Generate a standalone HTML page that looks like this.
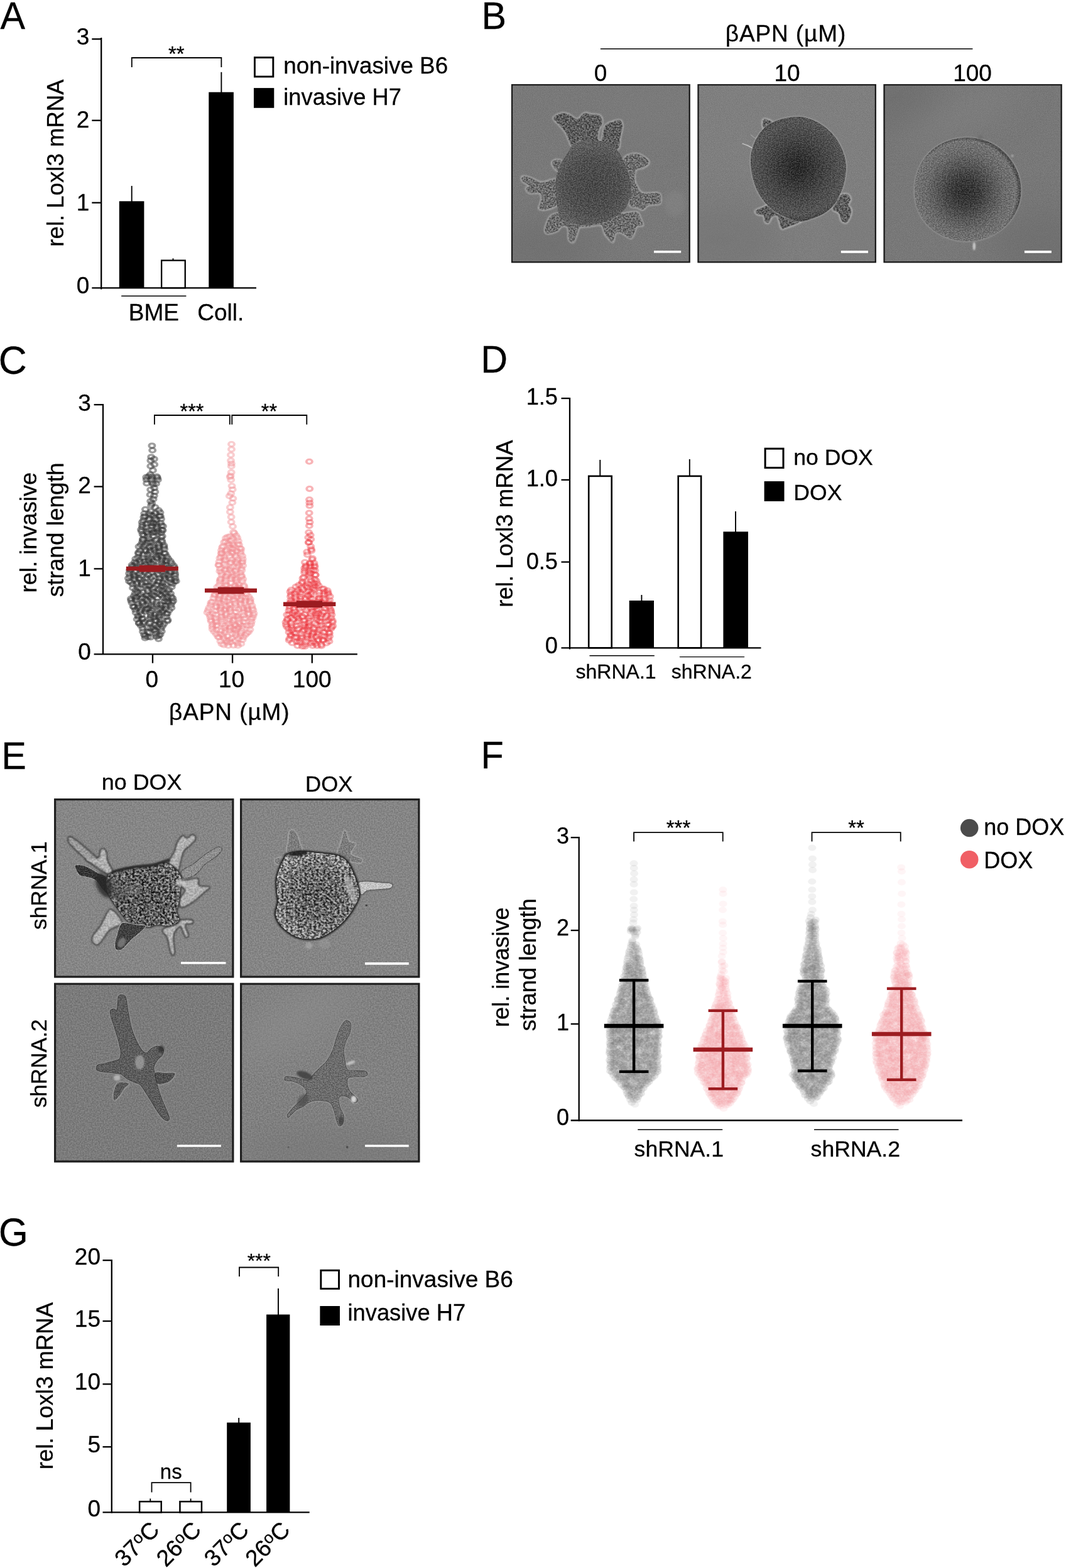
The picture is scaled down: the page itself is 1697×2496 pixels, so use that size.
<!DOCTYPE html>
<html lang="en">
<head>
<meta charset="utf-8">
<title>Figure</title>
<style>
html,body{margin:0;padding:0;background:#fff;}
body{width:1697px;height:2496px;overflow:hidden;}
svg{display:block;}
svg text{font-family:"Liberation Sans",sans-serif;fill:#000;stroke:#000;stroke-width:0.3px;}
</style>
</head>
<body>
<svg width="1697" height="2496" viewBox="0 0 1697 2496">
<text transform="translate(0.6 45.7) scale(0.965 1)" font-size="61.5">A</text>
<text transform="translate(766.4 45.7) scale(0.965 1)" font-size="61.5">B</text>
<text transform="translate(-2.2 595.4) scale(0.98 1)" font-size="63.5">C</text>
<text transform="translate(765.2 593.0) scale(0.965 1)" font-size="61.5">D</text>
<text transform="translate(2.2 1223.8) scale(0.965 1)" font-size="61.5">E</text>
<text transform="translate(765.6 1223.4) scale(0.965 1)" font-size="61.5">F</text>
<text transform="translate(-2.0 1982.9) scale(0.96 1)" font-size="62.5">G</text>
<line x1="161.2" y1="59.9" x2="161.2" y2="460.5" stroke="#000" stroke-width="2.3"/>
<line x1="146.3" y1="458.3" x2="408" y2="458.3" stroke="#000" stroke-width="2.3"/>
<line x1="146.3" y1="62.2" x2="161.2" y2="62.2" stroke="#000" stroke-width="2.3"/>
<line x1="146.3" y1="191.7" x2="161.2" y2="191.7" stroke="#000" stroke-width="2.3"/>
<line x1="146.3" y1="322.7" x2="161.2" y2="322.7" stroke="#000" stroke-width="2.3"/>
<text x="142.3" y="71.2" font-size="37" text-anchor="end">3</text>
<text x="142.3" y="203.4" font-size="37" text-anchor="end">2</text>
<text x="142.3" y="335" font-size="37" text-anchor="end">1</text>
<text x="142.3" y="467" font-size="37" text-anchor="end">0</text>
<text x="100.9" y="259.5" font-size="36.6" text-anchor="middle" transform="rotate(-90 100.9 259.5)">rel. Loxl3 mRNA</text>
<rect x="189.80" y="320.30" width="39.60" height="138.00" fill="#000"/>
<rect x="257.15" y="414.55" width="37.60" height="43.75" fill="#fff" stroke="#000" stroke-width="2.3"/>
<rect x="332.30" y="146.70" width="39.60" height="311.60" fill="#000"/>
<line x1="209.7" y1="295.9" x2="209.7" y2="321" stroke="#000" stroke-width="1.9"/>
<line x1="275.5" y1="411.3" x2="275.5" y2="414" stroke="#000" stroke-width="1.9"/>
<line x1="352.4" y1="114.8" x2="352.4" y2="147" stroke="#000" stroke-width="1.9"/>
<path d="M209.8 106.9V92H352.4V106.9" fill="none" stroke="#000" stroke-width="1.8"/>
<text x="280.8" y="97" font-size="33" text-anchor="middle">**</text>
<line x1="193.2" y1="471.3" x2="296.4" y2="471.3" stroke="#000" stroke-width="1.4"/>
<text x="244.9" y="509.7" font-size="37" text-anchor="middle">BME</text>
<text x="351.2" y="509.7" font-size="37" text-anchor="middle">Coll.</text>
<rect x="405.45" y="91.55" width="29.40" height="30.45" fill="#fff" stroke="#000" stroke-width="2.9"/>
<rect x="404.00" y="140.10" width="32.30" height="31.70" fill="#000"/>
<text x="451.3" y="117" font-size="36.8" text-anchor="start">non-invasive B6</text>
<text x="451.3" y="166.5" font-size="36.3" text-anchor="start">invasive H7</text>
<line x1="907" y1="633" x2="907" y2="1033.5" stroke="#000" stroke-width="2.3"/>
<line x1="893.5" y1="1031.3" x2="1211.5" y2="1031.3" stroke="#000" stroke-width="2.3"/>
<line x1="893.5" y1="634.1" x2="907" y2="634.1" stroke="#000" stroke-width="2.3"/>
<line x1="893.5" y1="763.9" x2="907" y2="763.9" stroke="#000" stroke-width="2.3"/>
<line x1="893.5" y1="894.6" x2="907" y2="894.6" stroke="#000" stroke-width="2.3"/>
<text x="888" y="644.3" font-size="36.2" text-anchor="end">1.5</text>
<text x="888" y="774.4" font-size="36.2" text-anchor="end">1.0</text>
<text x="888" y="905.6" font-size="36.2" text-anchor="end">0.5</text>
<text x="888" y="1039.6" font-size="36.2" text-anchor="end">0</text>
<text x="816.2" y="833.6" font-size="36.6" text-anchor="middle" transform="rotate(-90 816.2 833.6)">rel. Loxl3 mRNA</text>
<rect x="937.20" y="757.90" width="36.50" height="273.40" fill="#fff" stroke="#000" stroke-width="2.6"/>
<rect x="1001.70" y="956.00" width="39.30" height="75.30" fill="#000"/>
<rect x="1079.70" y="757.90" width="36.40" height="273.40" fill="#fff" stroke="#000" stroke-width="2.6"/>
<rect x="1151.40" y="846.30" width="39.60" height="185.00" fill="#000"/>
<line x1="955.3" y1="732" x2="955.3" y2="757.5" stroke="#000" stroke-width="1.9"/>
<line x1="1021.4" y1="947" x2="1021.4" y2="957" stroke="#000" stroke-width="1.9"/>
<line x1="1097.8" y1="731" x2="1097.8" y2="757.5" stroke="#000" stroke-width="1.9"/>
<line x1="1171" y1="814" x2="1171" y2="847" stroke="#000" stroke-width="1.9"/>
<line x1="938.5" y1="1043.7" x2="1041.8" y2="1043.7" stroke="#000" stroke-width="1.4"/>
<line x1="1081.9" y1="1045.6" x2="1185.1" y2="1045.6" stroke="#000" stroke-width="1.4"/>
<text x="980.6" y="1080" font-size="32" text-anchor="middle">shRNA.1</text>
<text x="1132.8" y="1080" font-size="32" text-anchor="middle">shRNA.2</text>
<rect x="1218.10" y="714.20" width="28.90" height="30.40" fill="#fff" stroke="#000" stroke-width="3"/>
<rect x="1216.60" y="766.10" width="31.90" height="31.80" fill="#000"/>
<text x="1263.3" y="739.6" font-size="35.6" text-anchor="start">no DOX</text>
<text x="1263.3" y="796.4" font-size="35.6" text-anchor="start">DOX</text>
<line x1="177.8" y1="2005" x2="177.8" y2="2408.6" stroke="#000" stroke-width="2.3"/>
<line x1="163.5" y1="2407.4" x2="492.7" y2="2407.4" stroke="#000" stroke-width="2.3"/>
<line x1="163.5" y1="2006.2" x2="177.8" y2="2006.2" stroke="#000" stroke-width="2.3"/>
<line x1="163.5" y1="2103" x2="177.8" y2="2103" stroke="#000" stroke-width="2.3"/>
<line x1="163.5" y1="2203.3" x2="177.8" y2="2203.3" stroke="#000" stroke-width="2.3"/>
<line x1="163.5" y1="2303.2" x2="177.8" y2="2303.2" stroke="#000" stroke-width="2.3"/>
<text x="160" y="2013.3" font-size="37" text-anchor="end">20</text>
<text x="160" y="2111.8" font-size="37" text-anchor="end">15</text>
<text x="160" y="2212" font-size="37" text-anchor="end">10</text>
<text x="160" y="2311.6" font-size="37" text-anchor="end">5</text>
<text x="160" y="2413.8" font-size="37" text-anchor="end">0</text>
<text x="84" y="2206" font-size="36.6" text-anchor="middle" transform="rotate(-90 84 2206)">rel. Loxl3 mRNA</text>
<rect x="222.15" y="2390.25" width="34.60" height="17.15" fill="#fff" stroke="#000" stroke-width="2.5"/>
<rect x="286.45" y="2390.25" width="34.50" height="17.15" fill="#fff" stroke="#000" stroke-width="2.5"/>
<rect x="361.20" y="2264.50" width="37.70" height="142.90" fill="#000"/>
<rect x="424.10" y="2092.50" width="37.30" height="314.90" fill="#000"/>
<line x1="239.3" y1="2385.5" x2="239.3" y2="2389" stroke="#000" stroke-width="1.9"/>
<line x1="303.6" y1="2385.5" x2="303.6" y2="2389" stroke="#000" stroke-width="1.9"/>
<line x1="380.2" y1="2257" x2="380.2" y2="2265" stroke="#000" stroke-width="1.9"/>
<line x1="443" y1="2050.9" x2="443" y2="2093" stroke="#000" stroke-width="1.9"/>
<path d="M241.5 2375.6V2360.2H303.6V2375.6" fill="none" stroke="#000" stroke-width="1.8"/>
<text x="272.3" y="2353.6" font-size="33" text-anchor="middle">ns</text>
<path d="M381 2032V2017.5H443.2V2032" fill="none" stroke="#000" stroke-width="1.8"/>
<text x="412.3" y="2018" font-size="31.8" text-anchor="middle">***</text>
<rect x="510.85" y="2022.25" width="28.70" height="29.15" fill="#fff" stroke="#000" stroke-width="2.9"/>
<rect x="509.40" y="2079.00" width="31.60" height="31.00" fill="#000"/>
<text x="553.5" y="2048.6" font-size="37" text-anchor="start">non-invasive B6</text>
<text x="553.5" y="2102" font-size="36.3" text-anchor="start">invasive H7</text>
<text x="256" y="2437.5" font-size="37" text-anchor="end" transform="rotate(-45 256 2437.5)">37<tspan font-size="26" dy="-10">o</tspan><tspan dy="10">C</tspan></text>
<text x="322.5" y="2437.5" font-size="37" text-anchor="end" transform="rotate(-45 322.5 2437.5)">26<tspan font-size="26" dy="-10">o</tspan><tspan dy="10">C</tspan></text>
<text x="398.5" y="2437.5" font-size="37" text-anchor="end" transform="rotate(-45 398.5 2437.5)">37<tspan font-size="26" dy="-10">o</tspan><tspan dy="10">C</tspan></text>
<text x="464" y="2437.5" font-size="37" text-anchor="end" transform="rotate(-45 464 2437.5)">26<tspan font-size="26" dy="-10">o</tspan><tspan dy="10">C</tspan></text>
<line x1="164" y1="643" x2="164" y2="1042" stroke="#000" stroke-width="2.3"/>
<line x1="149.6" y1="1041.3" x2="568.9" y2="1041.3" stroke="#000" stroke-width="2.3"/>
<line x1="149.6" y1="644.2" x2="164" y2="644.2" stroke="#000" stroke-width="2.3"/>
<line x1="149.6" y1="774.6" x2="164" y2="774.6" stroke="#000" stroke-width="2.3"/>
<line x1="149.6" y1="905.4" x2="164" y2="905.4" stroke="#000" stroke-width="2.3"/>
<line x1="243.0" y1="1041" x2="243.0" y2="1055.6" stroke="#000" stroke-width="2.3"/>
<line x1="370.1" y1="1041" x2="370.1" y2="1055.6" stroke="#000" stroke-width="2.3"/>
<line x1="496.8" y1="1041" x2="496.8" y2="1055.6" stroke="#000" stroke-width="2.3"/>
<text x="144.8" y="653.5" font-size="37" text-anchor="end">3</text>
<text x="144.8" y="785.4" font-size="37" text-anchor="end">2</text>
<text x="144.8" y="917.4" font-size="37" text-anchor="end">1</text>
<text x="144.8" y="1050" font-size="37" text-anchor="end">0</text>
<text x="241.8" y="1093.5" font-size="37" text-anchor="middle">0</text>
<text x="368.6" y="1093.5" font-size="37" text-anchor="middle">10</text>
<text x="496.7" y="1093.5" font-size="37" text-anchor="middle">100</text>
<text x="365.3" y="1146" font-size="37" text-anchor="middle" letter-spacing="0.9">βAPN (µM)</text>
<text x="57.6" y="847.6" font-size="36.3" text-anchor="middle" transform="rotate(-90 57.6 847.6)">rel. invasive</text>
<text x="101" y="843.4" font-size="37" text-anchor="middle" transform="rotate(-90 101 843.4)">strand length</text>
<g fill="none" stroke="#303030" stroke-opacity="0.47" stroke-width="3.9" transform="scale(1 0.775)">
<circle cx="241.9" cy="915.4" r="4.55"/><circle cx="242.7" cy="924.9" r="4.55"/><circle cx="240.7" cy="938.6" r="4.55"/><circle cx="245.4" cy="942.8" r="4.55"/><circle cx="239.9" cy="945.9" r="4.55"/><circle cx="245.7" cy="954.1" r="4.55"/><circle cx="239.8" cy="957.4" r="4.55"/><circle cx="243.4" cy="966.0" r="4.55"/><circle cx="236.6" cy="978.7" r="4.55"/><circle cx="239.3" cy="974.6" r="4.55"/><circle cx="249.6" cy="978.8" r="4.55"/><circle cx="232.8" cy="980.2" r="4.55"/><circle cx="241.8" cy="979.4" r="4.55"/><circle cx="250.5" cy="981.3" r="4.55"/><circle cx="233.2" cy="985.1" r="4.55"/><circle cx="240.6" cy="985.0" r="4.55"/><circle cx="251.3" cy="985.4" r="4.55"/><circle cx="233.6" cy="992.7" r="4.55"/><circle cx="242.7" cy="991.8" r="4.55"/><circle cx="248.5" cy="993.4" r="4.55"/><circle cx="244.2" cy="995.1" r="4.55"/><circle cx="245.6" cy="1002.6" r="4.55"/><circle cx="239.7" cy="1005.8" r="4.55"/><circle cx="246.8" cy="1010.2" r="4.55"/><circle cx="239.1" cy="1016.1" r="4.55"/><circle cx="245.3" cy="1018.2" r="4.55"/><circle cx="244.1" cy="1025.3" r="4.55"/><circle cx="239.7" cy="1029.4" r="4.55"/><circle cx="241.8" cy="1034.0" r="4.55"/><circle cx="240.6" cy="1038.0" r="4.55"/><circle cx="247.1" cy="1042.1" r="4.55"/><circle cx="231.4" cy="1046.1" r="4.55"/><circle cx="240.4" cy="1050.3" r="4.55"/><circle cx="252.5" cy="1048.0" r="4.55"/><circle cx="229.8" cy="1054.8" r="4.55"/><circle cx="237.4" cy="1055.1" r="4.55"/><circle cx="247.3" cy="1053.7" r="4.55"/><circle cx="255.0" cy="1052.6" r="4.55"/><circle cx="230.8" cy="1060.1" r="4.55"/><circle cx="240.9" cy="1058.0" r="4.55"/><circle cx="244.2" cy="1059.2" r="4.55"/><circle cx="254.0" cy="1060.0" r="4.55"/><circle cx="228.9" cy="1062.1" r="4.55"/><circle cx="238.2" cy="1064.8" r="4.55"/><circle cx="246.2" cy="1064.2" r="4.55"/><circle cx="255.4" cy="1060.4" r="4.55"/><circle cx="228.4" cy="1068.8" r="4.55"/><circle cx="236.5" cy="1068.0" r="4.55"/><circle cx="248.9" cy="1068.1" r="4.55"/><circle cx="256.5" cy="1066.0" r="4.55"/><circle cx="226.2" cy="1072.5" r="4.55"/><circle cx="239.6" cy="1074.3" r="4.55"/><circle cx="244.2" cy="1074.3" r="4.55"/><circle cx="255.7" cy="1074.0" r="4.55"/><circle cx="226.6" cy="1078.2" r="4.55"/><circle cx="233.1" cy="1076.0" r="4.55"/><circle cx="244.2" cy="1075.6" r="4.55"/><circle cx="248.7" cy="1075.5" r="4.55"/><circle cx="257.1" cy="1079.1" r="4.55"/><circle cx="226.5" cy="1082.5" r="4.55"/><circle cx="232.8" cy="1082.8" r="4.55"/><circle cx="242.3" cy="1080.0" r="4.55"/><circle cx="249.2" cy="1081.1" r="4.55"/><circle cx="259.5" cy="1080.7" r="4.55"/><circle cx="224.5" cy="1087.7" r="4.55"/><circle cx="236.8" cy="1088.8" r="4.55"/><circle cx="241.9" cy="1088.8" r="4.55"/><circle cx="249.1" cy="1086.1" r="4.55"/><circle cx="257.8" cy="1088.7" r="4.55"/><circle cx="225.4" cy="1091.4" r="4.55"/><circle cx="233.5" cy="1092.9" r="4.55"/><circle cx="245.4" cy="1092.0" r="4.55"/><circle cx="251.9" cy="1091.1" r="4.55"/><circle cx="259.1" cy="1089.2" r="4.55"/><circle cx="227.1" cy="1097.5" r="4.55"/><circle cx="235.4" cy="1095.8" r="4.55"/><circle cx="243.8" cy="1094.4" r="4.55"/><circle cx="248.4" cy="1094.0" r="4.55"/><circle cx="256.7" cy="1094.2" r="4.55"/><circle cx="228.8" cy="1100.0" r="4.55"/><circle cx="235.2" cy="1101.2" r="4.55"/><circle cx="244.9" cy="1101.2" r="4.55"/><circle cx="258.3" cy="1101.3" r="4.55"/><circle cx="227.4" cy="1107.6" r="4.55"/><circle cx="237.4" cy="1107.2" r="4.55"/><circle cx="249.3" cy="1107.0" r="4.55"/><circle cx="256.6" cy="1103.5" r="4.55"/><circle cx="227.7" cy="1108.6" r="4.55"/><circle cx="238.2" cy="1112.3" r="4.55"/><circle cx="247.4" cy="1110.4" r="4.55"/><circle cx="257.4" cy="1110.0" r="4.55"/><circle cx="226.6" cy="1113.0" r="4.55"/><circle cx="235.1" cy="1114.8" r="4.55"/><circle cx="240.9" cy="1113.6" r="4.55"/><circle cx="252.5" cy="1116.7" r="4.55"/><circle cx="258.2" cy="1113.5" r="4.55"/><circle cx="224.3" cy="1118.9" r="4.55"/><circle cx="230.8" cy="1119.5" r="4.55"/><circle cx="242.6" cy="1121.9" r="4.55"/><circle cx="253.4" cy="1120.2" r="4.55"/><circle cx="261.0" cy="1120.2" r="4.55"/><circle cx="221.0" cy="1122.7" r="4.55"/><circle cx="228.0" cy="1123.2" r="4.55"/><circle cx="238.6" cy="1123.7" r="4.55"/><circle cx="245.2" cy="1124.8" r="4.55"/><circle cx="252.7" cy="1124.0" r="4.55"/><circle cx="261.0" cy="1123.6" r="4.55"/><circle cx="223.1" cy="1130.9" r="4.55"/><circle cx="231.3" cy="1129.5" r="4.55"/><circle cx="238.7" cy="1130.8" r="4.55"/><circle cx="245.3" cy="1129.1" r="4.55"/><circle cx="253.9" cy="1131.8" r="4.55"/><circle cx="261.7" cy="1127.8" r="4.55"/><circle cx="220.5" cy="1134.7" r="4.55"/><circle cx="232.7" cy="1132.4" r="4.55"/><circle cx="238.5" cy="1134.6" r="4.55"/><circle cx="249.3" cy="1133.7" r="4.55"/><circle cx="253.3" cy="1134.5" r="4.55"/><circle cx="261.6" cy="1136.2" r="4.55"/><circle cx="220.5" cy="1137.0" r="4.55"/><circle cx="228.6" cy="1139.6" r="4.55"/><circle cx="235.1" cy="1138.7" r="4.55"/><circle cx="248.5" cy="1140.5" r="4.55"/><circle cx="252.6" cy="1140.4" r="4.55"/><circle cx="263.2" cy="1137.5" r="4.55"/><circle cx="219.7" cy="1144.7" r="4.55"/><circle cx="226.7" cy="1145.5" r="4.55"/><circle cx="237.4" cy="1146.0" r="4.55"/><circle cx="248.7" cy="1144.1" r="4.55"/><circle cx="257.8" cy="1144.1" r="4.55"/><circle cx="265.4" cy="1143.0" r="4.55"/><circle cx="215.8" cy="1147.8" r="4.55"/><circle cx="222.2" cy="1150.0" r="4.55"/><circle cx="236.5" cy="1149.7" r="4.55"/><circle cx="241.1" cy="1148.2" r="4.55"/><circle cx="250.2" cy="1146.6" r="4.55"/><circle cx="258.2" cy="1149.1" r="4.55"/><circle cx="267.8" cy="1147.5" r="4.55"/><circle cx="214.4" cy="1154.7" r="4.55"/><circle cx="224.3" cy="1155.1" r="4.55"/><circle cx="229.8" cy="1152.8" r="4.55"/><circle cx="236.2" cy="1152.1" r="4.55"/><circle cx="244.5" cy="1152.8" r="4.55"/><circle cx="256.7" cy="1151.5" r="4.55"/><circle cx="264.5" cy="1151.5" r="4.55"/><circle cx="271.3" cy="1152.7" r="4.55"/><circle cx="210.1" cy="1160.4" r="4.55"/><circle cx="217.0" cy="1156.8" r="4.55"/><circle cx="230.8" cy="1158.6" r="4.55"/><circle cx="240.5" cy="1157.0" r="4.55"/><circle cx="244.2" cy="1158.7" r="4.55"/><circle cx="257.7" cy="1156.3" r="4.55"/><circle cx="262.9" cy="1159.6" r="4.55"/><circle cx="273.3" cy="1157.1" r="4.55"/><circle cx="210.3" cy="1164.0" r="4.55"/><circle cx="214.4" cy="1160.7" r="4.55"/><circle cx="227.3" cy="1162.3" r="4.55"/><circle cx="233.8" cy="1164.6" r="4.55"/><circle cx="239.7" cy="1164.3" r="4.55"/><circle cx="249.5" cy="1163.0" r="4.55"/><circle cx="259.9" cy="1161.5" r="4.55"/><circle cx="264.9" cy="1161.3" r="4.55"/><circle cx="276.6" cy="1162.1" r="4.55"/><circle cx="208.0" cy="1169.3" r="4.55"/><circle cx="216.7" cy="1166.0" r="4.55"/><circle cx="222.9" cy="1168.0" r="4.55"/><circle cx="235.0" cy="1169.1" r="4.55"/><circle cx="244.4" cy="1168.3" r="4.55"/><circle cx="252.1" cy="1168.0" r="4.55"/><circle cx="262.6" cy="1170.0" r="4.55"/><circle cx="266.7" cy="1166.8" r="4.55"/><circle cx="277.4" cy="1165.7" r="4.55"/><circle cx="206.6" cy="1171.4" r="4.55"/><circle cx="216.4" cy="1173.4" r="4.55"/><circle cx="223.5" cy="1172.2" r="4.55"/><circle cx="231.5" cy="1172.2" r="4.55"/><circle cx="242.5" cy="1170.3" r="4.55"/><circle cx="253.7" cy="1171.0" r="4.55"/><circle cx="260.6" cy="1173.9" r="4.55"/><circle cx="272.7" cy="1174.7" r="4.55"/><circle cx="277.6" cy="1173.4" r="4.55"/><circle cx="205.6" cy="1177.7" r="4.55"/><circle cx="212.3" cy="1179.5" r="4.55"/><circle cx="222.4" cy="1177.6" r="4.55"/><circle cx="231.0" cy="1175.4" r="4.55"/><circle cx="242.2" cy="1175.8" r="4.55"/><circle cx="250.4" cy="1179.1" r="4.55"/><circle cx="263.5" cy="1179.3" r="4.55"/><circle cx="270.9" cy="1176.0" r="4.55"/><circle cx="278.6" cy="1178.2" r="4.55"/><circle cx="206.8" cy="1183.1" r="4.55"/><circle cx="213.6" cy="1182.6" r="4.55"/><circle cx="225.3" cy="1182.8" r="4.55"/><circle cx="236.1" cy="1180.8" r="4.55"/><circle cx="245.0" cy="1183.3" r="4.55"/><circle cx="252.5" cy="1181.5" r="4.55"/><circle cx="260.8" cy="1183.4" r="4.55"/><circle cx="268.1" cy="1181.1" r="4.55"/><circle cx="278.6" cy="1182.3" r="4.55"/><circle cx="204.3" cy="1187.8" r="4.55"/><circle cx="214.4" cy="1184.9" r="4.55"/><circle cx="221.4" cy="1187.3" r="4.55"/><circle cx="233.2" cy="1186.3" r="4.55"/><circle cx="240.1" cy="1186.5" r="4.55"/><circle cx="254.4" cy="1187.9" r="4.55"/><circle cx="262.6" cy="1186.8" r="4.55"/><circle cx="269.3" cy="1187.5" r="4.55"/><circle cx="278.9" cy="1188.5" r="4.55"/><circle cx="205.5" cy="1193.9" r="4.55"/><circle cx="214.8" cy="1189.7" r="4.55"/><circle cx="222.3" cy="1189.8" r="4.55"/><circle cx="234.6" cy="1189.7" r="4.55"/><circle cx="245.3" cy="1193.8" r="4.55"/><circle cx="252.3" cy="1193.8" r="4.55"/><circle cx="262.0" cy="1189.7" r="4.55"/><circle cx="272.2" cy="1190.4" r="4.55"/><circle cx="280.3" cy="1193.7" r="4.55"/><circle cx="208.2" cy="1195.9" r="4.55"/><circle cx="218.4" cy="1196.1" r="4.55"/><circle cx="225.4" cy="1196.3" r="4.55"/><circle cx="231.6" cy="1196.1" r="4.55"/><circle cx="242.5" cy="1198.3" r="4.55"/><circle cx="252.2" cy="1195.4" r="4.55"/><circle cx="259.2" cy="1196.7" r="4.55"/><circle cx="271.8" cy="1196.5" r="4.55"/><circle cx="278.0" cy="1194.2" r="4.55"/><circle cx="211.2" cy="1200.0" r="4.55"/><circle cx="217.4" cy="1199.7" r="4.55"/><circle cx="226.1" cy="1199.8" r="4.55"/><circle cx="236.4" cy="1202.4" r="4.55"/><circle cx="249.1" cy="1200.9" r="4.55"/><circle cx="258.6" cy="1202.8" r="4.55"/><circle cx="263.5" cy="1200.5" r="4.55"/><circle cx="274.7" cy="1199.4" r="4.55"/><circle cx="211.5" cy="1207.7" r="4.55"/><circle cx="219.1" cy="1207.4" r="4.55"/><circle cx="232.1" cy="1203.7" r="4.55"/><circle cx="238.5" cy="1203.7" r="4.55"/><circle cx="245.3" cy="1206.8" r="4.55"/><circle cx="256.5" cy="1206.6" r="4.55"/><circle cx="260.9" cy="1205.4" r="4.55"/><circle cx="273.2" cy="1205.7" r="4.55"/><circle cx="215.8" cy="1211.9" r="4.55"/><circle cx="223.1" cy="1209.0" r="4.55"/><circle cx="234.7" cy="1210.0" r="4.55"/><circle cx="242.6" cy="1210.0" r="4.55"/><circle cx="252.8" cy="1211.1" r="4.55"/><circle cx="257.9" cy="1212.7" r="4.55"/><circle cx="269.0" cy="1211.0" r="4.55"/><circle cx="218.9" cy="1216.1" r="4.55"/><circle cx="227.1" cy="1216.6" r="4.55"/><circle cx="235.4" cy="1214.1" r="4.55"/><circle cx="245.0" cy="1216.0" r="4.55"/><circle cx="250.7" cy="1217.5" r="4.55"/><circle cx="260.3" cy="1217.8" r="4.55"/><circle cx="267.9" cy="1215.3" r="4.55"/><circle cx="215.1" cy="1218.9" r="4.55"/><circle cx="224.0" cy="1221.1" r="4.55"/><circle cx="233.6" cy="1222.5" r="4.55"/><circle cx="241.3" cy="1220.8" r="4.55"/><circle cx="254.6" cy="1221.2" r="4.55"/><circle cx="263.8" cy="1218.3" r="4.55"/><circle cx="271.6" cy="1219.1" r="4.55"/><circle cx="213.3" cy="1224.1" r="4.55"/><circle cx="217.4" cy="1226.1" r="4.55"/><circle cx="227.0" cy="1226.3" r="4.55"/><circle cx="237.3" cy="1224.0" r="4.55"/><circle cx="244.6" cy="1223.1" r="4.55"/><circle cx="257.2" cy="1222.8" r="4.55"/><circle cx="266.8" cy="1226.4" r="4.55"/><circle cx="272.6" cy="1225.9" r="4.55"/><circle cx="208.4" cy="1229.6" r="4.55"/><circle cx="215.8" cy="1228.3" r="4.55"/><circle cx="225.7" cy="1228.8" r="4.55"/><circle cx="231.4" cy="1230.2" r="4.55"/><circle cx="239.5" cy="1227.8" r="4.55"/><circle cx="250.3" cy="1228.3" r="4.55"/><circle cx="260.3" cy="1228.2" r="4.55"/><circle cx="264.7" cy="1230.4" r="4.55"/><circle cx="274.9" cy="1228.9" r="4.55"/><circle cx="208.7" cy="1233.4" r="4.55"/><circle cx="216.0" cy="1232.6" r="4.55"/><circle cx="226.7" cy="1236.5" r="4.55"/><circle cx="234.9" cy="1234.4" r="4.55"/><circle cx="242.7" cy="1232.5" r="4.55"/><circle cx="249.4" cy="1235.7" r="4.55"/><circle cx="262.3" cy="1234.9" r="4.55"/><circle cx="266.6" cy="1235.7" r="4.55"/><circle cx="275.7" cy="1234.1" r="4.55"/><circle cx="209.9" cy="1238.2" r="4.55"/><circle cx="219.9" cy="1240.4" r="4.55"/><circle cx="226.9" cy="1239.9" r="4.55"/><circle cx="236.0" cy="1240.1" r="4.55"/><circle cx="249.2" cy="1241.1" r="4.55"/><circle cx="255.6" cy="1241.4" r="4.55"/><circle cx="268.2" cy="1238.2" r="4.55"/><circle cx="273.9" cy="1237.4" r="4.55"/><circle cx="212.0" cy="1245.9" r="4.55"/><circle cx="220.6" cy="1244.5" r="4.55"/><circle cx="231.8" cy="1242.5" r="4.55"/><circle cx="240.7" cy="1244.0" r="4.55"/><circle cx="244.6" cy="1245.4" r="4.55"/><circle cx="258.1" cy="1243.9" r="4.55"/><circle cx="263.3" cy="1243.7" r="4.55"/><circle cx="272.1" cy="1242.8" r="4.55"/><circle cx="213.5" cy="1246.9" r="4.55"/><circle cx="219.6" cy="1248.1" r="4.55"/><circle cx="232.5" cy="1251.0" r="4.55"/><circle cx="235.2" cy="1250.4" r="4.55"/><circle cx="243.4" cy="1250.1" r="4.55"/><circle cx="256.1" cy="1248.9" r="4.55"/><circle cx="263.5" cy="1250.0" r="4.55"/><circle cx="272.9" cy="1248.6" r="4.55"/><circle cx="215.5" cy="1252.6" r="4.55"/><circle cx="224.8" cy="1252.2" r="4.55"/><circle cx="231.4" cy="1252.4" r="4.55"/><circle cx="242.0" cy="1254.9" r="4.55"/><circle cx="254.4" cy="1252.5" r="4.55"/><circle cx="259.1" cy="1253.9" r="4.55"/><circle cx="269.3" cy="1253.5" r="4.55"/><circle cx="216.2" cy="1258.4" r="4.55"/><circle cx="222.9" cy="1257.1" r="4.55"/><circle cx="231.2" cy="1256.2" r="4.55"/><circle cx="239.1" cy="1258.4" r="4.55"/><circle cx="253.2" cy="1260.1" r="4.55"/><circle cx="257.8" cy="1257.1" r="4.55"/><circle cx="266.5" cy="1260.0" r="4.55"/><circle cx="219.5" cy="1264.6" r="4.55"/><circle cx="225.3" cy="1262.7" r="4.55"/><circle cx="240.1" cy="1263.4" r="4.55"/><circle cx="247.4" cy="1262.1" r="4.55"/><circle cx="253.6" cy="1263.9" r="4.55"/><circle cx="264.9" cy="1261.0" r="4.55"/><circle cx="220.8" cy="1268.1" r="4.55"/><circle cx="227.0" cy="1270.0" r="4.55"/><circle cx="239.8" cy="1267.7" r="4.55"/><circle cx="244.6" cy="1268.0" r="4.55"/><circle cx="252.9" cy="1267.0" r="4.55"/><circle cx="264.9" cy="1266.6" r="4.55"/><circle cx="218.1" cy="1272.0" r="4.55"/><circle cx="226.4" cy="1271.7" r="4.55"/><circle cx="238.4" cy="1271.6" r="4.55"/><circle cx="247.7" cy="1274.1" r="4.55"/><circle cx="254.6" cy="1272.5" r="4.55"/><circle cx="267.0" cy="1273.4" r="4.55"/><circle cx="221.2" cy="1279.4" r="4.55"/><circle cx="229.0" cy="1277.7" r="4.55"/><circle cx="239.1" cy="1277.7" r="4.55"/><circle cx="249.5" cy="1275.6" r="4.55"/><circle cx="254.4" cy="1278.1" r="4.55"/><circle cx="266.4" cy="1275.6" r="4.55"/><circle cx="221.5" cy="1280.5" r="4.55"/><circle cx="227.6" cy="1281.0" r="4.55"/><circle cx="237.9" cy="1280.2" r="4.55"/><circle cx="247.1" cy="1284.2" r="4.55"/><circle cx="254.3" cy="1282.3" r="4.55"/><circle cx="260.8" cy="1281.5" r="4.55"/><circle cx="224.1" cy="1284.9" r="4.55"/><circle cx="234.8" cy="1288.9" r="4.55"/><circle cx="244.0" cy="1289.0" r="4.55"/><circle cx="250.5" cy="1288.2" r="4.55"/><circle cx="258.6" cy="1285.9" r="4.55"/><circle cx="227.1" cy="1291.0" r="4.55"/><circle cx="239.7" cy="1289.8" r="4.55"/><circle cx="245.6" cy="1293.0" r="4.55"/><circle cx="256.2" cy="1291.3" r="4.55"/><circle cx="227.5" cy="1297.5" r="4.55"/><circle cx="235.2" cy="1298.2" r="4.55"/><circle cx="246.9" cy="1295.3" r="4.55"/><circle cx="257.3" cy="1296.7" r="4.55"/><circle cx="229.4" cy="1303.3" r="4.55"/><circle cx="238.0" cy="1299.7" r="4.55"/><circle cx="248.5" cy="1301.5" r="4.55"/><circle cx="255.1" cy="1303.0" r="4.55"/><circle cx="231.0" cy="1306.3" r="4.55"/><circle cx="235.4" cy="1308.4" r="4.55"/><circle cx="249.3" cy="1307.3" r="4.55"/><circle cx="252.9" cy="1305.7" r="4.55"/><circle cx="231.0" cy="1310.6" r="4.55"/><circle cx="239.9" cy="1309.0" r="4.55"/><circle cx="252.4" cy="1312.4" r="4.55"/>
</g>
<g fill="none" stroke="#f08a90" stroke-opacity="0.42" stroke-width="3.9" transform="scale(1 0.775)">
<circle cx="368.5" cy="912.2" r="4.55"/><circle cx="368.5" cy="922.8" r="4.55"/><circle cx="367.5" cy="934.4" r="4.55"/><circle cx="367.5" cy="946.0" r="4.55"/><circle cx="368.4" cy="952.3" r="4.55"/><circle cx="368.3" cy="957.6" r="4.55"/><circle cx="368.2" cy="970.2" r="4.55"/><circle cx="367.0" cy="977.1" r="4.55"/><circle cx="366.2" cy="979.7" r="4.55"/><circle cx="367.7" cy="985.6" r="4.55"/><circle cx="369.1" cy="998.0" r="4.55"/><circle cx="370.2" cy="1005.4" r="4.55"/><circle cx="367.7" cy="1013.7" r="4.55"/><circle cx="365.3" cy="1018.9" r="4.55"/><circle cx="370.9" cy="1023.9" r="4.55"/><circle cx="369.9" cy="1032.3" r="4.55"/><circle cx="366.4" cy="1042.1" r="4.55"/><circle cx="366.4" cy="1051.4" r="4.55"/><circle cx="368.1" cy="1061.8" r="4.55"/><circle cx="368.1" cy="1072.3" r="4.55"/><circle cx="370.5" cy="1081.3" r="4.55"/><circle cx="371.6" cy="1093.0" r="4.55"/><circle cx="373.0" cy="1095.2" r="4.55"/><circle cx="362.2" cy="1102.8" r="4.55"/><circle cx="365.8" cy="1101.9" r="4.55"/><circle cx="376.0" cy="1100.5" r="4.55"/><circle cx="359.4" cy="1105.4" r="4.55"/><circle cx="370.7" cy="1105.5" r="4.55"/><circle cx="377.8" cy="1104.8" r="4.55"/><circle cx="359.1" cy="1112.1" r="4.55"/><circle cx="367.8" cy="1110.6" r="4.55"/><circle cx="379.5" cy="1111.3" r="4.55"/><circle cx="356.7" cy="1113.7" r="4.55"/><circle cx="363.1" cy="1115.9" r="4.55"/><circle cx="369.6" cy="1116.9" r="4.55"/><circle cx="378.5" cy="1116.9" r="4.55"/><circle cx="355.0" cy="1121.9" r="4.55"/><circle cx="365.2" cy="1119.8" r="4.55"/><circle cx="372.2" cy="1120.5" r="4.55"/><circle cx="380.6" cy="1118.9" r="4.55"/><circle cx="353.6" cy="1124.6" r="4.55"/><circle cx="366.3" cy="1125.1" r="4.55"/><circle cx="369.8" cy="1126.0" r="4.55"/><circle cx="382.2" cy="1126.5" r="4.55"/><circle cx="352.4" cy="1130.5" r="4.55"/><circle cx="360.3" cy="1130.0" r="4.55"/><circle cx="371.4" cy="1128.1" r="4.55"/><circle cx="383.8" cy="1127.5" r="4.55"/><circle cx="352.7" cy="1135.8" r="4.55"/><circle cx="358.7" cy="1132.8" r="4.55"/><circle cx="370.4" cy="1133.8" r="4.55"/><circle cx="377.1" cy="1131.9" r="4.55"/><circle cx="383.0" cy="1132.6" r="4.55"/><circle cx="352.4" cy="1136.9" r="4.55"/><circle cx="362.8" cy="1136.7" r="4.55"/><circle cx="369.5" cy="1136.7" r="4.55"/><circle cx="374.5" cy="1140.3" r="4.55"/><circle cx="383.0" cy="1137.4" r="4.55"/><circle cx="351.7" cy="1143.1" r="4.55"/><circle cx="356.6" cy="1145.9" r="4.55"/><circle cx="365.8" cy="1141.5" r="4.55"/><circle cx="375.4" cy="1144.2" r="4.55"/><circle cx="385.7" cy="1141.9" r="4.55"/><circle cx="349.9" cy="1146.3" r="4.55"/><circle cx="358.9" cy="1149.7" r="4.55"/><circle cx="369.5" cy="1150.3" r="4.55"/><circle cx="378.4" cy="1150.1" r="4.55"/><circle cx="386.3" cy="1148.3" r="4.55"/><circle cx="348.9" cy="1154.0" r="4.55"/><circle cx="357.7" cy="1151.4" r="4.55"/><circle cx="367.7" cy="1154.9" r="4.55"/><circle cx="374.7" cy="1153.6" r="4.55"/><circle cx="385.9" cy="1153.3" r="4.55"/><circle cx="348.2" cy="1160.1" r="4.55"/><circle cx="357.2" cy="1158.5" r="4.55"/><circle cx="367.5" cy="1155.7" r="4.55"/><circle cx="377.7" cy="1156.3" r="4.55"/><circle cx="385.2" cy="1155.8" r="4.55"/><circle cx="348.1" cy="1160.9" r="4.55"/><circle cx="359.4" cy="1162.8" r="4.55"/><circle cx="371.1" cy="1164.8" r="4.55"/><circle cx="380.6" cy="1161.5" r="4.55"/><circle cx="386.7" cy="1161.6" r="4.55"/><circle cx="350.4" cy="1168.1" r="4.55"/><circle cx="361.0" cy="1168.5" r="4.55"/><circle cx="366.4" cy="1167.2" r="4.55"/><circle cx="377.1" cy="1165.2" r="4.55"/><circle cx="384.4" cy="1167.1" r="4.55"/><circle cx="349.8" cy="1173.3" r="4.55"/><circle cx="357.9" cy="1170.4" r="4.55"/><circle cx="366.0" cy="1171.1" r="4.55"/><circle cx="374.7" cy="1172.4" r="4.55"/><circle cx="384.9" cy="1171.4" r="4.55"/><circle cx="352.4" cy="1175.7" r="4.55"/><circle cx="362.6" cy="1179.2" r="4.55"/><circle cx="369.5" cy="1176.8" r="4.55"/><circle cx="376.1" cy="1177.5" r="4.55"/><circle cx="382.6" cy="1176.7" r="4.55"/><circle cx="353.0" cy="1180.4" r="4.55"/><circle cx="360.4" cy="1183.3" r="4.55"/><circle cx="372.2" cy="1181.9" r="4.55"/><circle cx="384.5" cy="1182.4" r="4.55"/><circle cx="351.4" cy="1188.9" r="4.55"/><circle cx="359.2" cy="1184.4" r="4.55"/><circle cx="369.2" cy="1184.8" r="4.55"/><circle cx="374.7" cy="1188.2" r="4.55"/><circle cx="384.4" cy="1184.4" r="4.55"/><circle cx="350.5" cy="1191.0" r="4.55"/><circle cx="359.2" cy="1190.0" r="4.55"/><circle cx="368.6" cy="1189.4" r="4.55"/><circle cx="375.3" cy="1190.8" r="4.55"/><circle cx="386.8" cy="1189.4" r="4.55"/><circle cx="350.0" cy="1194.7" r="4.55"/><circle cx="359.1" cy="1195.7" r="4.55"/><circle cx="367.8" cy="1197.4" r="4.55"/><circle cx="376.7" cy="1194.4" r="4.55"/><circle cx="385.6" cy="1194.2" r="4.55"/><circle cx="348.9" cy="1201.6" r="4.55"/><circle cx="358.8" cy="1201.8" r="4.55"/><circle cx="360.9" cy="1201.7" r="4.55"/><circle cx="373.8" cy="1202.0" r="4.55"/><circle cx="380.1" cy="1200.3" r="4.55"/><circle cx="388.1" cy="1202.3" r="4.55"/><circle cx="345.7" cy="1205.8" r="4.55"/><circle cx="354.9" cy="1207.8" r="4.55"/><circle cx="365.6" cy="1207.7" r="4.55"/><circle cx="374.5" cy="1204.8" r="4.55"/><circle cx="379.2" cy="1205.7" r="4.55"/><circle cx="388.8" cy="1205.4" r="4.55"/><circle cx="345.6" cy="1212.4" r="4.55"/><circle cx="354.8" cy="1212.0" r="4.55"/><circle cx="360.8" cy="1209.8" r="4.55"/><circle cx="375.8" cy="1208.9" r="4.55"/><circle cx="381.2" cy="1208.5" r="4.55"/><circle cx="389.6" cy="1212.3" r="4.55"/><circle cx="345.1" cy="1216.0" r="4.55"/><circle cx="349.3" cy="1214.3" r="4.55"/><circle cx="358.1" cy="1216.1" r="4.55"/><circle cx="369.2" cy="1215.0" r="4.55"/><circle cx="376.3" cy="1213.5" r="4.55"/><circle cx="384.6" cy="1217.4" r="4.55"/><circle cx="393.3" cy="1213.4" r="4.55"/><circle cx="342.0" cy="1221.0" r="4.55"/><circle cx="349.1" cy="1221.9" r="4.55"/><circle cx="359.1" cy="1221.0" r="4.55"/><circle cx="367.4" cy="1222.3" r="4.55"/><circle cx="378.5" cy="1220.4" r="4.55"/><circle cx="383.1" cy="1219.8" r="4.55"/><circle cx="392.5" cy="1220.5" r="4.55"/><circle cx="341.6" cy="1223.3" r="4.55"/><circle cx="349.7" cy="1224.7" r="4.55"/><circle cx="358.2" cy="1225.8" r="4.55"/><circle cx="370.8" cy="1225.8" r="4.55"/><circle cx="377.0" cy="1227.0" r="4.55"/><circle cx="385.3" cy="1226.0" r="4.55"/><circle cx="396.1" cy="1226.0" r="4.55"/><circle cx="340.0" cy="1228.3" r="4.55"/><circle cx="348.0" cy="1229.1" r="4.55"/><circle cx="356.6" cy="1231.8" r="4.55"/><circle cx="364.7" cy="1227.3" r="4.55"/><circle cx="371.9" cy="1230.6" r="4.55"/><circle cx="382.9" cy="1230.3" r="4.55"/><circle cx="390.8" cy="1227.4" r="4.55"/><circle cx="398.5" cy="1230.7" r="4.55"/><circle cx="337.7" cy="1236.3" r="4.55"/><circle cx="348.6" cy="1232.5" r="4.55"/><circle cx="356.9" cy="1235.6" r="4.55"/><circle cx="361.7" cy="1235.5" r="4.55"/><circle cx="372.9" cy="1232.9" r="4.55"/><circle cx="383.1" cy="1232.7" r="4.55"/><circle cx="390.6" cy="1234.1" r="4.55"/><circle cx="397.9" cy="1234.7" r="4.55"/><circle cx="335.8" cy="1237.8" r="4.55"/><circle cx="348.0" cy="1237.2" r="4.55"/><circle cx="351.1" cy="1239.1" r="4.55"/><circle cx="365.6" cy="1239.9" r="4.55"/><circle cx="374.2" cy="1239.1" r="4.55"/><circle cx="382.9" cy="1238.4" r="4.55"/><circle cx="389.5" cy="1239.2" r="4.55"/><circle cx="398.6" cy="1237.2" r="4.55"/><circle cx="335.3" cy="1242.4" r="4.55"/><circle cx="344.5" cy="1245.2" r="4.55"/><circle cx="350.6" cy="1244.7" r="4.55"/><circle cx="361.5" cy="1245.6" r="4.55"/><circle cx="365.7" cy="1242.3" r="4.55"/><circle cx="375.6" cy="1243.8" r="4.55"/><circle cx="383.4" cy="1241.6" r="4.55"/><circle cx="393.5" cy="1246.1" r="4.55"/><circle cx="401.1" cy="1244.1" r="4.55"/><circle cx="332.7" cy="1248.4" r="4.55"/><circle cx="344.2" cy="1247.8" r="4.55"/><circle cx="351.5" cy="1248.6" r="4.55"/><circle cx="359.5" cy="1250.6" r="4.55"/><circle cx="365.3" cy="1250.2" r="4.55"/><circle cx="375.5" cy="1249.4" r="4.55"/><circle cx="387.4" cy="1249.4" r="4.55"/><circle cx="393.5" cy="1250.3" r="4.55"/><circle cx="401.6" cy="1249.3" r="4.55"/><circle cx="331.3" cy="1253.6" r="4.55"/><circle cx="343.0" cy="1254.8" r="4.55"/><circle cx="350.7" cy="1252.6" r="4.55"/><circle cx="357.2" cy="1253.3" r="4.55"/><circle cx="366.3" cy="1252.4" r="4.55"/><circle cx="380.0" cy="1251.7" r="4.55"/><circle cx="388.2" cy="1252.9" r="4.55"/><circle cx="394.4" cy="1252.6" r="4.55"/><circle cx="403.0" cy="1253.3" r="4.55"/><circle cx="330.0" cy="1258.0" r="4.55"/><circle cx="339.0" cy="1260.1" r="4.55"/><circle cx="352.2" cy="1258.0" r="4.55"/><circle cx="359.7" cy="1260.2" r="4.55"/><circle cx="366.9" cy="1256.4" r="4.55"/><circle cx="375.6" cy="1256.8" r="4.55"/><circle cx="387.6" cy="1257.7" r="4.55"/><circle cx="394.8" cy="1259.6" r="4.55"/><circle cx="404.1" cy="1259.7" r="4.55"/><circle cx="333.6" cy="1262.5" r="4.55"/><circle cx="343.9" cy="1262.3" r="4.55"/><circle cx="353.0" cy="1265.0" r="4.55"/><circle cx="359.3" cy="1263.9" r="4.55"/><circle cx="370.9" cy="1264.1" r="4.55"/><circle cx="378.3" cy="1264.7" r="4.55"/><circle cx="388.2" cy="1264.2" r="4.55"/><circle cx="397.2" cy="1262.0" r="4.55"/><circle cx="403.2" cy="1263.8" r="4.55"/><circle cx="334.8" cy="1267.3" r="4.55"/><circle cx="342.5" cy="1269.9" r="4.55"/><circle cx="353.0" cy="1267.7" r="4.55"/><circle cx="365.8" cy="1266.3" r="4.55"/><circle cx="375.6" cy="1266.1" r="4.55"/><circle cx="379.0" cy="1267.1" r="4.55"/><circle cx="390.5" cy="1269.7" r="4.55"/><circle cx="402.0" cy="1269.0" r="4.55"/><circle cx="335.7" cy="1272.8" r="4.55"/><circle cx="343.4" cy="1274.1" r="4.55"/><circle cx="353.5" cy="1271.6" r="4.55"/><circle cx="364.3" cy="1270.9" r="4.55"/><circle cx="371.4" cy="1274.5" r="4.55"/><circle cx="379.2" cy="1270.9" r="4.55"/><circle cx="389.0" cy="1271.4" r="4.55"/><circle cx="399.8" cy="1271.4" r="4.55"/><circle cx="336.2" cy="1276.2" r="4.55"/><circle cx="344.0" cy="1277.8" r="4.55"/><circle cx="353.5" cy="1276.7" r="4.55"/><circle cx="365.2" cy="1275.3" r="4.55"/><circle cx="370.2" cy="1279.0" r="4.55"/><circle cx="381.0" cy="1278.6" r="4.55"/><circle cx="388.0" cy="1277.4" r="4.55"/><circle cx="400.4" cy="1276.6" r="4.55"/><circle cx="338.3" cy="1282.6" r="4.55"/><circle cx="345.5" cy="1284.4" r="4.55"/><circle cx="354.2" cy="1282.0" r="4.55"/><circle cx="364.4" cy="1281.3" r="4.55"/><circle cx="374.5" cy="1282.6" r="4.55"/><circle cx="381.7" cy="1282.3" r="4.55"/><circle cx="393.0" cy="1284.4" r="4.55"/><circle cx="399.7" cy="1281.9" r="4.55"/><circle cx="337.9" cy="1287.0" r="4.55"/><circle cx="343.8" cy="1285.1" r="4.55"/><circle cx="358.4" cy="1285.2" r="4.55"/><circle cx="366.5" cy="1287.7" r="4.55"/><circle cx="374.9" cy="1284.9" r="4.55"/><circle cx="379.6" cy="1288.3" r="4.55"/><circle cx="386.2" cy="1285.1" r="4.55"/><circle cx="397.4" cy="1285.4" r="4.55"/><circle cx="338.2" cy="1292.4" r="4.55"/><circle cx="344.9" cy="1293.8" r="4.55"/><circle cx="356.7" cy="1289.6" r="4.55"/><circle cx="366.5" cy="1290.5" r="4.55"/><circle cx="372.0" cy="1291.9" r="4.55"/><circle cx="378.0" cy="1291.7" r="4.55"/><circle cx="385.7" cy="1290.3" r="4.55"/><circle cx="398.0" cy="1293.2" r="4.55"/><circle cx="340.9" cy="1297.3" r="4.55"/><circle cx="352.3" cy="1294.8" r="4.55"/><circle cx="358.9" cy="1294.7" r="4.55"/><circle cx="365.5" cy="1294.6" r="4.55"/><circle cx="375.2" cy="1294.4" r="4.55"/><circle cx="384.3" cy="1295.9" r="4.55"/><circle cx="395.6" cy="1298.1" r="4.55"/><circle cx="344.2" cy="1302.2" r="4.55"/><circle cx="351.3" cy="1303.1" r="4.55"/><circle cx="357.5" cy="1299.4" r="4.55"/><circle cx="370.0" cy="1301.8" r="4.55"/><circle cx="374.5" cy="1300.6" r="4.55"/><circle cx="383.4" cy="1300.9" r="4.55"/><circle cx="392.9" cy="1300.7" r="4.55"/><circle cx="346.8" cy="1307.4" r="4.55"/><circle cx="355.1" cy="1305.9" r="4.55"/><circle cx="362.2" cy="1307.2" r="4.55"/><circle cx="375.5" cy="1304.7" r="4.55"/><circle cx="382.6" cy="1306.9" r="4.55"/><circle cx="390.7" cy="1303.8" r="4.55"/><circle cx="348.7" cy="1309.4" r="4.55"/><circle cx="356.3" cy="1311.1" r="4.55"/><circle cx="368.9" cy="1311.3" r="4.55"/><circle cx="379.3" cy="1311.7" r="4.55"/><circle cx="387.4" cy="1308.7" r="4.55"/><circle cx="350.9" cy="1317.0" r="4.55"/><circle cx="361.1" cy="1316.0" r="4.55"/><circle cx="365.0" cy="1314.1" r="4.55"/><circle cx="374.5" cy="1316.2" r="4.55"/><circle cx="386.1" cy="1314.1" r="4.55"/><circle cx="352.9" cy="1322.5" r="4.55"/><circle cx="362.3" cy="1320.1" r="4.55"/><circle cx="366.7" cy="1319.0" r="4.55"/><circle cx="378.3" cy="1321.2" r="4.55"/><circle cx="383.8" cy="1322.2" r="4.55"/><circle cx="356.3" cy="1324.7" r="4.55"/><circle cx="363.5" cy="1326.1" r="4.55"/><circle cx="371.7" cy="1325.8" r="4.55"/><circle cx="378.7" cy="1326.0" r="4.55"/>
</g>
<g fill="none" stroke="#ec2f38" stroke-opacity="0.36" stroke-width="3.9" transform="scale(1 0.775)">
<circle cx="492.4" cy="948.1" r="4.55"/><circle cx="492.8" cy="1004.0" r="4.55"/><circle cx="492.5" cy="1026.1" r="4.55"/><circle cx="492.8" cy="1032.5" r="4.55"/><circle cx="492.9" cy="1038.8" r="4.55"/><circle cx="492.2" cy="1053.6" r="4.55"/><circle cx="492.1" cy="1065.2" r="4.55"/><circle cx="493.1" cy="1072.5" r="4.55"/><circle cx="492.4" cy="1079.9" r="4.55"/><circle cx="491.6" cy="1093.6" r="4.55"/><circle cx="494.2" cy="1099.0" r="4.55"/><circle cx="490.8" cy="1103.8" r="4.55"/><circle cx="494.8" cy="1107.7" r="4.55"/><circle cx="491.6" cy="1113.8" r="4.55"/><circle cx="491.3" cy="1114.3" r="4.55"/><circle cx="494.7" cy="1122.2" r="4.55"/><circle cx="495.5" cy="1128.0" r="4.55"/><circle cx="495.9" cy="1131.1" r="4.55"/><circle cx="488.7" cy="1133.7" r="4.55"/><circle cx="489.4" cy="1139.2" r="4.55"/><circle cx="497.5" cy="1146.7" r="4.55"/><circle cx="496.9" cy="1149.3" r="4.55"/><circle cx="485.4" cy="1155.0" r="4.55"/><circle cx="493.2" cy="1156.5" r="4.55"/><circle cx="500.1" cy="1156.6" r="4.55"/><circle cx="486.9" cy="1161.7" r="4.55"/><circle cx="493.8" cy="1157.9" r="4.55"/><circle cx="500.8" cy="1161.6" r="4.55"/><circle cx="486.8" cy="1164.5" r="4.55"/><circle cx="494.1" cy="1162.8" r="4.55"/><circle cx="500.9" cy="1164.5" r="4.55"/><circle cx="484.7" cy="1166.9" r="4.55"/><circle cx="495.0" cy="1171.2" r="4.55"/><circle cx="498.7" cy="1170.4" r="4.55"/><circle cx="484.8" cy="1172.1" r="4.55"/><circle cx="491.4" cy="1175.0" r="4.55"/><circle cx="501.5" cy="1171.6" r="4.55"/><circle cx="484.7" cy="1176.4" r="4.55"/><circle cx="494.1" cy="1177.7" r="4.55"/><circle cx="502.3" cy="1180.7" r="4.55"/><circle cx="483.7" cy="1185.6" r="4.55"/><circle cx="491.5" cy="1181.3" r="4.55"/><circle cx="502.0" cy="1181.1" r="4.55"/><circle cx="482.0" cy="1187.6" r="4.55"/><circle cx="493.4" cy="1186.5" r="4.55"/><circle cx="501.0" cy="1189.8" r="4.55"/><circle cx="481.2" cy="1195.0" r="4.55"/><circle cx="495.2" cy="1192.3" r="4.55"/><circle cx="503.5" cy="1192.9" r="4.55"/><circle cx="480.7" cy="1198.1" r="4.55"/><circle cx="488.9" cy="1198.2" r="4.55"/><circle cx="499.7" cy="1197.6" r="4.55"/><circle cx="504.9" cy="1198.6" r="4.55"/><circle cx="475.8" cy="1201.5" r="4.55"/><circle cx="487.7" cy="1202.5" r="4.55"/><circle cx="493.0" cy="1200.1" r="4.55"/><circle cx="500.2" cy="1202.8" r="4.55"/><circle cx="507.3" cy="1202.9" r="4.55"/><circle cx="470.9" cy="1205.1" r="4.55"/><circle cx="480.2" cy="1207.0" r="4.55"/><circle cx="489.4" cy="1206.5" r="4.55"/><circle cx="498.5" cy="1208.3" r="4.55"/><circle cx="503.0" cy="1205.1" r="4.55"/><circle cx="515.5" cy="1209.3" r="4.55"/><circle cx="463.5" cy="1211.7" r="4.55"/><circle cx="474.3" cy="1211.1" r="4.55"/><circle cx="482.4" cy="1211.1" r="4.55"/><circle cx="491.9" cy="1212.4" r="4.55"/><circle cx="500.9" cy="1211.4" r="4.55"/><circle cx="513.4" cy="1209.7" r="4.55"/><circle cx="521.3" cy="1213.0" r="4.55"/><circle cx="462.0" cy="1215.4" r="4.55"/><circle cx="473.2" cy="1215.5" r="4.55"/><circle cx="477.8" cy="1216.4" r="4.55"/><circle cx="489.7" cy="1214.9" r="4.55"/><circle cx="495.9" cy="1215.9" r="4.55"/><circle cx="507.7" cy="1216.4" r="4.55"/><circle cx="516.5" cy="1215.2" r="4.55"/><circle cx="522.2" cy="1217.4" r="4.55"/><circle cx="463.2" cy="1221.3" r="4.55"/><circle cx="469.0" cy="1219.7" r="4.55"/><circle cx="479.7" cy="1220.0" r="4.55"/><circle cx="490.3" cy="1223.1" r="4.55"/><circle cx="495.1" cy="1220.5" r="4.55"/><circle cx="507.8" cy="1222.1" r="4.55"/><circle cx="516.6" cy="1220.8" r="4.55"/><circle cx="522.2" cy="1220.5" r="4.55"/><circle cx="462.5" cy="1225.2" r="4.55"/><circle cx="469.5" cy="1225.9" r="4.55"/><circle cx="478.8" cy="1225.8" r="4.55"/><circle cx="490.9" cy="1224.7" r="4.55"/><circle cx="494.0" cy="1228.3" r="4.55"/><circle cx="508.5" cy="1228.5" r="4.55"/><circle cx="514.5" cy="1228.3" r="4.55"/><circle cx="525.2" cy="1225.0" r="4.55"/><circle cx="462.7" cy="1232.6" r="4.55"/><circle cx="471.8" cy="1231.1" r="4.55"/><circle cx="478.2" cy="1230.3" r="4.55"/><circle cx="486.6" cy="1229.0" r="4.55"/><circle cx="497.7" cy="1230.0" r="4.55"/><circle cx="507.9" cy="1228.9" r="4.55"/><circle cx="517.3" cy="1231.9" r="4.55"/><circle cx="524.8" cy="1232.9" r="4.55"/><circle cx="463.6" cy="1236.2" r="4.55"/><circle cx="467.9" cy="1236.9" r="4.55"/><circle cx="477.6" cy="1234.9" r="4.55"/><circle cx="489.4" cy="1235.9" r="4.55"/><circle cx="496.5" cy="1237.8" r="4.55"/><circle cx="506.4" cy="1235.1" r="4.55"/><circle cx="512.8" cy="1237.5" r="4.55"/><circle cx="523.0" cy="1237.1" r="4.55"/><circle cx="461.3" cy="1239.2" r="4.55"/><circle cx="470.8" cy="1242.1" r="4.55"/><circle cx="477.3" cy="1241.9" r="4.55"/><circle cx="491.0" cy="1242.0" r="4.55"/><circle cx="499.2" cy="1238.3" r="4.55"/><circle cx="506.8" cy="1242.3" r="4.55"/><circle cx="511.9" cy="1239.5" r="4.55"/><circle cx="522.9" cy="1240.7" r="4.55"/><circle cx="461.0" cy="1245.2" r="4.55"/><circle cx="472.0" cy="1243.0" r="4.55"/><circle cx="476.4" cy="1243.6" r="4.55"/><circle cx="485.8" cy="1243.3" r="4.55"/><circle cx="500.2" cy="1247.0" r="4.55"/><circle cx="503.5" cy="1245.4" r="4.55"/><circle cx="514.0" cy="1244.5" r="4.55"/><circle cx="523.7" cy="1246.0" r="4.55"/><circle cx="461.0" cy="1249.5" r="4.55"/><circle cx="467.8" cy="1249.3" r="4.55"/><circle cx="476.6" cy="1250.4" r="4.55"/><circle cx="489.5" cy="1249.6" r="4.55"/><circle cx="494.6" cy="1248.6" r="4.55"/><circle cx="505.6" cy="1250.6" r="4.55"/><circle cx="517.4" cy="1249.6" r="4.55"/><circle cx="525.7" cy="1250.7" r="4.55"/><circle cx="459.9" cy="1254.3" r="4.55"/><circle cx="469.4" cy="1255.8" r="4.55"/><circle cx="478.2" cy="1255.8" r="4.55"/><circle cx="487.8" cy="1253.7" r="4.55"/><circle cx="497.6" cy="1255.8" r="4.55"/><circle cx="503.9" cy="1254.6" r="4.55"/><circle cx="515.5" cy="1256.7" r="4.55"/><circle cx="526.7" cy="1254.3" r="4.55"/><circle cx="460.5" cy="1261.0" r="4.55"/><circle cx="466.1" cy="1259.5" r="4.55"/><circle cx="473.6" cy="1261.1" r="4.55"/><circle cx="485.4" cy="1261.5" r="4.55"/><circle cx="494.6" cy="1260.5" r="4.55"/><circle cx="502.6" cy="1260.0" r="4.55"/><circle cx="506.9" cy="1260.1" r="4.55"/><circle cx="514.6" cy="1258.0" r="4.55"/><circle cx="527.0" cy="1257.6" r="4.55"/><circle cx="456.8" cy="1262.6" r="4.55"/><circle cx="469.2" cy="1263.0" r="4.55"/><circle cx="472.3" cy="1266.0" r="4.55"/><circle cx="481.6" cy="1266.0" r="4.55"/><circle cx="493.8" cy="1266.0" r="4.55"/><circle cx="504.2" cy="1264.8" r="4.55"/><circle cx="511.9" cy="1262.3" r="4.55"/><circle cx="520.4" cy="1264.5" r="4.55"/><circle cx="528.0" cy="1262.6" r="4.55"/><circle cx="457.7" cy="1271.2" r="4.55"/><circle cx="463.1" cy="1268.4" r="4.55"/><circle cx="475.2" cy="1270.7" r="4.55"/><circle cx="482.1" cy="1267.7" r="4.55"/><circle cx="491.1" cy="1269.8" r="4.55"/><circle cx="503.3" cy="1268.7" r="4.55"/><circle cx="509.7" cy="1268.7" r="4.55"/><circle cx="518.6" cy="1268.8" r="4.55"/><circle cx="527.1" cy="1269.2" r="4.55"/><circle cx="457.3" cy="1273.6" r="4.55"/><circle cx="466.6" cy="1272.4" r="4.55"/><circle cx="475.5" cy="1275.2" r="4.55"/><circle cx="484.6" cy="1274.1" r="4.55"/><circle cx="492.6" cy="1274.7" r="4.55"/><circle cx="504.5" cy="1272.4" r="4.55"/><circle cx="508.6" cy="1275.2" r="4.55"/><circle cx="523.1" cy="1274.1" r="4.55"/><circle cx="529.4" cy="1275.0" r="4.55"/><circle cx="455.0" cy="1277.7" r="4.55"/><circle cx="463.3" cy="1279.2" r="4.55"/><circle cx="473.2" cy="1277.5" r="4.55"/><circle cx="484.8" cy="1280.9" r="4.55"/><circle cx="491.4" cy="1279.7" r="4.55"/><circle cx="501.3" cy="1280.4" r="4.55"/><circle cx="511.6" cy="1277.7" r="4.55"/><circle cx="518.4" cy="1276.6" r="4.55"/><circle cx="529.3" cy="1278.2" r="4.55"/><circle cx="455.3" cy="1282.9" r="4.55"/><circle cx="464.3" cy="1284.8" r="4.55"/><circle cx="472.2" cy="1285.8" r="4.55"/><circle cx="483.5" cy="1284.0" r="4.55"/><circle cx="492.5" cy="1285.1" r="4.55"/><circle cx="503.9" cy="1283.8" r="4.55"/><circle cx="510.8" cy="1284.6" r="4.55"/><circle cx="522.3" cy="1283.1" r="4.55"/><circle cx="529.8" cy="1285.7" r="4.55"/><circle cx="456.5" cy="1287.1" r="4.55"/><circle cx="463.9" cy="1289.3" r="4.55"/><circle cx="475.8" cy="1290.5" r="4.55"/><circle cx="485.9" cy="1287.1" r="4.55"/><circle cx="490.7" cy="1287.2" r="4.55"/><circle cx="499.7" cy="1289.3" r="4.55"/><circle cx="513.1" cy="1290.2" r="4.55"/><circle cx="518.2" cy="1290.0" r="4.55"/><circle cx="528.2" cy="1288.0" r="4.55"/><circle cx="459.3" cy="1291.2" r="4.55"/><circle cx="464.5" cy="1294.6" r="4.55"/><circle cx="474.3" cy="1292.4" r="4.55"/><circle cx="484.7" cy="1293.9" r="4.55"/><circle cx="489.5" cy="1292.3" r="4.55"/><circle cx="500.8" cy="1293.0" r="4.55"/><circle cx="507.9" cy="1293.5" r="4.55"/><circle cx="521.2" cy="1292.6" r="4.55"/><circle cx="526.9" cy="1291.3" r="4.55"/><circle cx="460.1" cy="1298.6" r="4.55"/><circle cx="467.5" cy="1299.7" r="4.55"/><circle cx="481.7" cy="1296.0" r="4.55"/><circle cx="491.0" cy="1297.3" r="4.55"/><circle cx="499.0" cy="1299.1" r="4.55"/><circle cx="505.0" cy="1298.7" r="4.55"/><circle cx="516.4" cy="1299.3" r="4.55"/><circle cx="523.8" cy="1299.0" r="4.55"/><circle cx="463.0" cy="1303.4" r="4.55"/><circle cx="470.6" cy="1300.8" r="4.55"/><circle cx="479.3" cy="1302.0" r="4.55"/><circle cx="489.6" cy="1303.5" r="4.55"/><circle cx="497.6" cy="1301.2" r="4.55"/><circle cx="507.0" cy="1303.3" r="4.55"/><circle cx="512.9" cy="1304.5" r="4.55"/><circle cx="524.4" cy="1300.9" r="4.55"/><circle cx="462.9" cy="1305.8" r="4.55"/><circle cx="469.3" cy="1308.4" r="4.55"/><circle cx="480.0" cy="1307.7" r="4.55"/><circle cx="489.2" cy="1307.2" r="4.55"/><circle cx="496.0" cy="1305.9" r="4.55"/><circle cx="503.3" cy="1308.4" r="4.55"/><circle cx="516.6" cy="1307.6" r="4.55"/><circle cx="524.7" cy="1306.8" r="4.55"/><circle cx="460.8" cy="1311.6" r="4.55"/><circle cx="472.8" cy="1310.1" r="4.55"/><circle cx="479.4" cy="1311.0" r="4.55"/><circle cx="490.0" cy="1311.5" r="4.55"/><circle cx="496.1" cy="1311.7" r="4.55"/><circle cx="506.3" cy="1313.5" r="4.55"/><circle cx="514.0" cy="1313.8" r="4.55"/><circle cx="522.7" cy="1311.1" r="4.55"/><circle cx="460.2" cy="1315.2" r="4.55"/><circle cx="472.2" cy="1318.0" r="4.55"/><circle cx="477.3" cy="1315.5" r="4.55"/><circle cx="487.7" cy="1318.1" r="4.55"/><circle cx="499.2" cy="1318.1" r="4.55"/><circle cx="506.7" cy="1315.3" r="4.55"/><circle cx="514.3" cy="1315.5" r="4.55"/><circle cx="524.0" cy="1317.3" r="4.55"/><circle cx="465.2" cy="1320.6" r="4.55"/><circle cx="476.8" cy="1319.6" r="4.55"/><circle cx="485.8" cy="1323.6" r="4.55"/><circle cx="495.6" cy="1321.2" r="4.55"/><circle cx="501.9" cy="1322.1" r="4.55"/><circle cx="511.2" cy="1324.0" r="4.55"/><circle cx="519.8" cy="1320.8" r="4.55"/><circle cx="473.8" cy="1326.4" r="4.55"/><circle cx="481.3" cy="1327.6" r="4.55"/><circle cx="485.5" cy="1327.8" r="4.55"/><circle cx="497.7" cy="1326.5" r="4.55"/><circle cx="504.9" cy="1326.3" r="4.55"/><circle cx="511.8" cy="1326.7" r="4.55"/>
</g>
<rect x="200.80" y="901.80" width="83.00" height="6.60" fill="#9c1c20"/>
<rect x="221.70" y="899.70" width="41.30" height="10.80" fill="#9c1c20"/>
<rect x="326.00" y="936.70" width="83.00" height="6.60" fill="#9c1c20"/>
<rect x="346.80" y="934.60" width="41.50" height="10.80" fill="#9c1c20"/>
<rect x="451.00" y="958.40" width="83.40" height="6.60" fill="#9c1c20"/>
<rect x="472.00" y="956.30" width="41.20" height="10.80" fill="#9c1c20"/>
<path d="M245.9 675.8V661H365.8V675.8" fill="none" stroke="#000" stroke-width="1.8"/>
<path d="M369.3 675.8V661H488.3V675.8" fill="none" stroke="#000" stroke-width="1.8"/>
<text x="305.5" y="666" font-size="32.5" text-anchor="middle">***</text>
<text x="428.5" y="666" font-size="32.5" text-anchor="middle">**</text>
<line x1="921.7" y1="1332" x2="921.7" y2="1785" stroke="#000" stroke-width="2.3"/>
<line x1="908.7" y1="1783.5" x2="1532" y2="1783.5" stroke="#000" stroke-width="2.3"/>
<line x1="908.7" y1="1333.2" x2="921.7" y2="1333.2" stroke="#000" stroke-width="2.3"/>
<line x1="908.7" y1="1481" x2="921.7" y2="1481" stroke="#000" stroke-width="2.3"/>
<line x1="908.7" y1="1630" x2="921.7" y2="1630" stroke="#000" stroke-width="2.3"/>
<text x="906" y="1343.4" font-size="36" text-anchor="end">3</text>
<text x="906" y="1489.3" font-size="36" text-anchor="end">2</text>
<text x="906" y="1639.5" font-size="36" text-anchor="end">1</text>
<text x="906" y="1791.3" font-size="36" text-anchor="end">0</text>
<text x="809.8" y="1539.7" font-size="36.1" text-anchor="middle" transform="rotate(-90 809.8 1539.7)">rel. invasive</text>
<text x="853.2" y="1535.6" font-size="36.5" text-anchor="middle" transform="rotate(-90 853.2 1535.6)">strand length</text>
<g fill="#505050" fill-opacity="0.08" transform="scale(1 0.775)">
<circle cx="1009.0" cy="1773.2" r="6.5"/><circle cx="1009.2" cy="1782.9" r="6.5"/><circle cx="1009.6" cy="1794.0" r="6.5"/><circle cx="1009.1" cy="1806.5" r="6.5"/><circle cx="1009.1" cy="1816.3" r="6.5"/><circle cx="1009.2" cy="1832.9" r="6.5"/><circle cx="1008.7" cy="1846.8" r="6.5"/><circle cx="1009.1" cy="1860.7" r="6.5"/><circle cx="1009.3" cy="1869.0" r="6.5"/><circle cx="1009.5" cy="1878.7" r="6.5"/><circle cx="1008.6" cy="1888.4" r="6.5"/><circle cx="1008.1" cy="1895.1" r="6.5"/><circle cx="1010.7" cy="2268.7" r="6.5"/>
</g>
<g fill="#505050" fill-opacity="0.105" transform="scale(1 0.775)">
<circle cx="1005.4" cy="1906.6" r="6.5"/><circle cx="1007.1" cy="1907.8" r="6.5"/><circle cx="1014.6" cy="1906.4" r="6.5"/><circle cx="1004.3" cy="1908.9" r="6.5"/><circle cx="1007.0" cy="1910.4" r="6.5"/><circle cx="1013.2" cy="1909.0" r="6.5"/><circle cx="1004.3" cy="1912.9" r="6.5"/><circle cx="1008.9" cy="1914.6" r="6.5"/><circle cx="1014.1" cy="1914.9" r="6.5"/><circle cx="1011.4" cy="1920.0" r="6.5"/><circle cx="1011.2" cy="1923.5" r="6.5"/><circle cx="1006.7" cy="1932.1" r="6.5"/><circle cx="1006.6" cy="1935.5" r="6.5"/><circle cx="1004.8" cy="1940.3" r="6.5"/><circle cx="1007.4" cy="1941.1" r="6.5"/><circle cx="1012.6" cy="1939.9" r="6.5"/><circle cx="1004.3" cy="1945.3" r="6.5"/><circle cx="1011.0" cy="1944.6" r="6.5"/><circle cx="1014.0" cy="1947.3" r="6.5"/><circle cx="1003.1" cy="1951.2" r="6.5"/><circle cx="1007.8" cy="1951.7" r="6.5"/><circle cx="1014.6" cy="1950.2" r="6.5"/><circle cx="1001.5" cy="1955.1" r="6.5"/><circle cx="1011.0" cy="1954.0" r="6.5"/><circle cx="1016.1" cy="1953.5" r="6.5"/><circle cx="1001.7" cy="1959.9" r="6.5"/><circle cx="1007.5" cy="1958.7" r="6.5"/><circle cx="1011.6" cy="1962.0" r="6.5"/><circle cx="1017.0" cy="1959.7" r="6.5"/><circle cx="1000.9" cy="1964.1" r="6.5"/><circle cx="1008.6" cy="1962.5" r="6.5"/><circle cx="1013.4" cy="1966.5" r="6.5"/><circle cx="1017.3" cy="1966.6" r="6.5"/><circle cx="999.4" cy="1967.7" r="6.5"/><circle cx="1008.4" cy="1969.5" r="6.5"/><circle cx="1012.3" cy="1967.1" r="6.5"/><circle cx="1017.0" cy="1968.8" r="6.5"/><circle cx="998.6" cy="1974.0" r="6.5"/><circle cx="1007.4" cy="1973.1" r="6.5"/><circle cx="1010.4" cy="1972.3" r="6.5"/><circle cx="1018.8" cy="1971.6" r="6.5"/><circle cx="1000.7" cy="2250.3" r="6.5"/><circle cx="1005.1" cy="2247.4" r="6.5"/><circle cx="1009.9" cy="2250.3" r="6.5"/><circle cx="1017.3" cy="2248.6" r="6.5"/><circle cx="1001.3" cy="2252.3" r="6.5"/><circle cx="1005.3" cy="2252.9" r="6.5"/><circle cx="1012.3" cy="2254.8" r="6.5"/><circle cx="1015.7" cy="2253.2" r="6.5"/><circle cx="1003.5" cy="2258.8" r="6.5"/><circle cx="1009.1" cy="2258.7" r="6.5"/><circle cx="1014.1" cy="2258.9" r="6.5"/><circle cx="1005.8" cy="2264.6" r="6.5"/>
</g>
<g fill="#505050" fill-opacity="0.135" transform="scale(1 0.775)">
<circle cx="998.7" cy="1978.6" r="6.5"/><circle cx="1002.4" cy="1978.4" r="6.5"/><circle cx="1010.6" cy="1976.6" r="6.5"/><circle cx="1013.6" cy="1978.6" r="6.5"/><circle cx="1018.8" cy="1976.9" r="6.5"/><circle cx="998.6" cy="1983.5" r="6.5"/><circle cx="1002.2" cy="1983.1" r="6.5"/><circle cx="1009.3" cy="1983.4" r="6.5"/><circle cx="1014.0" cy="1982.5" r="6.5"/><circle cx="1018.9" cy="1980.7" r="6.5"/><circle cx="996.8" cy="1987.2" r="6.5"/><circle cx="1002.3" cy="1988.1" r="6.5"/><circle cx="1008.6" cy="1986.8" r="6.5"/><circle cx="1016.6" cy="1987.1" r="6.5"/><circle cx="1020.6" cy="1988.9" r="6.5"/><circle cx="998.0" cy="1990.1" r="6.5"/><circle cx="1002.9" cy="1992.2" r="6.5"/><circle cx="1009.6" cy="1989.9" r="6.5"/><circle cx="1013.9" cy="1993.3" r="6.5"/><circle cx="1021.8" cy="1989.8" r="6.5"/><circle cx="996.0" cy="1995.1" r="6.5"/><circle cx="999.4" cy="1995.2" r="6.5"/><circle cx="1006.7" cy="1998.1" r="6.5"/><circle cx="1009.9" cy="1994.6" r="6.5"/><circle cx="1016.6" cy="1995.4" r="6.5"/><circle cx="1022.5" cy="1996.2" r="6.5"/><circle cx="996.5" cy="2001.0" r="6.5"/><circle cx="1002.8" cy="2000.5" r="6.5"/><circle cx="1005.8" cy="1999.9" r="6.5"/><circle cx="1009.8" cy="2001.1" r="6.5"/><circle cx="1015.4" cy="1998.9" r="6.5"/><circle cx="1022.3" cy="1999.1" r="6.5"/><circle cx="993.9" cy="2005.0" r="6.5"/><circle cx="1000.0" cy="2003.3" r="6.5"/><circle cx="1008.2" cy="2006.1" r="6.5"/><circle cx="1010.3" cy="2007.1" r="6.5"/><circle cx="1017.0" cy="2003.5" r="6.5"/><circle cx="1023.3" cy="2003.4" r="6.5"/><circle cx="994.9" cy="2011.5" r="6.5"/><circle cx="998.0" cy="2009.7" r="6.5"/><circle cx="1004.0" cy="2010.4" r="6.5"/><circle cx="1011.6" cy="2007.7" r="6.5"/><circle cx="1016.2" cy="2008.0" r="6.5"/><circle cx="1023.2" cy="2008.7" r="6.5"/><circle cx="993.0" cy="2013.5" r="6.5"/><circle cx="1000.4" cy="2015.0" r="6.5"/><circle cx="1003.6" cy="2014.0" r="6.5"/><circle cx="1009.3" cy="2014.3" r="6.5"/><circle cx="1014.5" cy="2013.4" r="6.5"/><circle cx="1017.9" cy="2012.2" r="6.5"/><circle cx="1026.1" cy="2012.6" r="6.5"/><circle cx="992.7" cy="2019.4" r="6.5"/><circle cx="997.7" cy="2020.3" r="6.5"/><circle cx="1002.9" cy="2017.2" r="6.5"/><circle cx="1009.6" cy="2018.8" r="6.5"/><circle cx="1015.9" cy="2018.1" r="6.5"/><circle cx="1022.3" cy="2018.7" r="6.5"/><circle cx="1025.5" cy="2018.3" r="6.5"/><circle cx="990.5" cy="2023.8" r="6.5"/><circle cx="998.4" cy="2024.3" r="6.5"/><circle cx="1001.8" cy="2022.0" r="6.5"/><circle cx="1007.9" cy="2025.0" r="6.5"/><circle cx="1013.8" cy="2021.7" r="6.5"/><circle cx="1020.5" cy="2024.9" r="6.5"/><circle cx="1026.1" cy="2021.4" r="6.5"/><circle cx="991.1" cy="2029.1" r="6.5"/><circle cx="993.8" cy="2027.6" r="6.5"/><circle cx="1002.8" cy="2029.1" r="6.5"/><circle cx="1005.9" cy="2027.8" r="6.5"/><circle cx="1012.6" cy="2028.6" r="6.5"/><circle cx="1018.8" cy="2028.3" r="6.5"/><circle cx="1022.0" cy="2029.1" r="6.5"/><circle cx="1027.7" cy="2028.2" r="6.5"/><circle cx="989.3" cy="2031.4" r="6.5"/><circle cx="994.1" cy="2032.9" r="6.5"/><circle cx="1000.7" cy="2032.8" r="6.5"/><circle cx="1005.8" cy="2031.0" r="6.5"/><circle cx="1013.2" cy="2031.3" r="6.5"/><circle cx="1019.0" cy="2033.5" r="6.5"/><circle cx="1025.6" cy="2030.7" r="6.5"/><circle cx="1028.4" cy="2032.4" r="6.5"/><circle cx="988.2" cy="2036.2" r="6.5"/><circle cx="991.3" cy="2035.5" r="6.5"/><circle cx="999.9" cy="2035.8" r="6.5"/><circle cx="1004.7" cy="2037.8" r="6.5"/><circle cx="1009.3" cy="2034.9" r="6.5"/><circle cx="1013.2" cy="2037.9" r="6.5"/><circle cx="1019.9" cy="2038.6" r="6.5"/><circle cx="1025.0" cy="2038.8" r="6.5"/><circle cx="1029.6" cy="2038.2" r="6.5"/><circle cx="987.3" cy="2040.2" r="6.5"/><circle cx="992.0" cy="2042.9" r="6.5"/><circle cx="997.5" cy="2041.1" r="6.5"/><circle cx="1002.2" cy="2042.9" r="6.5"/><circle cx="1006.9" cy="2041.5" r="6.5"/><circle cx="1015.3" cy="2041.3" r="6.5"/><circle cx="1021.6" cy="2040.6" r="6.5"/><circle cx="1025.0" cy="2043.3" r="6.5"/><circle cx="1030.5" cy="2042.8" r="6.5"/><circle cx="986.5" cy="2047.6" r="6.5"/><circle cx="990.0" cy="2044.7" r="6.5"/><circle cx="997.0" cy="2044.1" r="6.5"/><circle cx="1002.4" cy="2047.8" r="6.5"/><circle cx="1011.0" cy="2044.8" r="6.5"/><circle cx="1015.9" cy="2043.8" r="6.5"/><circle cx="1020.8" cy="2043.9" r="6.5"/><circle cx="1025.9" cy="2045.5" r="6.5"/><circle cx="1031.9" cy="2047.5" r="6.5"/><circle cx="984.1" cy="2051.8" r="6.5"/><circle cx="989.8" cy="2048.4" r="6.5"/><circle cx="995.7" cy="2051.1" r="6.5"/><circle cx="1002.8" cy="2050.2" r="6.5"/><circle cx="1008.6" cy="2052.0" r="6.5"/><circle cx="1011.9" cy="2051.1" r="6.5"/><circle cx="1017.0" cy="2051.9" r="6.5"/><circle cx="1023.0" cy="2051.1" r="6.5"/><circle cx="1029.2" cy="2050.1" r="6.5"/><circle cx="1033.6" cy="2051.7" r="6.5"/><circle cx="983.8" cy="2053.5" r="6.5"/><circle cx="989.4" cy="2056.5" r="6.5"/><circle cx="993.9" cy="2055.5" r="6.5"/><circle cx="1002.6" cy="2056.4" r="6.5"/><circle cx="1006.8" cy="2054.0" r="6.5"/><circle cx="1010.3" cy="2055.0" r="6.5"/><circle cx="1016.6" cy="2054.8" r="6.5"/><circle cx="1022.8" cy="2053.2" r="6.5"/><circle cx="1026.7" cy="2054.3" r="6.5"/><circle cx="1034.6" cy="2053.0" r="6.5"/><circle cx="983.6" cy="2059.5" r="6.5"/><circle cx="990.7" cy="2057.8" r="6.5"/><circle cx="992.6" cy="2058.0" r="6.5"/><circle cx="1002.2" cy="2059.2" r="6.5"/><circle cx="1008.0" cy="2060.6" r="6.5"/><circle cx="1011.6" cy="2058.3" r="6.5"/><circle cx="1017.9" cy="2058.7" r="6.5"/><circle cx="1025.6" cy="2061.2" r="6.5"/><circle cx="1031.5" cy="2059.5" r="6.5"/><circle cx="1034.7" cy="2059.0" r="6.5"/><circle cx="980.6" cy="2062.9" r="6.5"/><circle cx="988.0" cy="2065.8" r="6.5"/><circle cx="990.6" cy="2062.5" r="6.5"/><circle cx="996.0" cy="2063.0" r="6.5"/><circle cx="1004.6" cy="2062.8" r="6.5"/><circle cx="1009.1" cy="2063.9" r="6.5"/><circle cx="1015.0" cy="2065.3" r="6.5"/><circle cx="1020.6" cy="2064.8" r="6.5"/><circle cx="1026.5" cy="2065.4" r="6.5"/><circle cx="1029.0" cy="2064.4" r="6.5"/><circle cx="1037.3" cy="2064.4" r="6.5"/><circle cx="980.5" cy="2069.9" r="6.5"/><circle cx="986.3" cy="2067.2" r="6.5"/><circle cx="990.7" cy="2068.6" r="6.5"/><circle cx="998.0" cy="2066.9" r="6.5"/><circle cx="1005.2" cy="2068.9" r="6.5"/><circle cx="1008.4" cy="2067.1" r="6.5"/><circle cx="1015.3" cy="2070.0" r="6.5"/><circle cx="1019.2" cy="2069.5" r="6.5"/><circle cx="1024.9" cy="2066.7" r="6.5"/><circle cx="1033.7" cy="2066.9" r="6.5"/><circle cx="1036.8" cy="2067.9" r="6.5"/><circle cx="979.1" cy="2074.7" r="6.5"/><circle cx="984.9" cy="2073.8" r="6.5"/><circle cx="988.8" cy="2073.4" r="6.5"/><circle cx="996.8" cy="2071.2" r="6.5"/><circle cx="1001.3" cy="2072.3" r="6.5"/><circle cx="1007.8" cy="2072.3" r="6.5"/><circle cx="1012.7" cy="2073.5" r="6.5"/><circle cx="1016.6" cy="2075.0" r="6.5"/><circle cx="1024.1" cy="2074.2" r="6.5"/><circle cx="1028.0" cy="2070.9" r="6.5"/><circle cx="1034.7" cy="2073.4" r="6.5"/><circle cx="1039.9" cy="2072.8" r="6.5"/><circle cx="977.3" cy="2075.8" r="6.5"/><circle cx="982.2" cy="2076.0" r="6.5"/><circle cx="988.4" cy="2078.1" r="6.5"/><circle cx="995.3" cy="2075.9" r="6.5"/><circle cx="1001.4" cy="2075.7" r="6.5"/><circle cx="1004.5" cy="2077.0" r="6.5"/><circle cx="1011.6" cy="2076.8" r="6.5"/><circle cx="1016.3" cy="2076.9" r="6.5"/><circle cx="1023.8" cy="2075.5" r="6.5"/><circle cx="1027.6" cy="2077.0" r="6.5"/><circle cx="1033.9" cy="2076.9" r="6.5"/><circle cx="1041.1" cy="2077.9" r="6.5"/><circle cx="975.9" cy="2083.1" r="6.5"/><circle cx="981.4" cy="2080.2" r="6.5"/><circle cx="989.1" cy="2083.5" r="6.5"/><circle cx="994.7" cy="2083.8" r="6.5"/><circle cx="998.6" cy="2080.7" r="6.5"/><circle cx="1004.1" cy="2081.3" r="6.5"/><circle cx="1010.3" cy="2081.0" r="6.5"/><circle cx="1012.8" cy="2082.9" r="6.5"/><circle cx="1018.4" cy="2083.7" r="6.5"/><circle cx="1023.6" cy="2081.2" r="6.5"/><circle cx="1030.8" cy="2081.4" r="6.5"/><circle cx="1035.7" cy="2080.6" r="6.5"/><circle cx="1040.8" cy="2080.6" r="6.5"/><circle cx="976.2" cy="2085.6" r="6.5"/><circle cx="979.4" cy="2088.1" r="6.5"/><circle cx="988.9" cy="2088.1" r="6.5"/><circle cx="990.3" cy="2085.5" r="6.5"/><circle cx="1000.0" cy="2085.6" r="6.5"/><circle cx="1002.3" cy="2086.1" r="6.5"/><circle cx="1007.7" cy="2084.7" r="6.5"/><circle cx="1014.8" cy="2086.4" r="6.5"/><circle cx="1019.0" cy="2084.9" r="6.5"/><circle cx="1025.4" cy="2086.8" r="6.5"/><circle cx="1029.8" cy="2084.8" r="6.5"/><circle cx="1035.9" cy="2086.2" r="6.5"/><circle cx="1042.6" cy="2087.5" r="6.5"/><circle cx="974.7" cy="2089.0" r="6.5"/><circle cx="979.1" cy="2090.0" r="6.5"/><circle cx="985.2" cy="2091.1" r="6.5"/><circle cx="991.3" cy="2091.1" r="6.5"/><circle cx="999.0" cy="2089.3" r="6.5"/><circle cx="1003.1" cy="2091.6" r="6.5"/><circle cx="1009.3" cy="2091.7" r="6.5"/><circle cx="1016.9" cy="2090.5" r="6.5"/><circle cx="1022.6" cy="2090.5" r="6.5"/><circle cx="1028.5" cy="2092.4" r="6.5"/><circle cx="1032.5" cy="2091.4" r="6.5"/><circle cx="1037.8" cy="2090.9" r="6.5"/><circle cx="1043.4" cy="2090.6" r="6.5"/><circle cx="972.9" cy="2095.6" r="6.5"/><circle cx="978.8" cy="2094.5" r="6.5"/><circle cx="986.2" cy="2096.2" r="6.5"/><circle cx="990.9" cy="2093.5" r="6.5"/><circle cx="996.6" cy="2095.8" r="6.5"/><circle cx="1001.4" cy="2095.1" r="6.5"/><circle cx="1007.2" cy="2093.6" r="6.5"/><circle cx="1011.0" cy="2095.1" r="6.5"/><circle cx="1017.7" cy="2096.4" r="6.5"/><circle cx="1022.1" cy="2096.7" r="6.5"/><circle cx="1027.1" cy="2096.4" r="6.5"/><circle cx="1032.8" cy="2096.5" r="6.5"/><circle cx="1037.3" cy="2093.8" r="6.5"/><circle cx="1045.5" cy="2097.2" r="6.5"/><circle cx="972.0" cy="2101.9" r="6.5"/><circle cx="977.3" cy="2100.9" r="6.5"/><circle cx="982.0" cy="2099.7" r="6.5"/><circle cx="987.9" cy="2101.5" r="6.5"/><circle cx="994.5" cy="2098.6" r="6.5"/><circle cx="1000.1" cy="2098.5" r="6.5"/><circle cx="1005.9" cy="2100.4" r="6.5"/><circle cx="1012.5" cy="2100.8" r="6.5"/><circle cx="1016.9" cy="2101.0" r="6.5"/><circle cx="1024.4" cy="2098.5" r="6.5"/><circle cx="1027.7" cy="2098.5" r="6.5"/><circle cx="1034.1" cy="2100.0" r="6.5"/><circle cx="1038.9" cy="2100.0" r="6.5"/><circle cx="1046.1" cy="2099.1" r="6.5"/><circle cx="972.5" cy="2105.4" r="6.5"/><circle cx="978.8" cy="2103.2" r="6.5"/><circle cx="982.7" cy="2103.4" r="6.5"/><circle cx="991.3" cy="2104.5" r="6.5"/><circle cx="995.6" cy="2103.3" r="6.5"/><circle cx="1001.4" cy="2105.0" r="6.5"/><circle cx="1004.1" cy="2103.5" r="6.5"/><circle cx="1009.8" cy="2102.6" r="6.5"/><circle cx="1016.4" cy="2103.6" r="6.5"/><circle cx="1024.4" cy="2106.2" r="6.5"/><circle cx="1027.4" cy="2103.4" r="6.5"/><circle cx="1036.7" cy="2104.5" r="6.5"/><circle cx="1039.6" cy="2103.9" r="6.5"/><circle cx="1045.9" cy="2103.0" r="6.5"/><circle cx="972.6" cy="2110.3" r="6.5"/><circle cx="977.3" cy="2110.4" r="6.5"/><circle cx="984.8" cy="2110.1" r="6.5"/><circle cx="988.8" cy="2110.1" r="6.5"/><circle cx="994.3" cy="2107.6" r="6.5"/><circle cx="999.0" cy="2110.4" r="6.5"/><circle cx="1006.7" cy="2108.2" r="6.5"/><circle cx="1013.1" cy="2110.4" r="6.5"/><circle cx="1016.3" cy="2109.7" r="6.5"/><circle cx="1023.8" cy="2108.9" r="6.5"/><circle cx="1028.4" cy="2109.2" r="6.5"/><circle cx="1034.6" cy="2109.3" r="6.5"/><circle cx="1042.1" cy="2108.9" r="6.5"/><circle cx="1047.1" cy="2107.0" r="6.5"/><circle cx="970.8" cy="2115.2" r="6.5"/><circle cx="977.1" cy="2114.4" r="6.5"/><circle cx="982.0" cy="2114.6" r="6.5"/><circle cx="986.7" cy="2115.1" r="6.5"/><circle cx="991.6" cy="2114.2" r="6.5"/><circle cx="997.5" cy="2115.2" r="6.5"/><circle cx="1002.9" cy="2113.3" r="6.5"/><circle cx="1009.5" cy="2115.2" r="6.5"/><circle cx="1015.3" cy="2112.6" r="6.5"/><circle cx="1020.0" cy="2115.6" r="6.5"/><circle cx="1025.1" cy="2112.4" r="6.5"/><circle cx="1032.8" cy="2114.5" r="6.5"/><circle cx="1036.2" cy="2111.8" r="6.5"/><circle cx="1043.0" cy="2111.6" r="6.5"/><circle cx="1047.3" cy="2113.9" r="6.5"/><circle cx="971.4" cy="2119.1" r="6.5"/><circle cx="975.6" cy="2117.6" r="6.5"/><circle cx="980.2" cy="2118.4" r="6.5"/><circle cx="985.8" cy="2116.4" r="6.5"/><circle cx="992.5" cy="2119.5" r="6.5"/><circle cx="999.5" cy="2116.9" r="6.5"/><circle cx="1001.7" cy="2116.7" r="6.5"/><circle cx="1008.2" cy="2116.1" r="6.5"/><circle cx="1016.1" cy="2117.7" r="6.5"/><circle cx="1020.4" cy="2117.3" r="6.5"/><circle cx="1025.7" cy="2117.4" r="6.5"/><circle cx="1030.0" cy="2116.4" r="6.5"/><circle cx="1035.7" cy="2116.1" r="6.5"/><circle cx="1042.7" cy="2116.4" r="6.5"/><circle cx="1048.2" cy="2117.7" r="6.5"/><circle cx="970.8" cy="2122.5" r="6.5"/><circle cx="977.7" cy="2121.9" r="6.5"/><circle cx="981.2" cy="2122.0" r="6.5"/><circle cx="988.3" cy="2121.9" r="6.5"/><circle cx="990.9" cy="2122.5" r="6.5"/><circle cx="999.4" cy="2120.8" r="6.5"/><circle cx="1004.1" cy="2120.7" r="6.5"/><circle cx="1010.2" cy="2124.6" r="6.5"/><circle cx="1014.0" cy="2120.5" r="6.5"/><circle cx="1019.6" cy="2120.9" r="6.5"/><circle cx="1025.6" cy="2122.8" r="6.5"/><circle cx="1029.2" cy="2122.0" r="6.5"/><circle cx="1034.6" cy="2121.0" r="6.5"/><circle cx="1044.2" cy="2124.3" r="6.5"/><circle cx="1047.3" cy="2121.2" r="6.5"/><circle cx="970.8" cy="2127.9" r="6.5"/><circle cx="975.2" cy="2126.6" r="6.5"/><circle cx="981.7" cy="2126.2" r="6.5"/><circle cx="988.8" cy="2127.0" r="6.5"/><circle cx="993.6" cy="2126.3" r="6.5"/><circle cx="996.6" cy="2128.8" r="6.5"/><circle cx="1005.4" cy="2128.1" r="6.5"/><circle cx="1007.0" cy="2127.0" r="6.5"/><circle cx="1015.9" cy="2126.3" r="6.5"/><circle cx="1018.8" cy="2126.5" r="6.5"/><circle cx="1026.0" cy="2127.5" r="6.5"/><circle cx="1031.0" cy="2127.1" r="6.5"/><circle cx="1036.4" cy="2128.7" r="6.5"/><circle cx="1041.7" cy="2128.8" r="6.5"/><circle cx="1048.6" cy="2127.6" r="6.5"/><circle cx="971.7" cy="2131.8" r="6.5"/><circle cx="977.7" cy="2131.6" r="6.5"/><circle cx="981.2" cy="2133.5" r="6.5"/><circle cx="987.9" cy="2132.7" r="6.5"/><circle cx="990.8" cy="2133.1" r="6.5"/><circle cx="997.7" cy="2130.4" r="6.5"/><circle cx="1002.0" cy="2132.8" r="6.5"/><circle cx="1011.2" cy="2132.8" r="6.5"/><circle cx="1015.8" cy="2132.8" r="6.5"/><circle cx="1018.1" cy="2133.4" r="6.5"/><circle cx="1027.3" cy="2133.2" r="6.5"/><circle cx="1032.8" cy="2131.4" r="6.5"/><circle cx="1035.4" cy="2131.3" r="6.5"/><circle cx="1043.7" cy="2131.3" r="6.5"/><circle cx="1048.1" cy="2130.1" r="6.5"/><circle cx="971.8" cy="2137.4" r="6.5"/><circle cx="974.7" cy="2137.1" r="6.5"/><circle cx="982.3" cy="2136.2" r="6.5"/><circle cx="985.3" cy="2136.4" r="6.5"/><circle cx="991.3" cy="2134.9" r="6.5"/><circle cx="1000.0" cy="2134.7" r="6.5"/><circle cx="1002.0" cy="2135.5" r="6.5"/><circle cx="1009.6" cy="2136.2" r="6.5"/><circle cx="1016.3" cy="2136.9" r="6.5"/><circle cx="1018.2" cy="2137.2" r="6.5"/><circle cx="1025.7" cy="2136.2" r="6.5"/><circle cx="1028.8" cy="2134.8" r="6.5"/><circle cx="1035.1" cy="2136.9" r="6.5"/><circle cx="1043.1" cy="2135.9" r="6.5"/><circle cx="1046.3" cy="2135.8" r="6.5"/><circle cx="971.0" cy="2142.5" r="6.5"/><circle cx="978.5" cy="2139.9" r="6.5"/><circle cx="981.5" cy="2140.9" r="6.5"/><circle cx="989.5" cy="2141.3" r="6.5"/><circle cx="990.9" cy="2138.9" r="6.5"/><circle cx="996.6" cy="2141.3" r="6.5"/><circle cx="1004.4" cy="2141.7" r="6.5"/><circle cx="1010.4" cy="2139.1" r="6.5"/><circle cx="1014.3" cy="2142.1" r="6.5"/><circle cx="1020.9" cy="2140.5" r="6.5"/><circle cx="1024.5" cy="2139.1" r="6.5"/><circle cx="1032.0" cy="2142.1" r="6.5"/><circle cx="1037.8" cy="2141.6" r="6.5"/><circle cx="1043.5" cy="2139.2" r="6.5"/><circle cx="1047.4" cy="2142.5" r="6.5"/><circle cx="971.8" cy="2147.0" r="6.5"/><circle cx="977.8" cy="2145.4" r="6.5"/><circle cx="980.2" cy="2143.9" r="6.5"/><circle cx="986.9" cy="2143.6" r="6.5"/><circle cx="992.0" cy="2144.2" r="6.5"/><circle cx="998.1" cy="2145.7" r="6.5"/><circle cx="1003.5" cy="2144.7" r="6.5"/><circle cx="1007.3" cy="2145.7" r="6.5"/><circle cx="1012.9" cy="2145.7" r="6.5"/><circle cx="1018.5" cy="2143.9" r="6.5"/><circle cx="1023.3" cy="2145.0" r="6.5"/><circle cx="1031.6" cy="2143.5" r="6.5"/><circle cx="1034.1" cy="2147.2" r="6.5"/><circle cx="1041.3" cy="2146.3" r="6.5"/><circle cx="1046.6" cy="2146.5" r="6.5"/><circle cx="972.3" cy="2148.2" r="6.5"/><circle cx="975.9" cy="2148.2" r="6.5"/><circle cx="983.8" cy="2149.6" r="6.5"/><circle cx="990.6" cy="2150.2" r="6.5"/><circle cx="995.6" cy="2150.1" r="6.5"/><circle cx="999.6" cy="2150.9" r="6.5"/><circle cx="1005.1" cy="2151.7" r="6.5"/><circle cx="1012.1" cy="2148.7" r="6.5"/><circle cx="1016.4" cy="2148.9" r="6.5"/><circle cx="1023.3" cy="2149.9" r="6.5"/><circle cx="1028.1" cy="2149.0" r="6.5"/><circle cx="1034.3" cy="2148.0" r="6.5"/><circle cx="1042.0" cy="2148.7" r="6.5"/><circle cx="1046.9" cy="2148.8" r="6.5"/><circle cx="970.8" cy="2154.7" r="6.5"/><circle cx="977.2" cy="2154.5" r="6.5"/><circle cx="981.7" cy="2156.0" r="6.5"/><circle cx="991.0" cy="2155.1" r="6.5"/><circle cx="996.5" cy="2154.5" r="6.5"/><circle cx="998.3" cy="2154.9" r="6.5"/><circle cx="1007.4" cy="2152.7" r="6.5"/><circle cx="1011.9" cy="2153.9" r="6.5"/><circle cx="1017.1" cy="2152.5" r="6.5"/><circle cx="1025.2" cy="2153.2" r="6.5"/><circle cx="1031.1" cy="2154.0" r="6.5"/><circle cx="1036.2" cy="2153.1" r="6.5"/><circle cx="1041.3" cy="2154.4" r="6.5"/><circle cx="1045.9" cy="2155.9" r="6.5"/><circle cx="970.7" cy="2159.7" r="6.5"/><circle cx="978.9" cy="2158.0" r="6.5"/><circle cx="981.4" cy="2160.5" r="6.5"/><circle cx="986.6" cy="2159.5" r="6.5"/><circle cx="994.0" cy="2159.8" r="6.5"/><circle cx="999.8" cy="2157.3" r="6.5"/><circle cx="1006.6" cy="2160.0" r="6.5"/><circle cx="1011.8" cy="2158.3" r="6.5"/><circle cx="1019.0" cy="2160.5" r="6.5"/><circle cx="1025.8" cy="2157.2" r="6.5"/><circle cx="1030.5" cy="2160.1" r="6.5"/><circle cx="1037.0" cy="2159.2" r="6.5"/><circle cx="1041.6" cy="2159.8" r="6.5"/><circle cx="1046.1" cy="2158.3" r="6.5"/><circle cx="970.4" cy="2163.3" r="6.5"/><circle cx="975.5" cy="2162.8" r="6.5"/><circle cx="982.3" cy="2161.7" r="6.5"/><circle cx="987.7" cy="2165.0" r="6.5"/><circle cx="992.6" cy="2164.4" r="6.5"/><circle cx="1001.4" cy="2164.4" r="6.5"/><circle cx="1005.8" cy="2163.2" r="6.5"/><circle cx="1010.3" cy="2162.6" r="6.5"/><circle cx="1019.5" cy="2164.9" r="6.5"/><circle cx="1023.9" cy="2162.8" r="6.5"/><circle cx="1028.4" cy="2164.8" r="6.5"/><circle cx="1035.0" cy="2164.9" r="6.5"/><circle cx="1041.8" cy="2164.6" r="6.5"/><circle cx="1046.0" cy="2161.6" r="6.5"/><circle cx="972.4" cy="2167.0" r="6.5"/><circle cx="977.3" cy="2167.4" r="6.5"/><circle cx="980.9" cy="2169.4" r="6.5"/><circle cx="987.9" cy="2168.2" r="6.5"/><circle cx="994.3" cy="2167.2" r="6.5"/><circle cx="999.6" cy="2168.9" r="6.5"/><circle cx="1007.9" cy="2169.3" r="6.5"/><circle cx="1010.9" cy="2169.2" r="6.5"/><circle cx="1016.7" cy="2169.3" r="6.5"/><circle cx="1025.7" cy="2167.6" r="6.5"/><circle cx="1027.7" cy="2169.4" r="6.5"/><circle cx="1035.4" cy="2168.4" r="6.5"/><circle cx="1042.9" cy="2169.3" r="6.5"/><circle cx="1047.9" cy="2168.7" r="6.5"/><circle cx="972.2" cy="2171.7" r="6.5"/><circle cx="977.4" cy="2172.5" r="6.5"/><circle cx="981.5" cy="2172.9" r="6.5"/><circle cx="988.4" cy="2170.7" r="6.5"/><circle cx="992.7" cy="2172.3" r="6.5"/><circle cx="998.8" cy="2173.8" r="6.5"/><circle cx="1006.5" cy="2172.1" r="6.5"/><circle cx="1011.1" cy="2173.2" r="6.5"/><circle cx="1015.7" cy="2170.9" r="6.5"/><circle cx="1023.3" cy="2172.1" r="6.5"/><circle cx="1029.5" cy="2170.8" r="6.5"/><circle cx="1036.1" cy="2171.1" r="6.5"/><circle cx="1040.2" cy="2172.1" r="6.5"/><circle cx="1046.4" cy="2171.5" r="6.5"/><circle cx="970.6" cy="2177.9" r="6.5"/><circle cx="978.4" cy="2178.3" r="6.5"/><circle cx="981.7" cy="2178.3" r="6.5"/><circle cx="989.6" cy="2175.0" r="6.5"/><circle cx="993.8" cy="2178.3" r="6.5"/><circle cx="1002.2" cy="2174.8" r="6.5"/><circle cx="1006.8" cy="2177.6" r="6.5"/><circle cx="1012.3" cy="2176.9" r="6.5"/><circle cx="1016.6" cy="2178.6" r="6.5"/><circle cx="1025.7" cy="2177.4" r="6.5"/><circle cx="1028.6" cy="2178.1" r="6.5"/><circle cx="1037.2" cy="2175.8" r="6.5"/><circle cx="1040.7" cy="2178.3" r="6.5"/><circle cx="1046.5" cy="2178.7" r="6.5"/><circle cx="972.2" cy="2180.9" r="6.5"/><circle cx="975.9" cy="2182.8" r="6.5"/><circle cx="981.5" cy="2182.1" r="6.5"/><circle cx="987.9" cy="2182.2" r="6.5"/><circle cx="994.7" cy="2180.4" r="6.5"/><circle cx="999.4" cy="2182.5" r="6.5"/><circle cx="1006.3" cy="2179.7" r="6.5"/><circle cx="1012.1" cy="2183.3" r="6.5"/><circle cx="1019.5" cy="2180.0" r="6.5"/><circle cx="1022.3" cy="2179.8" r="6.5"/><circle cx="1030.0" cy="2181.1" r="6.5"/><circle cx="1033.2" cy="2183.0" r="6.5"/><circle cx="1039.0" cy="2183.0" r="6.5"/><circle cx="1045.5" cy="2181.7" r="6.5"/><circle cx="971.9" cy="2185.5" r="6.5"/><circle cx="977.8" cy="2184.4" r="6.5"/><circle cx="985.4" cy="2184.5" r="6.5"/><circle cx="987.6" cy="2186.8" r="6.5"/><circle cx="992.7" cy="2187.0" r="6.5"/><circle cx="999.0" cy="2187.5" r="6.5"/><circle cx="1006.8" cy="2187.5" r="6.5"/><circle cx="1012.3" cy="2183.8" r="6.5"/><circle cx="1019.4" cy="2184.0" r="6.5"/><circle cx="1021.5" cy="2187.0" r="6.5"/><circle cx="1031.0" cy="2185.1" r="6.5"/><circle cx="1034.8" cy="2183.9" r="6.5"/><circle cx="1039.7" cy="2187.2" r="6.5"/><circle cx="1046.7" cy="2187.8" r="6.5"/><circle cx="972.6" cy="2190.5" r="6.5"/><circle cx="978.1" cy="2191.4" r="6.5"/><circle cx="981.7" cy="2190.1" r="6.5"/><circle cx="989.9" cy="2190.5" r="6.5"/><circle cx="993.8" cy="2191.2" r="6.5"/><circle cx="1001.5" cy="2189.3" r="6.5"/><circle cx="1006.4" cy="2191.8" r="6.5"/><circle cx="1012.4" cy="2189.3" r="6.5"/><circle cx="1016.3" cy="2192.3" r="6.5"/><circle cx="1021.4" cy="2190.1" r="6.5"/><circle cx="1030.7" cy="2189.6" r="6.5"/><circle cx="1035.2" cy="2190.8" r="6.5"/><circle cx="1041.8" cy="2190.3" r="6.5"/><circle cx="1046.7" cy="2191.8" r="6.5"/><circle cx="971.2" cy="2193.2" r="6.5"/><circle cx="976.5" cy="2195.4" r="6.5"/><circle cx="983.9" cy="2195.8" r="6.5"/><circle cx="989.8" cy="2193.0" r="6.5"/><circle cx="994.6" cy="2195.6" r="6.5"/><circle cx="1002.0" cy="2195.8" r="6.5"/><circle cx="1007.5" cy="2195.9" r="6.5"/><circle cx="1011.9" cy="2195.5" r="6.5"/><circle cx="1017.7" cy="2194.3" r="6.5"/><circle cx="1022.2" cy="2194.8" r="6.5"/><circle cx="1029.6" cy="2195.2" r="6.5"/><circle cx="1034.4" cy="2194.1" r="6.5"/><circle cx="1040.1" cy="2195.7" r="6.5"/><circle cx="1046.4" cy="2196.7" r="6.5"/><circle cx="971.6" cy="2200.4" r="6.5"/><circle cx="978.5" cy="2197.8" r="6.5"/><circle cx="984.8" cy="2199.4" r="6.5"/><circle cx="991.5" cy="2197.3" r="6.5"/><circle cx="994.6" cy="2199.5" r="6.5"/><circle cx="998.8" cy="2199.6" r="6.5"/><circle cx="1006.2" cy="2201.2" r="6.5"/><circle cx="1014.0" cy="2200.1" r="6.5"/><circle cx="1018.5" cy="2201.3" r="6.5"/><circle cx="1023.7" cy="2198.5" r="6.5"/><circle cx="1027.2" cy="2200.8" r="6.5"/><circle cx="1034.1" cy="2197.6" r="6.5"/><circle cx="1038.9" cy="2198.6" r="6.5"/><circle cx="1046.7" cy="2201.1" r="6.5"/><circle cx="974.3" cy="2202.5" r="6.5"/><circle cx="981.0" cy="2205.9" r="6.5"/><circle cx="987.4" cy="2204.2" r="6.5"/><circle cx="993.8" cy="2205.5" r="6.5"/><circle cx="999.6" cy="2202.5" r="6.5"/><circle cx="1005.0" cy="2205.7" r="6.5"/><circle cx="1007.8" cy="2203.4" r="6.5"/><circle cx="1012.8" cy="2203.5" r="6.5"/><circle cx="1019.4" cy="2205.1" r="6.5"/><circle cx="1027.5" cy="2203.8" r="6.5"/><circle cx="1031.4" cy="2204.3" r="6.5"/><circle cx="1038.7" cy="2203.8" r="6.5"/><circle cx="1043.3" cy="2204.4" r="6.5"/><circle cx="976.7" cy="2208.3" r="6.5"/><circle cx="983.4" cy="2208.1" r="6.5"/><circle cx="986.9" cy="2207.5" r="6.5"/><circle cx="996.7" cy="2208.9" r="6.5"/><circle cx="1000.5" cy="2209.4" r="6.5"/><circle cx="1006.3" cy="2208.7" r="6.5"/><circle cx="1012.6" cy="2207.2" r="6.5"/><circle cx="1016.0" cy="2206.6" r="6.5"/><circle cx="1024.5" cy="2209.5" r="6.5"/><circle cx="1027.7" cy="2207.3" r="6.5"/><circle cx="1036.5" cy="2206.8" r="6.5"/><circle cx="1041.9" cy="2209.8" r="6.5"/><circle cx="979.8" cy="2214.4" r="6.5"/><circle cx="985.2" cy="2211.9" r="6.5"/><circle cx="993.3" cy="2213.6" r="6.5"/><circle cx="996.6" cy="2213.4" r="6.5"/><circle cx="1003.2" cy="2211.6" r="6.5"/><circle cx="1009.2" cy="2211.4" r="6.5"/><circle cx="1013.7" cy="2212.5" r="6.5"/><circle cx="1020.7" cy="2213.7" r="6.5"/><circle cx="1026.7" cy="2213.1" r="6.5"/><circle cx="1031.6" cy="2212.7" r="6.5"/><circle cx="1038.0" cy="2214.5" r="6.5"/><circle cx="983.2" cy="2217.6" r="6.5"/><circle cx="987.5" cy="2215.9" r="6.5"/><circle cx="993.2" cy="2216.8" r="6.5"/><circle cx="996.7" cy="2216.9" r="6.5"/><circle cx="1004.3" cy="2215.9" r="6.5"/><circle cx="1010.6" cy="2218.4" r="6.5"/><circle cx="1014.4" cy="2215.4" r="6.5"/><circle cx="1020.9" cy="2218.4" r="6.5"/><circle cx="1025.8" cy="2215.6" r="6.5"/><circle cx="1032.0" cy="2217.7" r="6.5"/><circle cx="1035.5" cy="2215.9" r="6.5"/><circle cx="986.2" cy="2221.4" r="6.5"/><circle cx="992.7" cy="2220.9" r="6.5"/><circle cx="998.7" cy="2220.4" r="6.5"/><circle cx="1003.2" cy="2221.9" r="6.5"/><circle cx="1011.0" cy="2221.0" r="6.5"/><circle cx="1015.9" cy="2220.8" r="6.5"/><circle cx="1022.7" cy="2220.7" r="6.5"/><circle cx="1027.9" cy="2221.3" r="6.5"/><circle cx="1033.1" cy="2222.0" r="6.5"/><circle cx="989.6" cy="2228.1" r="6.5"/><circle cx="996.2" cy="2226.4" r="6.5"/><circle cx="999.5" cy="2227.9" r="6.5"/><circle cx="1005.4" cy="2228.2" r="6.5"/><circle cx="1013.7" cy="2224.9" r="6.5"/><circle cx="1019.5" cy="2228.2" r="6.5"/><circle cx="1022.4" cy="2225.9" r="6.5"/><circle cx="1029.9" cy="2225.6" r="6.5"/><circle cx="993.1" cy="2232.6" r="6.5"/><circle cx="996.2" cy="2229.1" r="6.5"/><circle cx="1002.8" cy="2230.4" r="6.5"/><circle cx="1008.2" cy="2232.3" r="6.5"/><circle cx="1016.3" cy="2231.6" r="6.5"/><circle cx="1019.6" cy="2230.3" r="6.5"/><circle cx="1026.5" cy="2229.0" r="6.5"/><circle cx="995.5" cy="2234.3" r="6.5"/><circle cx="998.8" cy="2233.6" r="6.5"/><circle cx="1006.5" cy="2236.0" r="6.5"/><circle cx="1010.0" cy="2233.7" r="6.5"/><circle cx="1017.4" cy="2235.3" r="6.5"/><circle cx="1024.2" cy="2235.0" r="6.5"/><circle cx="997.5" cy="2240.8" r="6.5"/><circle cx="1001.9" cy="2240.0" r="6.5"/><circle cx="1009.0" cy="2238.0" r="6.5"/><circle cx="1015.7" cy="2239.1" r="6.5"/><circle cx="1020.9" cy="2238.8" r="6.5"/><circle cx="998.6" cy="2246.3" r="6.5"/><circle cx="1005.9" cy="2242.5" r="6.5"/><circle cx="1009.3" cy="2246.0" r="6.5"/><circle cx="1015.5" cy="2242.8" r="6.5"/><circle cx="1020.4" cy="2246.1" r="6.5"/>
</g>
<g fill="#f2848c" fill-opacity="0.08" transform="scale(1 0.775)">
<circle cx="1150.9" cy="1827.4" r="6.5"/><circle cx="1151.1" cy="1835.7" r="6.5"/><circle cx="1151.1" cy="1856.5" r="6.5"/><circle cx="1150.5" cy="1869.0" r="6.5"/><circle cx="1150.3" cy="1892.6" r="6.5"/><circle cx="1150.7" cy="1899.6" r="6.5"/><circle cx="1150.6" cy="1916.2" r="6.5"/><circle cx="1151.3" cy="1927.3" r="6.5"/><circle cx="1151.1" cy="1938.4" r="6.5"/><circle cx="1151.0" cy="1946.8" r="6.5"/><circle cx="1151.2" cy="1955.8" r="6.5"/><circle cx="1149.1" cy="1963.9" r="6.5"/><circle cx="1149.2" cy="1974.8" r="6.5"/>
</g>
<g fill="#f2848c" fill-opacity="0.105" transform="scale(1 0.775)">
<circle cx="1149.0" cy="1976.4" r="6.5"/><circle cx="1153.1" cy="1983.4" r="6.5"/><circle cx="1149.9" cy="1984.9" r="6.5"/><circle cx="1149.7" cy="1993.2" r="6.5"/><circle cx="1152.3" cy="1995.4" r="6.5"/><circle cx="1148.3" cy="2001.8" r="6.5"/><circle cx="1146.9" cy="2006.4" r="6.5"/><circle cx="1146.7" cy="2009.3" r="6.5"/><circle cx="1149.1" cy="2009.7" r="6.5"/><circle cx="1155.6" cy="2009.2" r="6.5"/><circle cx="1146.7" cy="2014.0" r="6.5"/><circle cx="1151.5" cy="2012.1" r="6.5"/><circle cx="1154.7" cy="2015.0" r="6.5"/><circle cx="1145.7" cy="2020.1" r="6.5"/><circle cx="1152.5" cy="2017.8" r="6.5"/><circle cx="1155.1" cy="2017.3" r="6.5"/><circle cx="1145.7" cy="2022.3" r="6.5"/><circle cx="1151.2" cy="2023.9" r="6.5"/><circle cx="1155.0" cy="2022.3" r="6.5"/><circle cx="1146.7" cy="2025.4" r="6.5"/><circle cx="1148.8" cy="2028.1" r="6.5"/><circle cx="1154.9" cy="2026.1" r="6.5"/><circle cx="1146.0" cy="2032.9" r="6.5"/><circle cx="1149.7" cy="2030.1" r="6.5"/><circle cx="1155.6" cy="2031.6" r="6.5"/><circle cx="1145.5" cy="2036.8" r="6.5"/><circle cx="1151.9" cy="2036.4" r="6.5"/><circle cx="1156.0" cy="2035.7" r="6.5"/><circle cx="1144.9" cy="2041.7" r="6.5"/><circle cx="1152.5" cy="2039.8" r="6.5"/><circle cx="1157.9" cy="2040.7" r="6.5"/><circle cx="1144.2" cy="2044.1" r="6.5"/><circle cx="1152.1" cy="2044.3" r="6.5"/><circle cx="1157.9" cy="2047.3" r="6.5"/><circle cx="1144.1" cy="2051.2" r="6.5"/><circle cx="1146.9" cy="2051.1" r="6.5"/><circle cx="1153.5" cy="2048.9" r="6.5"/><circle cx="1157.7" cy="2049.4" r="6.5"/><circle cx="1142.5" cy="2053.0" r="6.5"/><circle cx="1149.9" cy="2056.0" r="6.5"/><circle cx="1154.5" cy="2053.5" r="6.5"/><circle cx="1158.6" cy="2055.6" r="6.5"/><circle cx="1141.5" cy="2058.9" r="6.5"/><circle cx="1147.1" cy="2059.7" r="6.5"/><circle cx="1153.8" cy="2059.9" r="6.5"/><circle cx="1160.2" cy="2059.4" r="6.5"/><circle cx="1142.7" cy="2271.4" r="6.5"/><circle cx="1147.1" cy="2272.4" r="6.5"/><circle cx="1155.1" cy="2270.6" r="6.5"/><circle cx="1158.7" cy="2269.2" r="6.5"/><circle cx="1152.0" cy="2277.0" r="6.5"/>
</g>
<g fill="#f2848c" fill-opacity="0.135" transform="scale(1 0.775)">
<circle cx="1139.6" cy="2062.8" r="6.5"/><circle cx="1147.3" cy="2064.1" r="6.5"/><circle cx="1150.7" cy="2064.7" r="6.5"/><circle cx="1157.1" cy="2063.6" r="6.5"/><circle cx="1160.2" cy="2061.4" r="6.5"/><circle cx="1138.6" cy="2068.2" r="6.5"/><circle cx="1144.2" cy="2066.5" r="6.5"/><circle cx="1149.6" cy="2067.9" r="6.5"/><circle cx="1154.6" cy="2068.3" r="6.5"/><circle cx="1162.6" cy="2069.8" r="6.5"/><circle cx="1138.1" cy="2070.6" r="6.5"/><circle cx="1144.5" cy="2070.8" r="6.5"/><circle cx="1150.5" cy="2071.3" r="6.5"/><circle cx="1157.3" cy="2074.5" r="6.5"/><circle cx="1163.5" cy="2072.0" r="6.5"/><circle cx="1136.8" cy="2077.8" r="6.5"/><circle cx="1141.4" cy="2075.1" r="6.5"/><circle cx="1146.2" cy="2075.3" r="6.5"/><circle cx="1153.2" cy="2075.8" r="6.5"/><circle cx="1160.8" cy="2078.2" r="6.5"/><circle cx="1164.7" cy="2075.7" r="6.5"/><circle cx="1136.0" cy="2082.7" r="6.5"/><circle cx="1143.1" cy="2081.5" r="6.5"/><circle cx="1148.5" cy="2080.3" r="6.5"/><circle cx="1154.2" cy="2082.3" r="6.5"/><circle cx="1159.9" cy="2079.8" r="6.5"/><circle cx="1165.0" cy="2079.8" r="6.5"/><circle cx="1135.1" cy="2086.8" r="6.5"/><circle cx="1141.6" cy="2085.3" r="6.5"/><circle cx="1144.3" cy="2086.8" r="6.5"/><circle cx="1151.5" cy="2085.8" r="6.5"/><circle cx="1154.6" cy="2084.9" r="6.5"/><circle cx="1161.7" cy="2086.0" r="6.5"/><circle cx="1165.4" cy="2086.4" r="6.5"/><circle cx="1134.3" cy="2092.2" r="6.5"/><circle cx="1138.1" cy="2089.4" r="6.5"/><circle cx="1147.4" cy="2090.0" r="6.5"/><circle cx="1152.4" cy="2091.3" r="6.5"/><circle cx="1155.5" cy="2090.6" r="6.5"/><circle cx="1160.3" cy="2092.2" r="6.5"/><circle cx="1167.0" cy="2090.6" r="6.5"/><circle cx="1133.0" cy="2095.1" r="6.5"/><circle cx="1140.1" cy="2094.9" r="6.5"/><circle cx="1146.3" cy="2093.2" r="6.5"/><circle cx="1152.1" cy="2094.7" r="6.5"/><circle cx="1157.7" cy="2096.3" r="6.5"/><circle cx="1162.7" cy="2094.8" r="6.5"/><circle cx="1167.5" cy="2093.5" r="6.5"/><circle cx="1132.0" cy="2098.8" r="6.5"/><circle cx="1138.5" cy="2097.6" r="6.5"/><circle cx="1144.0" cy="2101.2" r="6.5"/><circle cx="1148.8" cy="2098.2" r="6.5"/><circle cx="1153.5" cy="2100.8" r="6.5"/><circle cx="1157.4" cy="2099.6" r="6.5"/><circle cx="1164.2" cy="2099.0" r="6.5"/><circle cx="1169.7" cy="2100.1" r="6.5"/><circle cx="1130.0" cy="2105.4" r="6.5"/><circle cx="1137.6" cy="2104.6" r="6.5"/><circle cx="1140.6" cy="2103.1" r="6.5"/><circle cx="1145.9" cy="2104.8" r="6.5"/><circle cx="1155.1" cy="2103.6" r="6.5"/><circle cx="1159.3" cy="2104.8" r="6.5"/><circle cx="1164.8" cy="2105.2" r="6.5"/><circle cx="1171.3" cy="2105.9" r="6.5"/><circle cx="1129.8" cy="2107.3" r="6.5"/><circle cx="1135.8" cy="2110.0" r="6.5"/><circle cx="1138.3" cy="2107.7" r="6.5"/><circle cx="1147.1" cy="2110.2" r="6.5"/><circle cx="1151.6" cy="2109.6" r="6.5"/><circle cx="1157.3" cy="2110.6" r="6.5"/><circle cx="1163.6" cy="2109.8" r="6.5"/><circle cx="1168.9" cy="2107.9" r="6.5"/><circle cx="1173.6" cy="2109.7" r="6.5"/><circle cx="1128.5" cy="2113.4" r="6.5"/><circle cx="1131.5" cy="2114.4" r="6.5"/><circle cx="1137.9" cy="2111.9" r="6.5"/><circle cx="1146.4" cy="2114.9" r="6.5"/><circle cx="1153.0" cy="2114.3" r="6.5"/><circle cx="1156.9" cy="2111.2" r="6.5"/><circle cx="1164.3" cy="2112.6" r="6.5"/><circle cx="1168.3" cy="2111.9" r="6.5"/><circle cx="1173.2" cy="2111.1" r="6.5"/><circle cx="1125.4" cy="2117.2" r="6.5"/><circle cx="1131.7" cy="2116.8" r="6.5"/><circle cx="1136.6" cy="2119.1" r="6.5"/><circle cx="1144.2" cy="2119.3" r="6.5"/><circle cx="1146.1" cy="2119.1" r="6.5"/><circle cx="1151.5" cy="2116.2" r="6.5"/><circle cx="1160.2" cy="2117.1" r="6.5"/><circle cx="1162.8" cy="2119.1" r="6.5"/><circle cx="1171.4" cy="2117.9" r="6.5"/><circle cx="1176.6" cy="2117.2" r="6.5"/><circle cx="1123.9" cy="2123.9" r="6.5"/><circle cx="1130.0" cy="2121.1" r="6.5"/><circle cx="1136.1" cy="2123.4" r="6.5"/><circle cx="1143.7" cy="2124.0" r="6.5"/><circle cx="1145.9" cy="2123.0" r="6.5"/><circle cx="1154.1" cy="2123.9" r="6.5"/><circle cx="1160.6" cy="2122.8" r="6.5"/><circle cx="1166.9" cy="2124.2" r="6.5"/><circle cx="1171.6" cy="2122.5" r="6.5"/><circle cx="1177.6" cy="2122.7" r="6.5"/><circle cx="1123.4" cy="2126.0" r="6.5"/><circle cx="1129.6" cy="2128.1" r="6.5"/><circle cx="1135.8" cy="2126.2" r="6.5"/><circle cx="1140.6" cy="2126.0" r="6.5"/><circle cx="1143.5" cy="2127.9" r="6.5"/><circle cx="1151.7" cy="2128.7" r="6.5"/><circle cx="1154.8" cy="2125.1" r="6.5"/><circle cx="1161.8" cy="2125.2" r="6.5"/><circle cx="1166.4" cy="2125.5" r="6.5"/><circle cx="1171.2" cy="2126.4" r="6.5"/><circle cx="1178.0" cy="2126.3" r="6.5"/><circle cx="1121.7" cy="2131.6" r="6.5"/><circle cx="1129.0" cy="2132.8" r="6.5"/><circle cx="1135.0" cy="2130.6" r="6.5"/><circle cx="1141.1" cy="2131.8" r="6.5"/><circle cx="1145.7" cy="2129.4" r="6.5"/><circle cx="1150.2" cy="2130.3" r="6.5"/><circle cx="1156.9" cy="2132.6" r="6.5"/><circle cx="1163.2" cy="2131.0" r="6.5"/><circle cx="1167.2" cy="2130.6" r="6.5"/><circle cx="1176.1" cy="2129.6" r="6.5"/><circle cx="1179.9" cy="2131.2" r="6.5"/><circle cx="1120.4" cy="2134.3" r="6.5"/><circle cx="1126.7" cy="2134.8" r="6.5"/><circle cx="1130.9" cy="2135.2" r="6.5"/><circle cx="1138.9" cy="2137.5" r="6.5"/><circle cx="1144.6" cy="2136.1" r="6.5"/><circle cx="1146.3" cy="2136.2" r="6.5"/><circle cx="1155.4" cy="2137.6" r="6.5"/><circle cx="1159.7" cy="2136.2" r="6.5"/><circle cx="1166.2" cy="2134.3" r="6.5"/><circle cx="1169.4" cy="2137.8" r="6.5"/><circle cx="1176.3" cy="2133.8" r="6.5"/><circle cx="1180.8" cy="2135.9" r="6.5"/><circle cx="1120.0" cy="2140.4" r="6.5"/><circle cx="1126.6" cy="2138.9" r="6.5"/><circle cx="1130.7" cy="2138.6" r="6.5"/><circle cx="1135.7" cy="2141.5" r="6.5"/><circle cx="1141.1" cy="2138.5" r="6.5"/><circle cx="1148.9" cy="2139.0" r="6.5"/><circle cx="1152.8" cy="2138.7" r="6.5"/><circle cx="1158.3" cy="2138.9" r="6.5"/><circle cx="1166.3" cy="2139.5" r="6.5"/><circle cx="1169.4" cy="2140.2" r="6.5"/><circle cx="1176.5" cy="2139.8" r="6.5"/><circle cx="1182.0" cy="2141.9" r="6.5"/><circle cx="1117.2" cy="2145.1" r="6.5"/><circle cx="1124.6" cy="2144.7" r="6.5"/><circle cx="1129.6" cy="2145.7" r="6.5"/><circle cx="1135.9" cy="2144.1" r="6.5"/><circle cx="1139.4" cy="2143.3" r="6.5"/><circle cx="1143.5" cy="2145.5" r="6.5"/><circle cx="1150.0" cy="2145.5" r="6.5"/><circle cx="1155.5" cy="2144.7" r="6.5"/><circle cx="1162.7" cy="2144.8" r="6.5"/><circle cx="1167.8" cy="2143.4" r="6.5"/><circle cx="1172.6" cy="2146.1" r="6.5"/><circle cx="1176.9" cy="2144.6" r="6.5"/><circle cx="1184.0" cy="2143.7" r="6.5"/><circle cx="1115.8" cy="2150.4" r="6.5"/><circle cx="1122.4" cy="2149.3" r="6.5"/><circle cx="1127.1" cy="2147.6" r="6.5"/><circle cx="1132.3" cy="2150.7" r="6.5"/><circle cx="1138.9" cy="2149.4" r="6.5"/><circle cx="1144.1" cy="2151.2" r="6.5"/><circle cx="1152.3" cy="2150.5" r="6.5"/><circle cx="1155.0" cy="2148.1" r="6.5"/><circle cx="1163.9" cy="2147.7" r="6.5"/><circle cx="1167.0" cy="2147.4" r="6.5"/><circle cx="1174.1" cy="2149.0" r="6.5"/><circle cx="1179.5" cy="2149.4" r="6.5"/><circle cx="1186.4" cy="2149.6" r="6.5"/><circle cx="1116.7" cy="2152.0" r="6.5"/><circle cx="1120.9" cy="2155.8" r="6.5"/><circle cx="1127.1" cy="2155.2" r="6.5"/><circle cx="1131.6" cy="2154.0" r="6.5"/><circle cx="1141.0" cy="2153.6" r="6.5"/><circle cx="1146.3" cy="2155.7" r="6.5"/><circle cx="1152.0" cy="2153.4" r="6.5"/><circle cx="1154.6" cy="2153.8" r="6.5"/><circle cx="1162.2" cy="2152.3" r="6.5"/><circle cx="1167.7" cy="2152.0" r="6.5"/><circle cx="1175.0" cy="2152.9" r="6.5"/><circle cx="1179.2" cy="2153.0" r="6.5"/><circle cx="1185.4" cy="2153.9" r="6.5"/><circle cx="1115.1" cy="2156.6" r="6.5"/><circle cx="1121.6" cy="2156.4" r="6.5"/><circle cx="1125.4" cy="2160.2" r="6.5"/><circle cx="1132.6" cy="2157.7" r="6.5"/><circle cx="1137.9" cy="2159.7" r="6.5"/><circle cx="1141.0" cy="2159.6" r="6.5"/><circle cx="1146.2" cy="2156.9" r="6.5"/><circle cx="1154.9" cy="2158.3" r="6.5"/><circle cx="1157.6" cy="2158.5" r="6.5"/><circle cx="1166.3" cy="2157.7" r="6.5"/><circle cx="1172.2" cy="2159.7" r="6.5"/><circle cx="1173.4" cy="2156.8" r="6.5"/><circle cx="1180.8" cy="2158.1" r="6.5"/><circle cx="1186.0" cy="2156.9" r="6.5"/><circle cx="1114.3" cy="2160.8" r="6.5"/><circle cx="1120.1" cy="2163.9" r="6.5"/><circle cx="1124.7" cy="2164.7" r="6.5"/><circle cx="1133.4" cy="2162.2" r="6.5"/><circle cx="1136.1" cy="2163.3" r="6.5"/><circle cx="1142.0" cy="2162.2" r="6.5"/><circle cx="1146.1" cy="2162.0" r="6.5"/><circle cx="1155.3" cy="2163.3" r="6.5"/><circle cx="1159.5" cy="2160.8" r="6.5"/><circle cx="1165.3" cy="2163.1" r="6.5"/><circle cx="1168.7" cy="2164.2" r="6.5"/><circle cx="1177.7" cy="2161.8" r="6.5"/><circle cx="1181.6" cy="2164.0" r="6.5"/><circle cx="1187.8" cy="2164.4" r="6.5"/><circle cx="1113.4" cy="2169.2" r="6.5"/><circle cx="1120.4" cy="2168.3" r="6.5"/><circle cx="1127.8" cy="2169.4" r="6.5"/><circle cx="1130.5" cy="2166.4" r="6.5"/><circle cx="1134.8" cy="2166.2" r="6.5"/><circle cx="1141.9" cy="2166.7" r="6.5"/><circle cx="1148.7" cy="2169.4" r="6.5"/><circle cx="1152.9" cy="2168.1" r="6.5"/><circle cx="1161.1" cy="2168.8" r="6.5"/><circle cx="1165.5" cy="2168.7" r="6.5"/><circle cx="1171.3" cy="2167.3" r="6.5"/><circle cx="1177.6" cy="2166.0" r="6.5"/><circle cx="1180.5" cy="2169.0" r="6.5"/><circle cx="1187.5" cy="2166.9" r="6.5"/><circle cx="1113.4" cy="2170.6" r="6.5"/><circle cx="1121.4" cy="2170.4" r="6.5"/><circle cx="1126.0" cy="2172.0" r="6.5"/><circle cx="1131.9" cy="2173.9" r="6.5"/><circle cx="1134.9" cy="2172.5" r="6.5"/><circle cx="1141.1" cy="2170.9" r="6.5"/><circle cx="1146.2" cy="2171.7" r="6.5"/><circle cx="1155.6" cy="2171.7" r="6.5"/><circle cx="1157.7" cy="2172.5" r="6.5"/><circle cx="1167.0" cy="2170.5" r="6.5"/><circle cx="1172.4" cy="2172.2" r="6.5"/><circle cx="1175.2" cy="2172.2" r="6.5"/><circle cx="1180.5" cy="2172.7" r="6.5"/><circle cx="1188.5" cy="2172.4" r="6.5"/><circle cx="1113.6" cy="2174.5" r="6.5"/><circle cx="1118.9" cy="2177.8" r="6.5"/><circle cx="1125.9" cy="2174.9" r="6.5"/><circle cx="1132.5" cy="2177.9" r="6.5"/><circle cx="1136.3" cy="2178.4" r="6.5"/><circle cx="1142.5" cy="2175.3" r="6.5"/><circle cx="1149.9" cy="2178.3" r="6.5"/><circle cx="1155.1" cy="2178.3" r="6.5"/><circle cx="1161.3" cy="2176.4" r="6.5"/><circle cx="1165.8" cy="2176.5" r="6.5"/><circle cx="1171.7" cy="2175.3" r="6.5"/><circle cx="1176.5" cy="2176.6" r="6.5"/><circle cx="1184.6" cy="2176.6" r="6.5"/><circle cx="1188.7" cy="2174.4" r="6.5"/><circle cx="1113.1" cy="2180.7" r="6.5"/><circle cx="1118.4" cy="2182.8" r="6.5"/><circle cx="1124.3" cy="2182.0" r="6.5"/><circle cx="1129.4" cy="2181.6" r="6.5"/><circle cx="1135.4" cy="2178.9" r="6.5"/><circle cx="1138.4" cy="2181.0" r="6.5"/><circle cx="1145.0" cy="2181.1" r="6.5"/><circle cx="1149.1" cy="2181.5" r="6.5"/><circle cx="1157.3" cy="2182.3" r="6.5"/><circle cx="1163.2" cy="2180.9" r="6.5"/><circle cx="1168.5" cy="2179.1" r="6.5"/><circle cx="1171.2" cy="2180.5" r="6.5"/><circle cx="1179.6" cy="2182.9" r="6.5"/><circle cx="1181.3" cy="2179.3" r="6.5"/><circle cx="1187.9" cy="2182.0" r="6.5"/><circle cx="1112.2" cy="2184.6" r="6.5"/><circle cx="1117.3" cy="2187.1" r="6.5"/><circle cx="1123.8" cy="2185.2" r="6.5"/><circle cx="1130.3" cy="2183.7" r="6.5"/><circle cx="1135.3" cy="2186.7" r="6.5"/><circle cx="1141.2" cy="2184.9" r="6.5"/><circle cx="1144.4" cy="2184.8" r="6.5"/><circle cx="1149.2" cy="2184.7" r="6.5"/><circle cx="1155.2" cy="2184.7" r="6.5"/><circle cx="1163.8" cy="2186.6" r="6.5"/><circle cx="1167.3" cy="2184.8" r="6.5"/><circle cx="1171.2" cy="2185.0" r="6.5"/><circle cx="1176.8" cy="2185.2" r="6.5"/><circle cx="1183.8" cy="2185.6" r="6.5"/><circle cx="1190.1" cy="2186.7" r="6.5"/><circle cx="1112.9" cy="2191.0" r="6.5"/><circle cx="1117.1" cy="2188.1" r="6.5"/><circle cx="1124.9" cy="2191.9" r="6.5"/><circle cx="1129.2" cy="2188.6" r="6.5"/><circle cx="1136.4" cy="2191.4" r="6.5"/><circle cx="1139.6" cy="2190.1" r="6.5"/><circle cx="1147.4" cy="2188.8" r="6.5"/><circle cx="1148.7" cy="2188.7" r="6.5"/><circle cx="1156.4" cy="2190.2" r="6.5"/><circle cx="1163.1" cy="2191.9" r="6.5"/><circle cx="1169.4" cy="2191.2" r="6.5"/><circle cx="1172.7" cy="2188.2" r="6.5"/><circle cx="1177.9" cy="2189.4" r="6.5"/><circle cx="1183.4" cy="2189.0" r="6.5"/><circle cx="1188.8" cy="2189.3" r="6.5"/><circle cx="1110.6" cy="2193.8" r="6.5"/><circle cx="1116.1" cy="2193.2" r="6.5"/><circle cx="1122.5" cy="2193.2" r="6.5"/><circle cx="1129.7" cy="2196.4" r="6.5"/><circle cx="1134.6" cy="2192.4" r="6.5"/><circle cx="1141.3" cy="2193.6" r="6.5"/><circle cx="1143.3" cy="2195.7" r="6.5"/><circle cx="1151.6" cy="2195.3" r="6.5"/><circle cx="1154.4" cy="2193.9" r="6.5"/><circle cx="1163.7" cy="2193.9" r="6.5"/><circle cx="1166.3" cy="2194.2" r="6.5"/><circle cx="1171.6" cy="2195.9" r="6.5"/><circle cx="1180.8" cy="2194.7" r="6.5"/><circle cx="1186.0" cy="2193.1" r="6.5"/><circle cx="1190.4" cy="2195.4" r="6.5"/><circle cx="1111.0" cy="2197.3" r="6.5"/><circle cx="1118.0" cy="2198.2" r="6.5"/><circle cx="1123.7" cy="2200.7" r="6.5"/><circle cx="1126.2" cy="2197.1" r="6.5"/><circle cx="1134.0" cy="2197.9" r="6.5"/><circle cx="1138.8" cy="2196.9" r="6.5"/><circle cx="1144.4" cy="2199.1" r="6.5"/><circle cx="1151.5" cy="2200.5" r="6.5"/><circle cx="1155.8" cy="2197.4" r="6.5"/><circle cx="1162.2" cy="2200.4" r="6.5"/><circle cx="1166.1" cy="2200.6" r="6.5"/><circle cx="1173.4" cy="2199.5" r="6.5"/><circle cx="1178.8" cy="2200.3" r="6.5"/><circle cx="1184.0" cy="2199.1" r="6.5"/><circle cx="1190.5" cy="2198.7" r="6.5"/><circle cx="1111.2" cy="2203.4" r="6.5"/><circle cx="1115.7" cy="2202.2" r="6.5"/><circle cx="1120.8" cy="2203.3" r="6.5"/><circle cx="1130.6" cy="2202.1" r="6.5"/><circle cx="1136.2" cy="2204.8" r="6.5"/><circle cx="1138.8" cy="2203.9" r="6.5"/><circle cx="1146.5" cy="2202.3" r="6.5"/><circle cx="1152.3" cy="2204.8" r="6.5"/><circle cx="1154.4" cy="2203.4" r="6.5"/><circle cx="1163.5" cy="2204.1" r="6.5"/><circle cx="1169.3" cy="2205.5" r="6.5"/><circle cx="1174.1" cy="2204.1" r="6.5"/><circle cx="1177.4" cy="2205.2" r="6.5"/><circle cx="1186.2" cy="2205.1" r="6.5"/><circle cx="1190.1" cy="2202.7" r="6.5"/><circle cx="1113.7" cy="2207.7" r="6.5"/><circle cx="1118.6" cy="2209.8" r="6.5"/><circle cx="1125.8" cy="2209.5" r="6.5"/><circle cx="1130.1" cy="2208.4" r="6.5"/><circle cx="1138.9" cy="2207.6" r="6.5"/><circle cx="1141.5" cy="2207.3" r="6.5"/><circle cx="1150.0" cy="2207.7" r="6.5"/><circle cx="1151.8" cy="2208.5" r="6.5"/><circle cx="1157.7" cy="2208.7" r="6.5"/><circle cx="1165.0" cy="2206.4" r="6.5"/><circle cx="1170.6" cy="2206.1" r="6.5"/><circle cx="1177.3" cy="2208.1" r="6.5"/><circle cx="1183.6" cy="2206.0" r="6.5"/><circle cx="1188.2" cy="2207.7" r="6.5"/><circle cx="1116.9" cy="2214.3" r="6.5"/><circle cx="1123.2" cy="2213.9" r="6.5"/><circle cx="1130.2" cy="2210.6" r="6.5"/><circle cx="1133.3" cy="2211.3" r="6.5"/><circle cx="1139.2" cy="2211.6" r="6.5"/><circle cx="1147.1" cy="2212.7" r="6.5"/><circle cx="1150.4" cy="2211.2" r="6.5"/><circle cx="1156.1" cy="2211.8" r="6.5"/><circle cx="1160.5" cy="2211.1" r="6.5"/><circle cx="1168.8" cy="2212.9" r="6.5"/><circle cx="1175.1" cy="2214.5" r="6.5"/><circle cx="1177.8" cy="2211.1" r="6.5"/><circle cx="1183.9" cy="2210.7" r="6.5"/><circle cx="1120.2" cy="2215.6" r="6.5"/><circle cx="1126.6" cy="2218.1" r="6.5"/><circle cx="1130.4" cy="2217.0" r="6.5"/><circle cx="1137.1" cy="2217.2" r="6.5"/><circle cx="1142.9" cy="2216.7" r="6.5"/><circle cx="1148.8" cy="2215.6" r="6.5"/><circle cx="1155.1" cy="2216.8" r="6.5"/><circle cx="1160.2" cy="2218.3" r="6.5"/><circle cx="1164.2" cy="2215.8" r="6.5"/><circle cx="1171.6" cy="2216.7" r="6.5"/><circle cx="1177.0" cy="2215.5" r="6.5"/><circle cx="1181.1" cy="2216.6" r="6.5"/><circle cx="1120.5" cy="2223.3" r="6.5"/><circle cx="1126.4" cy="2220.4" r="6.5"/><circle cx="1131.3" cy="2222.0" r="6.5"/><circle cx="1140.6" cy="2222.4" r="6.5"/><circle cx="1146.2" cy="2222.0" r="6.5"/><circle cx="1148.9" cy="2220.9" r="6.5"/><circle cx="1157.4" cy="2219.5" r="6.5"/><circle cx="1161.7" cy="2222.8" r="6.5"/><circle cx="1170.3" cy="2223.5" r="6.5"/><circle cx="1174.3" cy="2220.0" r="6.5"/><circle cx="1180.2" cy="2223.6" r="6.5"/><circle cx="1123.2" cy="2224.1" r="6.5"/><circle cx="1130.5" cy="2227.4" r="6.5"/><circle cx="1133.5" cy="2227.2" r="6.5"/><circle cx="1141.5" cy="2224.9" r="6.5"/><circle cx="1147.2" cy="2226.3" r="6.5"/><circle cx="1152.5" cy="2226.9" r="6.5"/><circle cx="1155.7" cy="2224.9" r="6.5"/><circle cx="1162.0" cy="2227.8" r="6.5"/><circle cx="1168.9" cy="2227.4" r="6.5"/><circle cx="1173.8" cy="2227.6" r="6.5"/><circle cx="1179.9" cy="2224.3" r="6.5"/><circle cx="1124.9" cy="2228.8" r="6.5"/><circle cx="1128.9" cy="2229.1" r="6.5"/><circle cx="1137.7" cy="2230.2" r="6.5"/><circle cx="1141.2" cy="2232.4" r="6.5"/><circle cx="1148.8" cy="2231.9" r="6.5"/><circle cx="1152.1" cy="2230.3" r="6.5"/><circle cx="1160.0" cy="2229.1" r="6.5"/><circle cx="1164.5" cy="2232.5" r="6.5"/><circle cx="1170.2" cy="2232.4" r="6.5"/><circle cx="1177.3" cy="2231.3" r="6.5"/><circle cx="1125.1" cy="2235.3" r="6.5"/><circle cx="1132.4" cy="2234.0" r="6.5"/><circle cx="1136.1" cy="2236.7" r="6.5"/><circle cx="1142.3" cy="2235.1" r="6.5"/><circle cx="1147.1" cy="2236.6" r="6.5"/><circle cx="1155.3" cy="2235.2" r="6.5"/><circle cx="1159.4" cy="2234.0" r="6.5"/><circle cx="1165.3" cy="2234.4" r="6.5"/><circle cx="1168.3" cy="2236.6" r="6.5"/><circle cx="1176.3" cy="2236.4" r="6.5"/><circle cx="1127.6" cy="2239.4" r="6.5"/><circle cx="1135.3" cy="2238.3" r="6.5"/><circle cx="1138.9" cy="2240.1" r="6.5"/><circle cx="1145.6" cy="2241.6" r="6.5"/><circle cx="1149.2" cy="2239.8" r="6.5"/><circle cx="1155.2" cy="2239.6" r="6.5"/><circle cx="1163.8" cy="2239.2" r="6.5"/><circle cx="1168.7" cy="2239.1" r="6.5"/><circle cx="1174.4" cy="2240.5" r="6.5"/><circle cx="1128.9" cy="2245.1" r="6.5"/><circle cx="1133.5" cy="2245.7" r="6.5"/><circle cx="1137.6" cy="2245.9" r="6.5"/><circle cx="1145.6" cy="2243.2" r="6.5"/><circle cx="1148.8" cy="2244.3" r="6.5"/><circle cx="1157.5" cy="2243.8" r="6.5"/><circle cx="1162.3" cy="2246.0" r="6.5"/><circle cx="1169.0" cy="2242.7" r="6.5"/><circle cx="1173.6" cy="2245.1" r="6.5"/><circle cx="1130.9" cy="2248.7" r="6.5"/><circle cx="1135.9" cy="2247.1" r="6.5"/><circle cx="1141.2" cy="2249.0" r="6.5"/><circle cx="1148.0" cy="2246.6" r="6.5"/><circle cx="1155.9" cy="2249.9" r="6.5"/><circle cx="1161.4" cy="2250.1" r="6.5"/><circle cx="1166.4" cy="2248.6" r="6.5"/><circle cx="1172.1" cy="2247.4" r="6.5"/><circle cx="1132.8" cy="2253.1" r="6.5"/><circle cx="1139.4" cy="2252.6" r="6.5"/><circle cx="1143.8" cy="2253.2" r="6.5"/><circle cx="1148.6" cy="2254.5" r="6.5"/><circle cx="1152.8" cy="2251.4" r="6.5"/><circle cx="1158.6" cy="2251.6" r="6.5"/><circle cx="1164.0" cy="2251.2" r="6.5"/><circle cx="1169.5" cy="2253.0" r="6.5"/><circle cx="1135.3" cy="2258.0" r="6.5"/><circle cx="1139.4" cy="2259.1" r="6.5"/><circle cx="1147.3" cy="2258.6" r="6.5"/><circle cx="1150.7" cy="2258.6" r="6.5"/><circle cx="1158.3" cy="2258.1" r="6.5"/><circle cx="1162.6" cy="2258.6" r="6.5"/><circle cx="1166.8" cy="2258.4" r="6.5"/><circle cx="1137.0" cy="2262.2" r="6.5"/><circle cx="1144.5" cy="2263.2" r="6.5"/><circle cx="1148.9" cy="2261.7" r="6.5"/><circle cx="1154.3" cy="2263.9" r="6.5"/><circle cx="1160.3" cy="2260.4" r="6.5"/><circle cx="1164.5" cy="2260.8" r="6.5"/><circle cx="1140.5" cy="2265.6" r="6.5"/><circle cx="1145.3" cy="2268.0" r="6.5"/><circle cx="1148.9" cy="2266.6" r="6.5"/><circle cx="1157.1" cy="2265.6" r="6.5"/><circle cx="1162.3" cy="2265.8" r="6.5"/>
</g>
<g fill="#505050" fill-opacity="0.08" transform="scale(1 0.775)">
<circle cx="1292.9" cy="1741.3" r="6.5"/><circle cx="1293.4" cy="1763.5" r="6.5"/><circle cx="1293.4" cy="1776.0" r="6.5"/><circle cx="1293.6" cy="1787.1" r="6.5"/><circle cx="1292.8" cy="1810.7" r="6.5"/><circle cx="1292.9" cy="1827.4" r="6.5"/><circle cx="1292.8" cy="1841.2" r="6.5"/><circle cx="1292.9" cy="1852.4" r="6.5"/><circle cx="1293.5" cy="1869.0" r="6.5"/><circle cx="1291.4" cy="1877.5" r="6.5"/><circle cx="1295.5" cy="2267.1" r="6.5"/>
</g>
<g fill="#505050" fill-opacity="0.105" transform="scale(1 0.775)">
<circle cx="1290.3" cy="1884.4" r="6.5"/><circle cx="1288.0" cy="1891.6" r="6.5"/><circle cx="1295.4" cy="1892.9" r="6.5"/><circle cx="1298.3" cy="1889.2" r="6.5"/><circle cx="1289.5" cy="1897.0" r="6.5"/><circle cx="1292.2" cy="1895.2" r="6.5"/><circle cx="1297.4" cy="1893.9" r="6.5"/><circle cx="1289.7" cy="1899.3" r="6.5"/><circle cx="1292.0" cy="1901.6" r="6.5"/><circle cx="1297.7" cy="1901.9" r="6.5"/><circle cx="1289.2" cy="1906.0" r="6.5"/><circle cx="1293.8" cy="1905.1" r="6.5"/><circle cx="1297.2" cy="1904.8" r="6.5"/><circle cx="1289.1" cy="1908.0" r="6.5"/><circle cx="1293.0" cy="1909.4" r="6.5"/><circle cx="1298.6" cy="1908.7" r="6.5"/><circle cx="1289.3" cy="1913.6" r="6.5"/><circle cx="1292.3" cy="1912.1" r="6.5"/><circle cx="1297.2" cy="1912.9" r="6.5"/><circle cx="1288.3" cy="1917.1" r="6.5"/><circle cx="1294.9" cy="1918.3" r="6.5"/><circle cx="1297.7" cy="1918.3" r="6.5"/><circle cx="1289.7" cy="1923.3" r="6.5"/><circle cx="1291.6" cy="1922.2" r="6.5"/><circle cx="1297.8" cy="1922.4" r="6.5"/><circle cx="1287.7" cy="1926.7" r="6.5"/><circle cx="1294.8" cy="1925.9" r="6.5"/><circle cx="1297.6" cy="1927.8" r="6.5"/><circle cx="1288.1" cy="1930.5" r="6.5"/><circle cx="1294.2" cy="1932.5" r="6.5"/><circle cx="1297.6" cy="1932.6" r="6.5"/><circle cx="1287.2" cy="1936.9" r="6.5"/><circle cx="1293.8" cy="1936.1" r="6.5"/><circle cx="1299.2" cy="1937.7" r="6.5"/><circle cx="1287.3" cy="1939.5" r="6.5"/><circle cx="1293.2" cy="1942.1" r="6.5"/><circle cx="1298.5" cy="1941.4" r="6.5"/><circle cx="1285.2" cy="1945.4" r="6.5"/><circle cx="1291.2" cy="1943.8" r="6.5"/><circle cx="1294.2" cy="1946.3" r="6.5"/><circle cx="1300.3" cy="1946.7" r="6.5"/><circle cx="1284.8" cy="1949.3" r="6.5"/><circle cx="1291.1" cy="1950.9" r="6.5"/><circle cx="1296.6" cy="1951.5" r="6.5"/><circle cx="1301.6" cy="1950.2" r="6.5"/><circle cx="1284.9" cy="1952.6" r="6.5"/><circle cx="1289.6" cy="1953.7" r="6.5"/><circle cx="1297.8" cy="1954.4" r="6.5"/><circle cx="1302.0" cy="1955.9" r="6.5"/><circle cx="1284.2" cy="1960.1" r="6.5"/><circle cx="1288.1" cy="1957.9" r="6.5"/><circle cx="1294.7" cy="1958.9" r="6.5"/><circle cx="1302.3" cy="1960.0" r="6.5"/><circle cx="1282.9" cy="1961.9" r="6.5"/><circle cx="1291.3" cy="1962.6" r="6.5"/><circle cx="1297.4" cy="1961.7" r="6.5"/><circle cx="1302.1" cy="1962.8" r="6.5"/><circle cx="1286.0" cy="2250.9" r="6.5"/><circle cx="1288.9" cy="2250.8" r="6.5"/><circle cx="1296.1" cy="2251.6" r="6.5"/><circle cx="1300.8" cy="2253.6" r="6.5"/><circle cx="1286.3" cy="2256.5" r="6.5"/><circle cx="1292.3" cy="2256.3" r="6.5"/><circle cx="1298.6" cy="2255.2" r="6.5"/><circle cx="1289.8" cy="2261.9" r="6.5"/>
</g>
<g fill="#505050" fill-opacity="0.135" transform="scale(1 0.775)">
<circle cx="1283.6" cy="1966.5" r="6.5"/><circle cx="1287.7" cy="1966.6" r="6.5"/><circle cx="1294.4" cy="1968.0" r="6.5"/><circle cx="1298.1" cy="1968.2" r="6.5"/><circle cx="1303.4" cy="1966.9" r="6.5"/><circle cx="1282.1" cy="1970.4" r="6.5"/><circle cx="1285.7" cy="1973.9" r="6.5"/><circle cx="1293.9" cy="1971.4" r="6.5"/><circle cx="1298.5" cy="1974.2" r="6.5"/><circle cx="1303.9" cy="1970.4" r="6.5"/><circle cx="1281.7" cy="1978.6" r="6.5"/><circle cx="1285.8" cy="1974.8" r="6.5"/><circle cx="1292.6" cy="1975.3" r="6.5"/><circle cx="1298.2" cy="1977.1" r="6.5"/><circle cx="1304.4" cy="1976.1" r="6.5"/><circle cx="1280.1" cy="1981.2" r="6.5"/><circle cx="1287.5" cy="1981.6" r="6.5"/><circle cx="1292.9" cy="1980.6" r="6.5"/><circle cx="1298.4" cy="1983.1" r="6.5"/><circle cx="1304.5" cy="1979.8" r="6.5"/><circle cx="1281.2" cy="1986.7" r="6.5"/><circle cx="1287.2" cy="1987.4" r="6.5"/><circle cx="1292.4" cy="1986.5" r="6.5"/><circle cx="1294.0" cy="1987.5" r="6.5"/><circle cx="1299.0" cy="1984.8" r="6.5"/><circle cx="1306.8" cy="1983.9" r="6.5"/><circle cx="1279.1" cy="1991.6" r="6.5"/><circle cx="1283.9" cy="1991.4" r="6.5"/><circle cx="1291.7" cy="1989.0" r="6.5"/><circle cx="1295.4" cy="1988.4" r="6.5"/><circle cx="1301.5" cy="1988.4" r="6.5"/><circle cx="1307.0" cy="1992.1" r="6.5"/><circle cx="1279.9" cy="1994.2" r="6.5"/><circle cx="1284.4" cy="1993.3" r="6.5"/><circle cx="1290.6" cy="1993.8" r="6.5"/><circle cx="1295.4" cy="1996.5" r="6.5"/><circle cx="1300.1" cy="1992.8" r="6.5"/><circle cx="1307.1" cy="1993.8" r="6.5"/><circle cx="1279.3" cy="1998.6" r="6.5"/><circle cx="1286.0" cy="1997.9" r="6.5"/><circle cx="1292.7" cy="2000.0" r="6.5"/><circle cx="1296.7" cy="2001.0" r="6.5"/><circle cx="1299.0" cy="1997.6" r="6.5"/><circle cx="1306.0" cy="1998.8" r="6.5"/><circle cx="1280.8" cy="2002.4" r="6.5"/><circle cx="1285.6" cy="2003.0" r="6.5"/><circle cx="1293.3" cy="2003.9" r="6.5"/><circle cx="1298.3" cy="2002.7" r="6.5"/><circle cx="1306.4" cy="2005.7" r="6.5"/><circle cx="1282.9" cy="2007.8" r="6.5"/><circle cx="1286.1" cy="2009.7" r="6.5"/><circle cx="1294.5" cy="2007.9" r="6.5"/><circle cx="1297.3" cy="2008.6" r="6.5"/><circle cx="1305.5" cy="2008.2" r="6.5"/><circle cx="1282.1" cy="2013.7" r="6.5"/><circle cx="1288.8" cy="2010.9" r="6.5"/><circle cx="1295.0" cy="2012.7" r="6.5"/><circle cx="1299.0" cy="2011.3" r="6.5"/><circle cx="1303.8" cy="2011.3" r="6.5"/><circle cx="1278.9" cy="2019.0" r="6.5"/><circle cx="1285.5" cy="2018.3" r="6.5"/><circle cx="1288.6" cy="2018.2" r="6.5"/><circle cx="1297.7" cy="2018.1" r="6.5"/><circle cx="1299.2" cy="2017.5" r="6.5"/><circle cx="1307.2" cy="2018.1" r="6.5"/><circle cx="1277.6" cy="2022.3" r="6.5"/><circle cx="1284.8" cy="2022.8" r="6.5"/><circle cx="1289.8" cy="2022.9" r="6.5"/><circle cx="1295.0" cy="2019.9" r="6.5"/><circle cx="1300.5" cy="2021.1" r="6.5"/><circle cx="1308.4" cy="2022.2" r="6.5"/><circle cx="1277.1" cy="2028.1" r="6.5"/><circle cx="1282.6" cy="2026.8" r="6.5"/><circle cx="1287.7" cy="2028.4" r="6.5"/><circle cx="1292.0" cy="2026.4" r="6.5"/><circle cx="1296.7" cy="2025.8" r="6.5"/><circle cx="1302.9" cy="2026.2" r="6.5"/><circle cx="1309.8" cy="2024.9" r="6.5"/><circle cx="1274.2" cy="2029.8" r="6.5"/><circle cx="1278.9" cy="2029.2" r="6.5"/><circle cx="1286.1" cy="2029.3" r="6.5"/><circle cx="1289.1" cy="2029.3" r="6.5"/><circle cx="1296.1" cy="2029.4" r="6.5"/><circle cx="1302.2" cy="2028.9" r="6.5"/><circle cx="1306.4" cy="2030.3" r="6.5"/><circle cx="1312.0" cy="2031.2" r="6.5"/><circle cx="1273.5" cy="2035.5" r="6.5"/><circle cx="1276.7" cy="2036.9" r="6.5"/><circle cx="1284.6" cy="2034.5" r="6.5"/><circle cx="1289.8" cy="2033.9" r="6.5"/><circle cx="1294.8" cy="2034.7" r="6.5"/><circle cx="1302.3" cy="2036.5" r="6.5"/><circle cx="1309.7" cy="2034.6" r="6.5"/><circle cx="1314.6" cy="2033.4" r="6.5"/><circle cx="1272.1" cy="2039.5" r="6.5"/><circle cx="1276.9" cy="2041.5" r="6.5"/><circle cx="1280.5" cy="2038.9" r="6.5"/><circle cx="1285.6" cy="2040.1" r="6.5"/><circle cx="1295.4" cy="2041.3" r="6.5"/><circle cx="1298.7" cy="2039.6" r="6.5"/><circle cx="1304.3" cy="2037.9" r="6.5"/><circle cx="1309.9" cy="2041.5" r="6.5"/><circle cx="1315.3" cy="2040.6" r="6.5"/><circle cx="1272.6" cy="2044.7" r="6.5"/><circle cx="1277.6" cy="2043.7" r="6.5"/><circle cx="1284.6" cy="2043.0" r="6.5"/><circle cx="1286.4" cy="2042.6" r="6.5"/><circle cx="1292.9" cy="2046.4" r="6.5"/><circle cx="1297.2" cy="2045.6" r="6.5"/><circle cx="1303.6" cy="2042.7" r="6.5"/><circle cx="1309.3" cy="2044.5" r="6.5"/><circle cx="1313.9" cy="2043.8" r="6.5"/><circle cx="1270.6" cy="2050.3" r="6.5"/><circle cx="1278.2" cy="2050.0" r="6.5"/><circle cx="1280.6" cy="2050.1" r="6.5"/><circle cx="1286.9" cy="2048.1" r="6.5"/><circle cx="1292.2" cy="2050.2" r="6.5"/><circle cx="1299.5" cy="2048.6" r="6.5"/><circle cx="1303.0" cy="2050.0" r="6.5"/><circle cx="1308.1" cy="2050.4" r="6.5"/><circle cx="1313.9" cy="2047.1" r="6.5"/><circle cx="1270.8" cy="2054.5" r="6.5"/><circle cx="1275.5" cy="2055.5" r="6.5"/><circle cx="1283.0" cy="2051.8" r="6.5"/><circle cx="1287.8" cy="2053.9" r="6.5"/><circle cx="1291.2" cy="2055.1" r="6.5"/><circle cx="1298.8" cy="2052.0" r="6.5"/><circle cx="1303.9" cy="2053.4" r="6.5"/><circle cx="1310.9" cy="2051.9" r="6.5"/><circle cx="1315.2" cy="2053.4" r="6.5"/><circle cx="1272.1" cy="2059.1" r="6.5"/><circle cx="1278.6" cy="2057.0" r="6.5"/><circle cx="1280.3" cy="2059.7" r="6.5"/><circle cx="1288.7" cy="2058.5" r="6.5"/><circle cx="1291.6" cy="2057.4" r="6.5"/><circle cx="1298.3" cy="2057.7" r="6.5"/><circle cx="1303.4" cy="2057.3" r="6.5"/><circle cx="1308.7" cy="2056.7" r="6.5"/><circle cx="1314.0" cy="2056.6" r="6.5"/><circle cx="1270.9" cy="2062.2" r="6.5"/><circle cx="1275.1" cy="2064.4" r="6.5"/><circle cx="1282.1" cy="2060.9" r="6.5"/><circle cx="1287.4" cy="2061.3" r="6.5"/><circle cx="1291.7" cy="2064.4" r="6.5"/><circle cx="1299.9" cy="2062.1" r="6.5"/><circle cx="1303.5" cy="2064.2" r="6.5"/><circle cx="1308.9" cy="2060.8" r="6.5"/><circle cx="1314.2" cy="2061.1" r="6.5"/><circle cx="1272.1" cy="2068.1" r="6.5"/><circle cx="1274.6" cy="2066.9" r="6.5"/><circle cx="1280.4" cy="2068.5" r="6.5"/><circle cx="1287.7" cy="2066.8" r="6.5"/><circle cx="1291.6" cy="2068.2" r="6.5"/><circle cx="1296.7" cy="2067.9" r="6.5"/><circle cx="1302.2" cy="2069.0" r="6.5"/><circle cx="1307.8" cy="2066.1" r="6.5"/><circle cx="1315.2" cy="2068.2" r="6.5"/><circle cx="1267.6" cy="2073.2" r="6.5"/><circle cx="1273.3" cy="2072.0" r="6.5"/><circle cx="1279.1" cy="2070.3" r="6.5"/><circle cx="1286.0" cy="2071.1" r="6.5"/><circle cx="1289.9" cy="2070.4" r="6.5"/><circle cx="1296.7" cy="2070.3" r="6.5"/><circle cx="1303.2" cy="2070.3" r="6.5"/><circle cx="1305.0" cy="2069.5" r="6.5"/><circle cx="1312.7" cy="2072.3" r="6.5"/><circle cx="1317.9" cy="2073.3" r="6.5"/><circle cx="1265.4" cy="2077.6" r="6.5"/><circle cx="1270.7" cy="2076.0" r="6.5"/><circle cx="1276.5" cy="2076.6" r="6.5"/><circle cx="1280.2" cy="2076.2" r="6.5"/><circle cx="1288.5" cy="2074.0" r="6.5"/><circle cx="1294.1" cy="2076.0" r="6.5"/><circle cx="1297.3" cy="2077.0" r="6.5"/><circle cx="1302.2" cy="2076.9" r="6.5"/><circle cx="1310.1" cy="2074.8" r="6.5"/><circle cx="1315.4" cy="2075.7" r="6.5"/><circle cx="1320.0" cy="2075.1" r="6.5"/><circle cx="1263.2" cy="2080.7" r="6.5"/><circle cx="1266.6" cy="2079.1" r="6.5"/><circle cx="1275.1" cy="2082.5" r="6.5"/><circle cx="1277.8" cy="2078.8" r="6.5"/><circle cx="1283.4" cy="2080.5" r="6.5"/><circle cx="1289.1" cy="2082.6" r="6.5"/><circle cx="1293.8" cy="2081.5" r="6.5"/><circle cx="1299.7" cy="2081.7" r="6.5"/><circle cx="1305.2" cy="2081.0" r="6.5"/><circle cx="1312.2" cy="2081.4" r="6.5"/><circle cx="1316.9" cy="2082.3" r="6.5"/><circle cx="1324.4" cy="2080.1" r="6.5"/><circle cx="1259.1" cy="2087.1" r="6.5"/><circle cx="1265.1" cy="2086.3" r="6.5"/><circle cx="1270.1" cy="2084.9" r="6.5"/><circle cx="1276.9" cy="2086.2" r="6.5"/><circle cx="1283.7" cy="2086.5" r="6.5"/><circle cx="1288.0" cy="2086.9" r="6.5"/><circle cx="1294.1" cy="2086.3" r="6.5"/><circle cx="1299.7" cy="2085.1" r="6.5"/><circle cx="1304.1" cy="2086.4" r="6.5"/><circle cx="1309.5" cy="2084.7" r="6.5"/><circle cx="1316.8" cy="2084.2" r="6.5"/><circle cx="1322.3" cy="2083.0" r="6.5"/><circle cx="1327.3" cy="2084.9" r="6.5"/><circle cx="1257.9" cy="2090.9" r="6.5"/><circle cx="1261.6" cy="2087.6" r="6.5"/><circle cx="1269.6" cy="2091.5" r="6.5"/><circle cx="1274.2" cy="2090.0" r="6.5"/><circle cx="1281.3" cy="2090.4" r="6.5"/><circle cx="1286.7" cy="2090.3" r="6.5"/><circle cx="1292.3" cy="2088.1" r="6.5"/><circle cx="1295.2" cy="2091.6" r="6.5"/><circle cx="1299.3" cy="2089.2" r="6.5"/><circle cx="1305.2" cy="2087.7" r="6.5"/><circle cx="1311.7" cy="2087.7" r="6.5"/><circle cx="1319.5" cy="2087.8" r="6.5"/><circle cx="1325.4" cy="2087.9" r="6.5"/><circle cx="1329.5" cy="2090.7" r="6.5"/><circle cx="1257.8" cy="2095.1" r="6.5"/><circle cx="1262.2" cy="2094.4" r="6.5"/><circle cx="1268.3" cy="2092.1" r="6.5"/><circle cx="1273.6" cy="2092.1" r="6.5"/><circle cx="1279.7" cy="2094.3" r="6.5"/><circle cx="1286.8" cy="2092.4" r="6.5"/><circle cx="1290.0" cy="2093.7" r="6.5"/><circle cx="1297.7" cy="2092.4" r="6.5"/><circle cx="1300.3" cy="2093.5" r="6.5"/><circle cx="1305.6" cy="2092.7" r="6.5"/><circle cx="1312.4" cy="2093.3" r="6.5"/><circle cx="1318.5" cy="2095.1" r="6.5"/><circle cx="1324.8" cy="2095.4" r="6.5"/><circle cx="1329.7" cy="2092.5" r="6.5"/><circle cx="1256.0" cy="2097.8" r="6.5"/><circle cx="1259.8" cy="2098.4" r="6.5"/><circle cx="1266.1" cy="2096.6" r="6.5"/><circle cx="1271.1" cy="2098.7" r="6.5"/><circle cx="1278.7" cy="2097.8" r="6.5"/><circle cx="1285.2" cy="2099.1" r="6.5"/><circle cx="1291.2" cy="2097.9" r="6.5"/><circle cx="1295.2" cy="2098.5" r="6.5"/><circle cx="1302.5" cy="2098.7" r="6.5"/><circle cx="1305.5" cy="2097.8" r="6.5"/><circle cx="1314.5" cy="2099.9" r="6.5"/><circle cx="1316.8" cy="2098.3" r="6.5"/><circle cx="1325.5" cy="2098.3" r="6.5"/><circle cx="1330.2" cy="2097.3" r="6.5"/><circle cx="1254.9" cy="2104.8" r="6.5"/><circle cx="1260.1" cy="2102.3" r="6.5"/><circle cx="1267.0" cy="2103.1" r="6.5"/><circle cx="1269.4" cy="2102.4" r="6.5"/><circle cx="1275.5" cy="2102.1" r="6.5"/><circle cx="1281.4" cy="2104.4" r="6.5"/><circle cx="1288.2" cy="2102.7" r="6.5"/><circle cx="1293.3" cy="2102.3" r="6.5"/><circle cx="1296.5" cy="2104.9" r="6.5"/><circle cx="1305.2" cy="2102.1" r="6.5"/><circle cx="1311.3" cy="2103.4" r="6.5"/><circle cx="1315.9" cy="2101.7" r="6.5"/><circle cx="1320.0" cy="2102.7" r="6.5"/><circle cx="1327.2" cy="2102.4" r="6.5"/><circle cx="1330.7" cy="2103.9" r="6.5"/><circle cx="1254.0" cy="2106.5" r="6.5"/><circle cx="1259.7" cy="2107.6" r="6.5"/><circle cx="1264.4" cy="2105.9" r="6.5"/><circle cx="1269.4" cy="2106.5" r="6.5"/><circle cx="1277.4" cy="2109.6" r="6.5"/><circle cx="1281.4" cy="2106.6" r="6.5"/><circle cx="1288.1" cy="2106.9" r="6.5"/><circle cx="1291.3" cy="2107.0" r="6.5"/><circle cx="1298.4" cy="2108.4" r="6.5"/><circle cx="1303.8" cy="2105.9" r="6.5"/><circle cx="1310.1" cy="2107.7" r="6.5"/><circle cx="1314.3" cy="2108.8" r="6.5"/><circle cx="1320.3" cy="2107.9" r="6.5"/><circle cx="1326.6" cy="2109.4" r="6.5"/><circle cx="1331.0" cy="2108.3" r="6.5"/><circle cx="1254.5" cy="2110.2" r="6.5"/><circle cx="1258.9" cy="2111.8" r="6.5"/><circle cx="1266.9" cy="2113.2" r="6.5"/><circle cx="1270.3" cy="2110.8" r="6.5"/><circle cx="1277.1" cy="2114.1" r="6.5"/><circle cx="1283.0" cy="2111.8" r="6.5"/><circle cx="1288.2" cy="2112.2" r="6.5"/><circle cx="1293.7" cy="2111.0" r="6.5"/><circle cx="1299.5" cy="2112.7" r="6.5"/><circle cx="1304.0" cy="2112.9" r="6.5"/><circle cx="1311.6" cy="2111.8" r="6.5"/><circle cx="1313.7" cy="2111.2" r="6.5"/><circle cx="1322.0" cy="2110.1" r="6.5"/><circle cx="1328.2" cy="2113.5" r="6.5"/><circle cx="1332.3" cy="2111.2" r="6.5"/><circle cx="1253.0" cy="2117.4" r="6.5"/><circle cx="1260.3" cy="2118.2" r="6.5"/><circle cx="1266.2" cy="2118.0" r="6.5"/><circle cx="1268.6" cy="2118.5" r="6.5"/><circle cx="1277.4" cy="2118.6" r="6.5"/><circle cx="1283.0" cy="2118.2" r="6.5"/><circle cx="1289.3" cy="2118.4" r="6.5"/><circle cx="1294.8" cy="2116.1" r="6.5"/><circle cx="1298.7" cy="2115.4" r="6.5"/><circle cx="1304.0" cy="2116.4" r="6.5"/><circle cx="1312.2" cy="2115.0" r="6.5"/><circle cx="1317.7" cy="2118.6" r="6.5"/><circle cx="1323.5" cy="2117.9" r="6.5"/><circle cx="1328.6" cy="2114.7" r="6.5"/><circle cx="1331.8" cy="2115.6" r="6.5"/><circle cx="1254.5" cy="2121.0" r="6.5"/><circle cx="1260.1" cy="2119.9" r="6.5"/><circle cx="1265.6" cy="2119.6" r="6.5"/><circle cx="1271.7" cy="2121.3" r="6.5"/><circle cx="1274.5" cy="2121.6" r="6.5"/><circle cx="1283.6" cy="2122.6" r="6.5"/><circle cx="1285.5" cy="2123.0" r="6.5"/><circle cx="1291.3" cy="2121.7" r="6.5"/><circle cx="1298.1" cy="2120.0" r="6.5"/><circle cx="1302.9" cy="2123.2" r="6.5"/><circle cx="1308.4" cy="2119.3" r="6.5"/><circle cx="1315.1" cy="2121.8" r="6.5"/><circle cx="1320.2" cy="2121.2" r="6.5"/><circle cx="1328.8" cy="2120.0" r="6.5"/><circle cx="1332.5" cy="2121.1" r="6.5"/><circle cx="1253.9" cy="2126.7" r="6.5"/><circle cx="1260.3" cy="2125.2" r="6.5"/><circle cx="1263.7" cy="2126.3" r="6.5"/><circle cx="1268.2" cy="2125.7" r="6.5"/><circle cx="1277.4" cy="2127.0" r="6.5"/><circle cx="1281.9" cy="2127.1" r="6.5"/><circle cx="1288.9" cy="2125.1" r="6.5"/><circle cx="1293.7" cy="2124.5" r="6.5"/><circle cx="1299.2" cy="2127.3" r="6.5"/><circle cx="1305.8" cy="2125.3" r="6.5"/><circle cx="1312.1" cy="2126.0" r="6.5"/><circle cx="1314.0" cy="2126.6" r="6.5"/><circle cx="1320.9" cy="2127.5" r="6.5"/><circle cx="1326.8" cy="2126.2" r="6.5"/><circle cx="1332.5" cy="2123.9" r="6.5"/><circle cx="1253.2" cy="2130.9" r="6.5"/><circle cx="1259.3" cy="2128.5" r="6.5"/><circle cx="1264.0" cy="2128.7" r="6.5"/><circle cx="1270.0" cy="2129.0" r="6.5"/><circle cx="1273.7" cy="2132.2" r="6.5"/><circle cx="1280.2" cy="2128.3" r="6.5"/><circle cx="1285.8" cy="2131.7" r="6.5"/><circle cx="1291.2" cy="2131.5" r="6.5"/><circle cx="1299.8" cy="2132.1" r="6.5"/><circle cx="1304.5" cy="2129.4" r="6.5"/><circle cx="1309.4" cy="2128.3" r="6.5"/><circle cx="1314.2" cy="2129.3" r="6.5"/><circle cx="1322.7" cy="2130.1" r="6.5"/><circle cx="1326.5" cy="2128.9" r="6.5"/><circle cx="1332.7" cy="2132.0" r="6.5"/><circle cx="1252.4" cy="2132.8" r="6.5"/><circle cx="1256.8" cy="2133.4" r="6.5"/><circle cx="1262.4" cy="2135.3" r="6.5"/><circle cx="1268.2" cy="2133.6" r="6.5"/><circle cx="1273.2" cy="2133.6" r="6.5"/><circle cx="1278.8" cy="2134.3" r="6.5"/><circle cx="1286.6" cy="2133.2" r="6.5"/><circle cx="1290.6" cy="2136.7" r="6.5"/><circle cx="1296.7" cy="2134.6" r="6.5"/><circle cx="1303.3" cy="2135.5" r="6.5"/><circle cx="1304.8" cy="2132.9" r="6.5"/><circle cx="1313.1" cy="2133.0" r="6.5"/><circle cx="1316.7" cy="2134.7" r="6.5"/><circle cx="1323.1" cy="2136.4" r="6.5"/><circle cx="1329.1" cy="2134.1" r="6.5"/><circle cx="1334.0" cy="2135.1" r="6.5"/><circle cx="1254.0" cy="2137.7" r="6.5"/><circle cx="1260.8" cy="2138.4" r="6.5"/><circle cx="1263.9" cy="2138.3" r="6.5"/><circle cx="1270.1" cy="2139.4" r="6.5"/><circle cx="1274.7" cy="2137.5" r="6.5"/><circle cx="1283.0" cy="2138.2" r="6.5"/><circle cx="1287.6" cy="2139.0" r="6.5"/><circle cx="1294.7" cy="2139.7" r="6.5"/><circle cx="1296.9" cy="2137.8" r="6.5"/><circle cx="1305.2" cy="2140.5" r="6.5"/><circle cx="1311.1" cy="2140.9" r="6.5"/><circle cx="1316.9" cy="2139.1" r="6.5"/><circle cx="1320.9" cy="2139.5" r="6.5"/><circle cx="1325.1" cy="2137.2" r="6.5"/><circle cx="1333.0" cy="2138.9" r="6.5"/><circle cx="1254.4" cy="2142.4" r="6.5"/><circle cx="1260.4" cy="2141.9" r="6.5"/><circle cx="1263.8" cy="2143.4" r="6.5"/><circle cx="1270.1" cy="2145.2" r="6.5"/><circle cx="1275.0" cy="2142.2" r="6.5"/><circle cx="1283.2" cy="2143.7" r="6.5"/><circle cx="1286.3" cy="2142.2" r="6.5"/><circle cx="1294.8" cy="2142.4" r="6.5"/><circle cx="1299.0" cy="2144.7" r="6.5"/><circle cx="1302.9" cy="2144.8" r="6.5"/><circle cx="1309.7" cy="2144.4" r="6.5"/><circle cx="1313.0" cy="2143.4" r="6.5"/><circle cx="1321.4" cy="2145.9" r="6.5"/><circle cx="1327.1" cy="2144.8" r="6.5"/><circle cx="1331.1" cy="2143.9" r="6.5"/><circle cx="1255.6" cy="2148.3" r="6.5"/><circle cx="1263.3" cy="2150.2" r="6.5"/><circle cx="1268.5" cy="2147.4" r="6.5"/><circle cx="1271.6" cy="2147.7" r="6.5"/><circle cx="1278.2" cy="2148.1" r="6.5"/><circle cx="1283.5" cy="2149.7" r="6.5"/><circle cx="1289.6" cy="2149.1" r="6.5"/><circle cx="1294.8" cy="2147.3" r="6.5"/><circle cx="1300.4" cy="2147.8" r="6.5"/><circle cx="1306.7" cy="2147.7" r="6.5"/><circle cx="1314.8" cy="2146.4" r="6.5"/><circle cx="1318.6" cy="2149.6" r="6.5"/><circle cx="1326.4" cy="2149.8" r="6.5"/><circle cx="1330.0" cy="2146.7" r="6.5"/><circle cx="1258.3" cy="2154.5" r="6.5"/><circle cx="1262.8" cy="2151.3" r="6.5"/><circle cx="1270.5" cy="2152.9" r="6.5"/><circle cx="1274.8" cy="2154.4" r="6.5"/><circle cx="1277.6" cy="2154.3" r="6.5"/><circle cx="1283.1" cy="2153.4" r="6.5"/><circle cx="1288.6" cy="2154.9" r="6.5"/><circle cx="1296.1" cy="2151.3" r="6.5"/><circle cx="1303.0" cy="2154.9" r="6.5"/><circle cx="1306.3" cy="2153.4" r="6.5"/><circle cx="1310.5" cy="2153.0" r="6.5"/><circle cx="1318.9" cy="2154.7" r="6.5"/><circle cx="1324.9" cy="2151.9" r="6.5"/><circle cx="1329.3" cy="2154.2" r="6.5"/><circle cx="1258.5" cy="2158.6" r="6.5"/><circle cx="1263.8" cy="2155.8" r="6.5"/><circle cx="1271.7" cy="2158.3" r="6.5"/><circle cx="1277.5" cy="2156.3" r="6.5"/><circle cx="1282.0" cy="2157.4" r="6.5"/><circle cx="1286.1" cy="2156.4" r="6.5"/><circle cx="1293.7" cy="2156.8" r="6.5"/><circle cx="1298.4" cy="2156.3" r="6.5"/><circle cx="1304.1" cy="2155.4" r="6.5"/><circle cx="1310.9" cy="2156.7" r="6.5"/><circle cx="1315.1" cy="2157.5" r="6.5"/><circle cx="1323.7" cy="2158.0" r="6.5"/><circle cx="1328.9" cy="2158.6" r="6.5"/><circle cx="1259.0" cy="2160.3" r="6.5"/><circle cx="1263.6" cy="2163.2" r="6.5"/><circle cx="1270.5" cy="2161.2" r="6.5"/><circle cx="1274.4" cy="2162.0" r="6.5"/><circle cx="1280.1" cy="2162.8" r="6.5"/><circle cx="1288.9" cy="2161.2" r="6.5"/><circle cx="1293.5" cy="2163.3" r="6.5"/><circle cx="1298.1" cy="2160.5" r="6.5"/><circle cx="1302.5" cy="2161.2" r="6.5"/><circle cx="1312.3" cy="2163.3" r="6.5"/><circle cx="1314.5" cy="2163.9" r="6.5"/><circle cx="1319.1" cy="2162.2" r="6.5"/><circle cx="1326.1" cy="2161.6" r="6.5"/><circle cx="1260.8" cy="2164.6" r="6.5"/><circle cx="1264.7" cy="2167.1" r="6.5"/><circle cx="1271.3" cy="2165.6" r="6.5"/><circle cx="1276.1" cy="2167.9" r="6.5"/><circle cx="1283.6" cy="2167.5" r="6.5"/><circle cx="1288.5" cy="2167.0" r="6.5"/><circle cx="1293.4" cy="2164.7" r="6.5"/><circle cx="1300.8" cy="2164.8" r="6.5"/><circle cx="1303.9" cy="2164.8" r="6.5"/><circle cx="1309.7" cy="2168.1" r="6.5"/><circle cx="1317.0" cy="2166.3" r="6.5"/><circle cx="1321.5" cy="2167.0" r="6.5"/><circle cx="1325.3" cy="2164.5" r="6.5"/><circle cx="1262.0" cy="2170.7" r="6.5"/><circle cx="1266.4" cy="2172.1" r="6.5"/><circle cx="1273.1" cy="2169.0" r="6.5"/><circle cx="1278.6" cy="2170.1" r="6.5"/><circle cx="1286.1" cy="2172.9" r="6.5"/><circle cx="1292.1" cy="2169.8" r="6.5"/><circle cx="1297.8" cy="2173.0" r="6.5"/><circle cx="1303.4" cy="2168.9" r="6.5"/><circle cx="1307.6" cy="2169.6" r="6.5"/><circle cx="1314.1" cy="2171.7" r="6.5"/><circle cx="1317.4" cy="2170.0" r="6.5"/><circle cx="1325.8" cy="2172.1" r="6.5"/><circle cx="1263.6" cy="2177.3" r="6.5"/><circle cx="1268.4" cy="2176.8" r="6.5"/><circle cx="1274.1" cy="2174.6" r="6.5"/><circle cx="1278.9" cy="2175.8" r="6.5"/><circle cx="1284.3" cy="2176.8" r="6.5"/><circle cx="1288.8" cy="2174.7" r="6.5"/><circle cx="1294.9" cy="2174.0" r="6.5"/><circle cx="1303.7" cy="2175.8" r="6.5"/><circle cx="1305.5" cy="2174.2" r="6.5"/><circle cx="1312.7" cy="2174.9" r="6.5"/><circle cx="1317.7" cy="2176.3" r="6.5"/><circle cx="1323.1" cy="2177.3" r="6.5"/><circle cx="1263.7" cy="2179.4" r="6.5"/><circle cx="1268.5" cy="2179.9" r="6.5"/><circle cx="1273.3" cy="2178.8" r="6.5"/><circle cx="1278.7" cy="2181.2" r="6.5"/><circle cx="1283.2" cy="2178.8" r="6.5"/><circle cx="1290.0" cy="2180.6" r="6.5"/><circle cx="1297.3" cy="2181.8" r="6.5"/><circle cx="1301.0" cy="2181.0" r="6.5"/><circle cx="1308.6" cy="2180.0" r="6.5"/><circle cx="1311.7" cy="2180.1" r="6.5"/><circle cx="1319.4" cy="2178.4" r="6.5"/><circle cx="1323.4" cy="2181.3" r="6.5"/><circle cx="1264.4" cy="2184.6" r="6.5"/><circle cx="1268.7" cy="2182.7" r="6.5"/><circle cx="1276.2" cy="2184.9" r="6.5"/><circle cx="1281.0" cy="2183.5" r="6.5"/><circle cx="1289.4" cy="2183.7" r="6.5"/><circle cx="1293.3" cy="2185.4" r="6.5"/><circle cx="1298.9" cy="2183.0" r="6.5"/><circle cx="1302.5" cy="2185.6" r="6.5"/><circle cx="1309.6" cy="2182.7" r="6.5"/><circle cx="1316.1" cy="2184.1" r="6.5"/><circle cx="1321.1" cy="2185.5" r="6.5"/><circle cx="1265.8" cy="2189.0" r="6.5"/><circle cx="1271.0" cy="2191.0" r="6.5"/><circle cx="1275.1" cy="2188.1" r="6.5"/><circle cx="1283.6" cy="2189.4" r="6.5"/><circle cx="1287.5" cy="2189.2" r="6.5"/><circle cx="1292.9" cy="2191.0" r="6.5"/><circle cx="1300.1" cy="2189.4" r="6.5"/><circle cx="1304.6" cy="2187.6" r="6.5"/><circle cx="1307.6" cy="2189.8" r="6.5"/><circle cx="1317.0" cy="2187.5" r="6.5"/><circle cx="1319.6" cy="2190.1" r="6.5"/><circle cx="1266.2" cy="2191.6" r="6.5"/><circle cx="1275.0" cy="2193.3" r="6.5"/><circle cx="1278.0" cy="2193.0" r="6.5"/><circle cx="1286.2" cy="2195.4" r="6.5"/><circle cx="1289.9" cy="2194.8" r="6.5"/><circle cx="1294.6" cy="2195.0" r="6.5"/><circle cx="1301.4" cy="2195.0" r="6.5"/><circle cx="1305.9" cy="2194.0" r="6.5"/><circle cx="1311.6" cy="2194.2" r="6.5"/><circle cx="1319.0" cy="2193.0" r="6.5"/><circle cx="1265.9" cy="2196.8" r="6.5"/><circle cx="1270.9" cy="2199.5" r="6.5"/><circle cx="1275.0" cy="2199.4" r="6.5"/><circle cx="1281.3" cy="2196.1" r="6.5"/><circle cx="1287.7" cy="2198.5" r="6.5"/><circle cx="1291.3" cy="2198.5" r="6.5"/><circle cx="1296.6" cy="2196.7" r="6.5"/><circle cx="1303.6" cy="2198.7" r="6.5"/><circle cx="1311.5" cy="2199.4" r="6.5"/><circle cx="1314.7" cy="2197.9" r="6.5"/><circle cx="1320.3" cy="2200.0" r="6.5"/><circle cx="1264.9" cy="2203.3" r="6.5"/><circle cx="1269.6" cy="2203.7" r="6.5"/><circle cx="1276.0" cy="2200.9" r="6.5"/><circle cx="1282.3" cy="2204.0" r="6.5"/><circle cx="1289.0" cy="2204.5" r="6.5"/><circle cx="1294.3" cy="2203.7" r="6.5"/><circle cx="1300.6" cy="2200.7" r="6.5"/><circle cx="1305.5" cy="2202.1" r="6.5"/><circle cx="1311.1" cy="2200.9" r="6.5"/><circle cx="1318.3" cy="2202.3" r="6.5"/><circle cx="1322.5" cy="2202.5" r="6.5"/><circle cx="1262.0" cy="2207.4" r="6.5"/><circle cx="1268.0" cy="2208.2" r="6.5"/><circle cx="1272.3" cy="2208.3" r="6.5"/><circle cx="1278.3" cy="2206.4" r="6.5"/><circle cx="1286.8" cy="2207.0" r="6.5"/><circle cx="1290.3" cy="2208.5" r="6.5"/><circle cx="1296.4" cy="2207.5" r="6.5"/><circle cx="1300.4" cy="2208.5" r="6.5"/><circle cx="1309.5" cy="2206.9" r="6.5"/><circle cx="1312.8" cy="2206.1" r="6.5"/><circle cx="1317.8" cy="2208.7" r="6.5"/><circle cx="1323.4" cy="2207.1" r="6.5"/><circle cx="1264.5" cy="2210.6" r="6.5"/><circle cx="1267.9" cy="2213.3" r="6.5"/><circle cx="1275.3" cy="2212.0" r="6.5"/><circle cx="1281.6" cy="2212.9" r="6.5"/><circle cx="1289.3" cy="2211.1" r="6.5"/><circle cx="1291.6" cy="2211.9" r="6.5"/><circle cx="1299.0" cy="2211.8" r="6.5"/><circle cx="1304.9" cy="2210.6" r="6.5"/><circle cx="1312.2" cy="2210.6" r="6.5"/><circle cx="1314.8" cy="2213.0" r="6.5"/><circle cx="1323.2" cy="2210.4" r="6.5"/><circle cx="1265.9" cy="2216.7" r="6.5"/><circle cx="1271.3" cy="2218.0" r="6.5"/><circle cx="1275.2" cy="2214.9" r="6.5"/><circle cx="1280.6" cy="2215.0" r="6.5"/><circle cx="1289.8" cy="2215.0" r="6.5"/><circle cx="1292.6" cy="2214.6" r="6.5"/><circle cx="1296.4" cy="2215.5" r="6.5"/><circle cx="1304.7" cy="2217.3" r="6.5"/><circle cx="1310.7" cy="2215.4" r="6.5"/><circle cx="1315.8" cy="2215.7" r="6.5"/><circle cx="1319.7" cy="2216.1" r="6.5"/><circle cx="1267.6" cy="2219.4" r="6.5"/><circle cx="1274.1" cy="2221.5" r="6.5"/><circle cx="1278.7" cy="2218.6" r="6.5"/><circle cx="1283.6" cy="2221.0" r="6.5"/><circle cx="1288.4" cy="2219.2" r="6.5"/><circle cx="1296.8" cy="2219.2" r="6.5"/><circle cx="1299.9" cy="2219.8" r="6.5"/><circle cx="1307.7" cy="2219.2" r="6.5"/><circle cx="1311.0" cy="2220.8" r="6.5"/><circle cx="1319.1" cy="2221.8" r="6.5"/><circle cx="1270.4" cy="2223.1" r="6.5"/><circle cx="1275.6" cy="2226.5" r="6.5"/><circle cx="1280.9" cy="2226.2" r="6.5"/><circle cx="1287.2" cy="2223.8" r="6.5"/><circle cx="1292.6" cy="2226.5" r="6.5"/><circle cx="1299.2" cy="2223.7" r="6.5"/><circle cx="1305.2" cy="2224.9" r="6.5"/><circle cx="1309.6" cy="2223.6" r="6.5"/><circle cx="1316.9" cy="2224.2" r="6.5"/><circle cx="1272.5" cy="2230.4" r="6.5"/><circle cx="1279.6" cy="2230.2" r="6.5"/><circle cx="1282.3" cy="2229.8" r="6.5"/><circle cx="1291.4" cy="2228.9" r="6.5"/><circle cx="1298.0" cy="2231.2" r="6.5"/><circle cx="1300.4" cy="2228.2" r="6.5"/><circle cx="1308.3" cy="2228.8" r="6.5"/><circle cx="1312.6" cy="2228.1" r="6.5"/><circle cx="1274.4" cy="2232.7" r="6.5"/><circle cx="1280.4" cy="2233.2" r="6.5"/><circle cx="1288.3" cy="2233.2" r="6.5"/><circle cx="1295.0" cy="2235.9" r="6.5"/><circle cx="1297.0" cy="2234.7" r="6.5"/><circle cx="1304.9" cy="2233.5" r="6.5"/><circle cx="1311.2" cy="2235.3" r="6.5"/><circle cx="1278.4" cy="2237.6" r="6.5"/><circle cx="1285.5" cy="2237.3" r="6.5"/><circle cx="1288.2" cy="2238.9" r="6.5"/><circle cx="1296.0" cy="2237.9" r="6.5"/><circle cx="1301.4" cy="2239.3" r="6.5"/><circle cx="1308.3" cy="2236.9" r="6.5"/><circle cx="1280.0" cy="2242.9" r="6.5"/><circle cx="1287.4" cy="2241.6" r="6.5"/><circle cx="1290.0" cy="2242.4" r="6.5"/><circle cx="1295.0" cy="2243.1" r="6.5"/><circle cx="1302.3" cy="2243.1" r="6.5"/><circle cx="1306.1" cy="2242.0" r="6.5"/><circle cx="1281.8" cy="2249.6" r="6.5"/><circle cx="1288.4" cy="2245.6" r="6.5"/><circle cx="1292.8" cy="2249.4" r="6.5"/><circle cx="1296.6" cy="2247.7" r="6.5"/><circle cx="1304.2" cy="2246.1" r="6.5"/>
</g>
<g fill="#f2848c" fill-opacity="0.08" transform="scale(1 0.775)">
<circle cx="1434.7" cy="1781.5" r="6.5"/><circle cx="1435.4" cy="1789.9" r="6.5"/><circle cx="1435.4" cy="1812.1" r="6.5"/><circle cx="1435.7" cy="1835.7" r="6.5"/><circle cx="1434.9" cy="1857.9" r="6.5"/><circle cx="1434.9" cy="1877.3" r="6.5"/><circle cx="1435.5" cy="1888.4" r="6.5"/><circle cx="1435.4" cy="1902.3" r="6.5"/><circle cx="1435.0" cy="1916.2" r="6.5"/><circle cx="1436.1" cy="1926.9" r="6.5"/>
</g>
<g fill="#f2848c" fill-opacity="0.105" transform="scale(1 0.775)">
<circle cx="1434.0" cy="1937.9" r="6.5"/><circle cx="1437.3" cy="1939.9" r="6.5"/><circle cx="1430.9" cy="1945.9" r="6.5"/><circle cx="1433.7" cy="1945.6" r="6.5"/><circle cx="1440.5" cy="1944.0" r="6.5"/><circle cx="1429.4" cy="1948.3" r="6.5"/><circle cx="1434.5" cy="1948.2" r="6.5"/><circle cx="1440.7" cy="1951.9" r="6.5"/><circle cx="1427.6" cy="1956.4" r="6.5"/><circle cx="1432.5" cy="1954.9" r="6.5"/><circle cx="1439.3" cy="1955.2" r="6.5"/><circle cx="1441.8" cy="1954.8" r="6.5"/><circle cx="1428.1" cy="1957.6" r="6.5"/><circle cx="1430.9" cy="1960.5" r="6.5"/><circle cx="1437.7" cy="1957.7" r="6.5"/><circle cx="1442.5" cy="1957.8" r="6.5"/><circle cx="1428.6" cy="1963.5" r="6.5"/><circle cx="1431.0" cy="1964.8" r="6.5"/><circle cx="1435.8" cy="1962.5" r="6.5"/><circle cx="1441.4" cy="1964.4" r="6.5"/><circle cx="1427.3" cy="1968.1" r="6.5"/><circle cx="1431.0" cy="1967.9" r="6.5"/><circle cx="1438.4" cy="1968.1" r="6.5"/><circle cx="1442.2" cy="1967.9" r="6.5"/><circle cx="1428.1" cy="1972.9" r="6.5"/><circle cx="1433.4" cy="1972.4" r="6.5"/><circle cx="1441.5" cy="1974.0" r="6.5"/><circle cx="1429.4" cy="1975.2" r="6.5"/><circle cx="1433.6" cy="1977.8" r="6.5"/><circle cx="1442.1" cy="1975.0" r="6.5"/><circle cx="1429.1" cy="1983.3" r="6.5"/><circle cx="1434.9" cy="1980.9" r="6.5"/><circle cx="1441.9" cy="1983.3" r="6.5"/><circle cx="1427.3" cy="1985.2" r="6.5"/><circle cx="1431.4" cy="1986.6" r="6.5"/><circle cx="1437.5" cy="1985.0" r="6.5"/><circle cx="1442.3" cy="1984.1" r="6.5"/><circle cx="1426.1" cy="1992.5" r="6.5"/><circle cx="1432.7" cy="1989.6" r="6.5"/><circle cx="1440.0" cy="1990.0" r="6.5"/><circle cx="1443.3" cy="1988.6" r="6.5"/><circle cx="1426.5" cy="2260.5" r="6.5"/><circle cx="1430.2" cy="2262.1" r="6.5"/><circle cx="1436.4" cy="2263.0" r="6.5"/><circle cx="1443.7" cy="2260.6" r="6.5"/><circle cx="1427.8" cy="2267.2" r="6.5"/><circle cx="1433.8" cy="2264.7" r="6.5"/><circle cx="1441.4" cy="2264.5" r="6.5"/><circle cx="1432.5" cy="2271.7" r="6.5"/>
</g>
<g fill="#f2848c" fill-opacity="0.135" transform="scale(1 0.775)">
<circle cx="1424.5" cy="1993.8" r="6.5"/><circle cx="1429.1" cy="1996.6" r="6.5"/><circle cx="1434.2" cy="1994.0" r="6.5"/><circle cx="1440.6" cy="1996.8" r="6.5"/><circle cx="1444.6" cy="1996.1" r="6.5"/><circle cx="1423.8" cy="1999.8" r="6.5"/><circle cx="1430.1" cy="2001.4" r="6.5"/><circle cx="1436.3" cy="1999.6" r="6.5"/><circle cx="1442.3" cy="1999.0" r="6.5"/><circle cx="1446.1" cy="2001.5" r="6.5"/><circle cx="1423.6" cy="2005.2" r="6.5"/><circle cx="1428.5" cy="2005.8" r="6.5"/><circle cx="1435.7" cy="2003.1" r="6.5"/><circle cx="1443.0" cy="2004.0" r="6.5"/><circle cx="1446.6" cy="2003.1" r="6.5"/><circle cx="1423.0" cy="2007.4" r="6.5"/><circle cx="1430.4" cy="2007.1" r="6.5"/><circle cx="1434.1" cy="2008.4" r="6.5"/><circle cx="1441.0" cy="2008.1" r="6.5"/><circle cx="1447.1" cy="2007.6" r="6.5"/><circle cx="1424.1" cy="2012.8" r="6.5"/><circle cx="1428.1" cy="2012.0" r="6.5"/><circle cx="1433.6" cy="2014.1" r="6.5"/><circle cx="1439.1" cy="2013.8" r="6.5"/><circle cx="1445.4" cy="2013.7" r="6.5"/><circle cx="1425.1" cy="2017.0" r="6.5"/><circle cx="1431.9" cy="2018.3" r="6.5"/><circle cx="1435.5" cy="2015.8" r="6.5"/><circle cx="1440.0" cy="2016.7" r="6.5"/><circle cx="1445.5" cy="2019.4" r="6.5"/><circle cx="1426.0" cy="2020.4" r="6.5"/><circle cx="1431.0" cy="2024.0" r="6.5"/><circle cx="1435.4" cy="2020.5" r="6.5"/><circle cx="1441.8" cy="2021.9" r="6.5"/><circle cx="1446.2" cy="2023.7" r="6.5"/><circle cx="1425.3" cy="2028.5" r="6.5"/><circle cx="1428.0" cy="2027.9" r="6.5"/><circle cx="1434.3" cy="2025.2" r="6.5"/><circle cx="1440.0" cy="2027.0" r="6.5"/><circle cx="1444.7" cy="2026.5" r="6.5"/><circle cx="1423.5" cy="2031.2" r="6.5"/><circle cx="1429.2" cy="2030.4" r="6.5"/><circle cx="1437.3" cy="2030.2" r="6.5"/><circle cx="1442.2" cy="2031.8" r="6.5"/><circle cx="1446.4" cy="2033.2" r="6.5"/><circle cx="1420.5" cy="2037.7" r="6.5"/><circle cx="1428.6" cy="2037.4" r="6.5"/><circle cx="1433.9" cy="2035.3" r="6.5"/><circle cx="1437.8" cy="2035.1" r="6.5"/><circle cx="1445.6" cy="2033.8" r="6.5"/><circle cx="1448.5" cy="2037.6" r="6.5"/><circle cx="1420.3" cy="2041.1" r="6.5"/><circle cx="1426.9" cy="2040.3" r="6.5"/><circle cx="1431.5" cy="2040.0" r="6.5"/><circle cx="1437.0" cy="2038.4" r="6.5"/><circle cx="1440.1" cy="2040.5" r="6.5"/><circle cx="1446.9" cy="2039.9" r="6.5"/><circle cx="1451.1" cy="2042.2" r="6.5"/><circle cx="1418.4" cy="2043.5" r="6.5"/><circle cx="1422.1" cy="2046.2" r="6.5"/><circle cx="1429.6" cy="2044.3" r="6.5"/><circle cx="1435.3" cy="2043.2" r="6.5"/><circle cx="1439.5" cy="2043.6" r="6.5"/><circle cx="1445.2" cy="2046.2" r="6.5"/><circle cx="1451.2" cy="2043.0" r="6.5"/><circle cx="1418.4" cy="2049.5" r="6.5"/><circle cx="1421.4" cy="2050.0" r="6.5"/><circle cx="1430.1" cy="2049.9" r="6.5"/><circle cx="1436.4" cy="2048.9" r="6.5"/><circle cx="1439.9" cy="2050.3" r="6.5"/><circle cx="1447.5" cy="2050.1" r="6.5"/><circle cx="1452.2" cy="2048.7" r="6.5"/><circle cx="1416.9" cy="2053.3" r="6.5"/><circle cx="1422.3" cy="2053.7" r="6.5"/><circle cx="1428.3" cy="2053.1" r="6.5"/><circle cx="1432.5" cy="2055.1" r="6.5"/><circle cx="1437.0" cy="2052.4" r="6.5"/><circle cx="1443.8" cy="2052.3" r="6.5"/><circle cx="1450.1" cy="2052.8" r="6.5"/><circle cx="1454.8" cy="2053.9" r="6.5"/><circle cx="1414.7" cy="2058.4" r="6.5"/><circle cx="1421.9" cy="2058.2" r="6.5"/><circle cx="1427.3" cy="2057.7" r="6.5"/><circle cx="1434.4" cy="2056.9" r="6.5"/><circle cx="1439.3" cy="2056.3" r="6.5"/><circle cx="1443.7" cy="2056.5" r="6.5"/><circle cx="1447.7" cy="2058.7" r="6.5"/><circle cx="1455.8" cy="2057.5" r="6.5"/><circle cx="1414.2" cy="2062.7" r="6.5"/><circle cx="1420.8" cy="2062.2" r="6.5"/><circle cx="1425.6" cy="2064.3" r="6.5"/><circle cx="1432.5" cy="2062.2" r="6.5"/><circle cx="1439.6" cy="2064.9" r="6.5"/><circle cx="1443.8" cy="2060.8" r="6.5"/><circle cx="1449.2" cy="2064.4" r="6.5"/><circle cx="1455.3" cy="2061.6" r="6.5"/><circle cx="1413.9" cy="2065.7" r="6.5"/><circle cx="1420.3" cy="2066.2" r="6.5"/><circle cx="1423.7" cy="2067.7" r="6.5"/><circle cx="1428.0" cy="2068.5" r="6.5"/><circle cx="1434.9" cy="2068.4" r="6.5"/><circle cx="1441.9" cy="2065.6" r="6.5"/><circle cx="1447.6" cy="2068.6" r="6.5"/><circle cx="1450.5" cy="2067.7" r="6.5"/><circle cx="1456.5" cy="2067.5" r="6.5"/><circle cx="1412.3" cy="2071.3" r="6.5"/><circle cx="1417.7" cy="2070.3" r="6.5"/><circle cx="1425.1" cy="2072.4" r="6.5"/><circle cx="1430.8" cy="2070.1" r="6.5"/><circle cx="1436.3" cy="2070.1" r="6.5"/><circle cx="1441.3" cy="2070.7" r="6.5"/><circle cx="1448.7" cy="2070.2" r="6.5"/><circle cx="1452.7" cy="2071.7" r="6.5"/><circle cx="1458.4" cy="2070.0" r="6.5"/><circle cx="1410.6" cy="2078.3" r="6.5"/><circle cx="1415.2" cy="2078.0" r="6.5"/><circle cx="1420.6" cy="2075.4" r="6.5"/><circle cx="1426.7" cy="2078.3" r="6.5"/><circle cx="1433.7" cy="2076.9" r="6.5"/><circle cx="1435.9" cy="2076.2" r="6.5"/><circle cx="1441.4" cy="2074.5" r="6.5"/><circle cx="1448.5" cy="2075.3" r="6.5"/><circle cx="1452.9" cy="2076.4" r="6.5"/><circle cx="1460.8" cy="2078.1" r="6.5"/><circle cx="1409.7" cy="2080.6" r="6.5"/><circle cx="1413.2" cy="2082.8" r="6.5"/><circle cx="1420.2" cy="2080.2" r="6.5"/><circle cx="1427.8" cy="2081.1" r="6.5"/><circle cx="1434.3" cy="2081.7" r="6.5"/><circle cx="1440.1" cy="2079.4" r="6.5"/><circle cx="1446.0" cy="2081.0" r="6.5"/><circle cx="1450.8" cy="2080.0" r="6.5"/><circle cx="1454.7" cy="2080.0" r="6.5"/><circle cx="1460.9" cy="2082.8" r="6.5"/><circle cx="1406.4" cy="2084.3" r="6.5"/><circle cx="1413.4" cy="2084.2" r="6.5"/><circle cx="1417.2" cy="2084.4" r="6.5"/><circle cx="1422.8" cy="2083.4" r="6.5"/><circle cx="1430.7" cy="2086.0" r="6.5"/><circle cx="1434.4" cy="2087.0" r="6.5"/><circle cx="1441.1" cy="2084.2" r="6.5"/><circle cx="1448.4" cy="2084.3" r="6.5"/><circle cx="1453.3" cy="2086.7" r="6.5"/><circle cx="1455.4" cy="2086.8" r="6.5"/><circle cx="1463.0" cy="2085.4" r="6.5"/><circle cx="1407.3" cy="2089.7" r="6.5"/><circle cx="1411.0" cy="2088.0" r="6.5"/><circle cx="1419.6" cy="2089.7" r="6.5"/><circle cx="1424.6" cy="2090.5" r="6.5"/><circle cx="1431.5" cy="2091.7" r="6.5"/><circle cx="1437.1" cy="2089.9" r="6.5"/><circle cx="1442.8" cy="2089.1" r="6.5"/><circle cx="1445.1" cy="2090.5" r="6.5"/><circle cx="1450.4" cy="2091.9" r="6.5"/><circle cx="1457.5" cy="2089.6" r="6.5"/><circle cx="1463.6" cy="2089.2" r="6.5"/><circle cx="1405.5" cy="2095.7" r="6.5"/><circle cx="1408.7" cy="2093.8" r="6.5"/><circle cx="1415.2" cy="2096.3" r="6.5"/><circle cx="1421.4" cy="2094.2" r="6.5"/><circle cx="1429.0" cy="2094.0" r="6.5"/><circle cx="1432.0" cy="2094.0" r="6.5"/><circle cx="1436.7" cy="2095.3" r="6.5"/><circle cx="1442.4" cy="2094.5" r="6.5"/><circle cx="1449.0" cy="2095.5" r="6.5"/><circle cx="1455.2" cy="2094.3" r="6.5"/><circle cx="1461.5" cy="2096.3" r="6.5"/><circle cx="1465.9" cy="2095.3" r="6.5"/><circle cx="1404.5" cy="2098.4" r="6.5"/><circle cx="1411.7" cy="2098.8" r="6.5"/><circle cx="1416.8" cy="2098.5" r="6.5"/><circle cx="1420.7" cy="2096.9" r="6.5"/><circle cx="1427.9" cy="2098.1" r="6.5"/><circle cx="1432.4" cy="2099.9" r="6.5"/><circle cx="1439.4" cy="2100.8" r="6.5"/><circle cx="1444.3" cy="2097.8" r="6.5"/><circle cx="1451.0" cy="2097.1" r="6.5"/><circle cx="1454.3" cy="2100.7" r="6.5"/><circle cx="1461.8" cy="2099.3" r="6.5"/><circle cx="1466.6" cy="2097.6" r="6.5"/><circle cx="1402.7" cy="2102.6" r="6.5"/><circle cx="1411.3" cy="2101.5" r="6.5"/><circle cx="1414.4" cy="2103.5" r="6.5"/><circle cx="1419.6" cy="2105.0" r="6.5"/><circle cx="1424.9" cy="2101.7" r="6.5"/><circle cx="1434.5" cy="2101.4" r="6.5"/><circle cx="1436.8" cy="2103.1" r="6.5"/><circle cx="1445.5" cy="2102.8" r="6.5"/><circle cx="1449.8" cy="2104.7" r="6.5"/><circle cx="1455.8" cy="2104.8" r="6.5"/><circle cx="1458.8" cy="2103.6" r="6.5"/><circle cx="1465.6" cy="2104.9" r="6.5"/><circle cx="1401.8" cy="2106.3" r="6.5"/><circle cx="1407.9" cy="2108.5" r="6.5"/><circle cx="1411.5" cy="2108.5" r="6.5"/><circle cx="1417.3" cy="2107.2" r="6.5"/><circle cx="1422.4" cy="2108.9" r="6.5"/><circle cx="1431.3" cy="2109.1" r="6.5"/><circle cx="1434.4" cy="2106.9" r="6.5"/><circle cx="1442.6" cy="2109.3" r="6.5"/><circle cx="1448.1" cy="2107.6" r="6.5"/><circle cx="1453.1" cy="2108.7" r="6.5"/><circle cx="1458.0" cy="2108.0" r="6.5"/><circle cx="1463.4" cy="2108.0" r="6.5"/><circle cx="1467.1" cy="2107.9" r="6.5"/><circle cx="1400.6" cy="2113.2" r="6.5"/><circle cx="1406.5" cy="2111.2" r="6.5"/><circle cx="1414.1" cy="2112.6" r="6.5"/><circle cx="1417.6" cy="2114.2" r="6.5"/><circle cx="1425.9" cy="2112.2" r="6.5"/><circle cx="1429.8" cy="2110.4" r="6.5"/><circle cx="1434.6" cy="2114.5" r="6.5"/><circle cx="1440.8" cy="2114.5" r="6.5"/><circle cx="1444.3" cy="2110.5" r="6.5"/><circle cx="1450.1" cy="2110.7" r="6.5"/><circle cx="1458.7" cy="2114.5" r="6.5"/><circle cx="1464.4" cy="2112.9" r="6.5"/><circle cx="1468.5" cy="2112.0" r="6.5"/><circle cx="1399.6" cy="2116.6" r="6.5"/><circle cx="1404.5" cy="2118.3" r="6.5"/><circle cx="1412.1" cy="2116.5" r="6.5"/><circle cx="1419.3" cy="2116.2" r="6.5"/><circle cx="1425.2" cy="2117.9" r="6.5"/><circle cx="1430.0" cy="2117.4" r="6.5"/><circle cx="1435.8" cy="2118.7" r="6.5"/><circle cx="1443.2" cy="2117.2" r="6.5"/><circle cx="1448.8" cy="2115.9" r="6.5"/><circle cx="1454.5" cy="2118.6" r="6.5"/><circle cx="1459.0" cy="2115.4" r="6.5"/><circle cx="1465.9" cy="2116.5" r="6.5"/><circle cx="1469.7" cy="2118.9" r="6.5"/><circle cx="1398.2" cy="2122.1" r="6.5"/><circle cx="1403.5" cy="2123.0" r="6.5"/><circle cx="1409.0" cy="2119.9" r="6.5"/><circle cx="1415.7" cy="2121.3" r="6.5"/><circle cx="1422.4" cy="2120.6" r="6.5"/><circle cx="1426.0" cy="2120.7" r="6.5"/><circle cx="1432.6" cy="2120.0" r="6.5"/><circle cx="1438.2" cy="2122.8" r="6.5"/><circle cx="1444.3" cy="2120.5" r="6.5"/><circle cx="1449.0" cy="2119.8" r="6.5"/><circle cx="1454.5" cy="2122.6" r="6.5"/><circle cx="1458.0" cy="2122.1" r="6.5"/><circle cx="1467.6" cy="2120.6" r="6.5"/><circle cx="1470.9" cy="2122.3" r="6.5"/><circle cx="1397.2" cy="2125.1" r="6.5"/><circle cx="1404.2" cy="2126.1" r="6.5"/><circle cx="1407.9" cy="2124.8" r="6.5"/><circle cx="1415.1" cy="2127.5" r="6.5"/><circle cx="1419.5" cy="2126.8" r="6.5"/><circle cx="1426.7" cy="2125.1" r="6.5"/><circle cx="1432.0" cy="2127.4" r="6.5"/><circle cx="1436.3" cy="2126.2" r="6.5"/><circle cx="1443.7" cy="2124.4" r="6.5"/><circle cx="1449.2" cy="2124.7" r="6.5"/><circle cx="1454.8" cy="2124.1" r="6.5"/><circle cx="1461.3" cy="2127.3" r="6.5"/><circle cx="1468.4" cy="2127.8" r="6.5"/><circle cx="1471.9" cy="2127.3" r="6.5"/><circle cx="1396.4" cy="2131.4" r="6.5"/><circle cx="1402.1" cy="2131.6" r="6.5"/><circle cx="1407.3" cy="2132.4" r="6.5"/><circle cx="1413.0" cy="2131.8" r="6.5"/><circle cx="1417.3" cy="2131.5" r="6.5"/><circle cx="1422.9" cy="2130.2" r="6.5"/><circle cx="1429.2" cy="2131.2" r="6.5"/><circle cx="1435.5" cy="2129.6" r="6.5"/><circle cx="1442.6" cy="2128.6" r="6.5"/><circle cx="1446.1" cy="2129.0" r="6.5"/><circle cx="1450.0" cy="2129.4" r="6.5"/><circle cx="1459.2" cy="2128.6" r="6.5"/><circle cx="1463.7" cy="2130.9" r="6.5"/><circle cx="1469.7" cy="2132.0" r="6.5"/><circle cx="1472.9" cy="2132.3" r="6.5"/><circle cx="1394.7" cy="2133.5" r="6.5"/><circle cx="1400.0" cy="2135.9" r="6.5"/><circle cx="1407.2" cy="2135.8" r="6.5"/><circle cx="1411.2" cy="2135.0" r="6.5"/><circle cx="1417.4" cy="2137.0" r="6.5"/><circle cx="1424.1" cy="2135.9" r="6.5"/><circle cx="1429.3" cy="2133.5" r="6.5"/><circle cx="1433.4" cy="2133.9" r="6.5"/><circle cx="1441.9" cy="2133.8" r="6.5"/><circle cx="1446.5" cy="2134.4" r="6.5"/><circle cx="1450.6" cy="2134.5" r="6.5"/><circle cx="1457.9" cy="2136.8" r="6.5"/><circle cx="1464.8" cy="2134.8" r="6.5"/><circle cx="1468.3" cy="2134.0" r="6.5"/><circle cx="1474.6" cy="2135.2" r="6.5"/><circle cx="1396.2" cy="2137.8" r="6.5"/><circle cx="1399.5" cy="2139.2" r="6.5"/><circle cx="1406.9" cy="2137.8" r="6.5"/><circle cx="1410.2" cy="2139.8" r="6.5"/><circle cx="1415.9" cy="2140.9" r="6.5"/><circle cx="1424.5" cy="2139.4" r="6.5"/><circle cx="1431.7" cy="2139.5" r="6.5"/><circle cx="1437.2" cy="2138.4" r="6.5"/><circle cx="1439.1" cy="2139.2" r="6.5"/><circle cx="1446.8" cy="2140.3" r="6.5"/><circle cx="1450.7" cy="2140.4" r="6.5"/><circle cx="1457.2" cy="2141.4" r="6.5"/><circle cx="1465.1" cy="2140.7" r="6.5"/><circle cx="1467.5" cy="2137.8" r="6.5"/><circle cx="1474.2" cy="2139.3" r="6.5"/><circle cx="1394.0" cy="2142.6" r="6.5"/><circle cx="1398.8" cy="2146.1" r="6.5"/><circle cx="1406.3" cy="2143.1" r="6.5"/><circle cx="1410.7" cy="2143.2" r="6.5"/><circle cx="1416.2" cy="2145.3" r="6.5"/><circle cx="1425.6" cy="2145.4" r="6.5"/><circle cx="1427.6" cy="2144.5" r="6.5"/><circle cx="1436.8" cy="2143.7" r="6.5"/><circle cx="1442.2" cy="2142.1" r="6.5"/><circle cx="1446.8" cy="2145.1" r="6.5"/><circle cx="1452.1" cy="2142.4" r="6.5"/><circle cx="1460.2" cy="2145.4" r="6.5"/><circle cx="1463.0" cy="2145.0" r="6.5"/><circle cx="1468.2" cy="2144.6" r="6.5"/><circle cx="1475.9" cy="2144.5" r="6.5"/><circle cx="1394.7" cy="2150.0" r="6.5"/><circle cx="1400.2" cy="2146.8" r="6.5"/><circle cx="1404.8" cy="2147.2" r="6.5"/><circle cx="1413.4" cy="2146.8" r="6.5"/><circle cx="1419.9" cy="2148.9" r="6.5"/><circle cx="1421.8" cy="2150.4" r="6.5"/><circle cx="1431.6" cy="2147.5" r="6.5"/><circle cx="1435.5" cy="2147.5" r="6.5"/><circle cx="1439.4" cy="2146.9" r="6.5"/><circle cx="1448.4" cy="2147.5" r="6.5"/><circle cx="1451.2" cy="2147.3" r="6.5"/><circle cx="1457.3" cy="2150.5" r="6.5"/><circle cx="1462.8" cy="2147.3" r="6.5"/><circle cx="1467.9" cy="2149.5" r="6.5"/><circle cx="1474.7" cy="2149.9" r="6.5"/><circle cx="1395.6" cy="2152.2" r="6.5"/><circle cx="1400.3" cy="2154.4" r="6.5"/><circle cx="1406.2" cy="2152.4" r="6.5"/><circle cx="1413.9" cy="2155.2" r="6.5"/><circle cx="1416.7" cy="2154.5" r="6.5"/><circle cx="1421.6" cy="2154.5" r="6.5"/><circle cx="1428.7" cy="2155.1" r="6.5"/><circle cx="1433.1" cy="2151.9" r="6.5"/><circle cx="1440.6" cy="2153.1" r="6.5"/><circle cx="1448.0" cy="2151.6" r="6.5"/><circle cx="1450.6" cy="2152.1" r="6.5"/><circle cx="1456.6" cy="2155.0" r="6.5"/><circle cx="1464.2" cy="2151.9" r="6.5"/><circle cx="1469.2" cy="2152.2" r="6.5"/><circle cx="1475.6" cy="2152.4" r="6.5"/><circle cx="1394.8" cy="2156.5" r="6.5"/><circle cx="1400.7" cy="2159.4" r="6.5"/><circle cx="1406.5" cy="2155.9" r="6.5"/><circle cx="1410.7" cy="2159.0" r="6.5"/><circle cx="1414.3" cy="2159.5" r="6.5"/><circle cx="1419.9" cy="2156.0" r="6.5"/><circle cx="1424.9" cy="2159.1" r="6.5"/><circle cx="1430.4" cy="2157.5" r="6.5"/><circle cx="1438.3" cy="2157.6" r="6.5"/><circle cx="1445.5" cy="2158.0" r="6.5"/><circle cx="1446.6" cy="2157.2" r="6.5"/><circle cx="1452.7" cy="2159.3" r="6.5"/><circle cx="1458.4" cy="2158.3" r="6.5"/><circle cx="1464.8" cy="2157.4" r="6.5"/><circle cx="1470.7" cy="2156.6" r="6.5"/><circle cx="1476.2" cy="2158.1" r="6.5"/><circle cx="1395.0" cy="2163.5" r="6.5"/><circle cx="1398.0" cy="2163.5" r="6.5"/><circle cx="1404.4" cy="2164.1" r="6.5"/><circle cx="1411.0" cy="2160.9" r="6.5"/><circle cx="1416.2" cy="2162.3" r="6.5"/><circle cx="1421.6" cy="2161.7" r="6.5"/><circle cx="1427.4" cy="2162.3" r="6.5"/><circle cx="1433.8" cy="2161.5" r="6.5"/><circle cx="1437.7" cy="2160.1" r="6.5"/><circle cx="1444.5" cy="2160.3" r="6.5"/><circle cx="1450.5" cy="2162.2" r="6.5"/><circle cx="1454.6" cy="2161.7" r="6.5"/><circle cx="1460.0" cy="2160.5" r="6.5"/><circle cx="1463.7" cy="2162.3" r="6.5"/><circle cx="1469.8" cy="2162.2" r="6.5"/><circle cx="1476.1" cy="2164.1" r="6.5"/><circle cx="1395.0" cy="2164.7" r="6.5"/><circle cx="1401.2" cy="2165.9" r="6.5"/><circle cx="1404.8" cy="2166.1" r="6.5"/><circle cx="1413.8" cy="2167.9" r="6.5"/><circle cx="1417.6" cy="2168.2" r="6.5"/><circle cx="1423.7" cy="2165.2" r="6.5"/><circle cx="1430.3" cy="2168.2" r="6.5"/><circle cx="1436.0" cy="2165.8" r="6.5"/><circle cx="1440.9" cy="2165.1" r="6.5"/><circle cx="1445.7" cy="2164.9" r="6.5"/><circle cx="1454.6" cy="2167.6" r="6.5"/><circle cx="1458.3" cy="2167.4" r="6.5"/><circle cx="1465.0" cy="2166.6" r="6.5"/><circle cx="1468.9" cy="2166.6" r="6.5"/><circle cx="1475.8" cy="2166.2" r="6.5"/><circle cx="1394.6" cy="2171.5" r="6.5"/><circle cx="1401.5" cy="2170.1" r="6.5"/><circle cx="1405.0" cy="2172.2" r="6.5"/><circle cx="1414.5" cy="2172.1" r="6.5"/><circle cx="1419.5" cy="2172.1" r="6.5"/><circle cx="1423.3" cy="2171.5" r="6.5"/><circle cx="1429.3" cy="2173.2" r="6.5"/><circle cx="1433.5" cy="2173.2" r="6.5"/><circle cx="1439.3" cy="2170.4" r="6.5"/><circle cx="1447.0" cy="2173.0" r="6.5"/><circle cx="1454.0" cy="2172.3" r="6.5"/><circle cx="1458.7" cy="2172.2" r="6.5"/><circle cx="1462.9" cy="2169.3" r="6.5"/><circle cx="1469.9" cy="2170.0" r="6.5"/><circle cx="1475.1" cy="2172.3" r="6.5"/><circle cx="1396.7" cy="2174.2" r="6.5"/><circle cx="1403.2" cy="2174.6" r="6.5"/><circle cx="1407.1" cy="2177.0" r="6.5"/><circle cx="1413.4" cy="2175.2" r="6.5"/><circle cx="1420.0" cy="2174.3" r="6.5"/><circle cx="1425.3" cy="2177.7" r="6.5"/><circle cx="1431.1" cy="2174.1" r="6.5"/><circle cx="1434.7" cy="2174.0" r="6.5"/><circle cx="1440.2" cy="2175.3" r="6.5"/><circle cx="1445.0" cy="2175.5" r="6.5"/><circle cx="1453.6" cy="2176.4" r="6.5"/><circle cx="1456.9" cy="2174.1" r="6.5"/><circle cx="1461.7" cy="2177.0" r="6.5"/><circle cx="1468.0" cy="2175.9" r="6.5"/><circle cx="1474.0" cy="2176.5" r="6.5"/><circle cx="1395.3" cy="2180.1" r="6.5"/><circle cx="1401.5" cy="2180.3" r="6.5"/><circle cx="1406.1" cy="2181.0" r="6.5"/><circle cx="1414.9" cy="2179.0" r="6.5"/><circle cx="1416.6" cy="2179.3" r="6.5"/><circle cx="1423.4" cy="2181.7" r="6.5"/><circle cx="1427.6" cy="2178.3" r="6.5"/><circle cx="1435.3" cy="2180.1" r="6.5"/><circle cx="1439.5" cy="2181.0" r="6.5"/><circle cx="1445.9" cy="2182.2" r="6.5"/><circle cx="1450.7" cy="2180.3" r="6.5"/><circle cx="1455.8" cy="2178.6" r="6.5"/><circle cx="1465.0" cy="2181.8" r="6.5"/><circle cx="1469.7" cy="2180.2" r="6.5"/><circle cx="1474.6" cy="2179.1" r="6.5"/><circle cx="1396.0" cy="2183.6" r="6.5"/><circle cx="1401.2" cy="2184.3" r="6.5"/><circle cx="1407.7" cy="2183.8" r="6.5"/><circle cx="1412.6" cy="2186.0" r="6.5"/><circle cx="1420.0" cy="2183.7" r="6.5"/><circle cx="1424.5" cy="2183.1" r="6.5"/><circle cx="1430.3" cy="2185.2" r="6.5"/><circle cx="1433.8" cy="2186.2" r="6.5"/><circle cx="1441.2" cy="2186.7" r="6.5"/><circle cx="1445.2" cy="2183.3" r="6.5"/><circle cx="1452.9" cy="2185.8" r="6.5"/><circle cx="1456.0" cy="2184.5" r="6.5"/><circle cx="1461.2" cy="2184.6" r="6.5"/><circle cx="1470.3" cy="2183.8" r="6.5"/><circle cx="1473.3" cy="2186.3" r="6.5"/><circle cx="1398.3" cy="2189.3" r="6.5"/><circle cx="1402.9" cy="2189.3" r="6.5"/><circle cx="1409.0" cy="2191.0" r="6.5"/><circle cx="1415.4" cy="2189.5" r="6.5"/><circle cx="1418.8" cy="2190.7" r="6.5"/><circle cx="1425.1" cy="2191.3" r="6.5"/><circle cx="1428.0" cy="2190.2" r="6.5"/><circle cx="1436.5" cy="2188.6" r="6.5"/><circle cx="1438.5" cy="2188.6" r="6.5"/><circle cx="1448.1" cy="2190.3" r="6.5"/><circle cx="1450.7" cy="2190.7" r="6.5"/><circle cx="1455.0" cy="2190.2" r="6.5"/><circle cx="1462.5" cy="2191.3" r="6.5"/><circle cx="1466.8" cy="2188.6" r="6.5"/><circle cx="1472.8" cy="2189.0" r="6.5"/><circle cx="1398.1" cy="2192.5" r="6.5"/><circle cx="1403.7" cy="2191.9" r="6.5"/><circle cx="1410.2" cy="2195.2" r="6.5"/><circle cx="1414.5" cy="2193.6" r="6.5"/><circle cx="1423.0" cy="2195.2" r="6.5"/><circle cx="1427.5" cy="2194.1" r="6.5"/><circle cx="1434.4" cy="2193.7" r="6.5"/><circle cx="1438.6" cy="2195.4" r="6.5"/><circle cx="1443.1" cy="2193.5" r="6.5"/><circle cx="1450.1" cy="2194.7" r="6.5"/><circle cx="1456.0" cy="2193.4" r="6.5"/><circle cx="1459.8" cy="2194.9" r="6.5"/><circle cx="1467.5" cy="2193.9" r="6.5"/><circle cx="1471.6" cy="2192.0" r="6.5"/><circle cx="1399.5" cy="2200.0" r="6.5"/><circle cx="1406.6" cy="2199.3" r="6.5"/><circle cx="1410.1" cy="2199.8" r="6.5"/><circle cx="1417.6" cy="2197.5" r="6.5"/><circle cx="1421.6" cy="2197.7" r="6.5"/><circle cx="1425.6" cy="2198.2" r="6.5"/><circle cx="1431.2" cy="2200.1" r="6.5"/><circle cx="1440.1" cy="2197.3" r="6.5"/><circle cx="1442.0" cy="2197.0" r="6.5"/><circle cx="1450.8" cy="2197.6" r="6.5"/><circle cx="1455.9" cy="2200.3" r="6.5"/><circle cx="1459.3" cy="2199.7" r="6.5"/><circle cx="1463.7" cy="2196.4" r="6.5"/><circle cx="1471.3" cy="2197.5" r="6.5"/><circle cx="1400.1" cy="2202.8" r="6.5"/><circle cx="1407.8" cy="2202.6" r="6.5"/><circle cx="1412.4" cy="2203.9" r="6.5"/><circle cx="1416.2" cy="2202.8" r="6.5"/><circle cx="1421.7" cy="2201.6" r="6.5"/><circle cx="1427.8" cy="2201.5" r="6.5"/><circle cx="1437.1" cy="2200.8" r="6.5"/><circle cx="1440.9" cy="2201.1" r="6.5"/><circle cx="1444.5" cy="2204.6" r="6.5"/><circle cx="1452.5" cy="2204.3" r="6.5"/><circle cx="1458.8" cy="2203.1" r="6.5"/><circle cx="1465.1" cy="2200.8" r="6.5"/><circle cx="1469.0" cy="2203.5" r="6.5"/><circle cx="1403.1" cy="2206.0" r="6.5"/><circle cx="1407.1" cy="2208.1" r="6.5"/><circle cx="1413.4" cy="2208.3" r="6.5"/><circle cx="1416.6" cy="2206.3" r="6.5"/><circle cx="1424.9" cy="2208.3" r="6.5"/><circle cx="1430.4" cy="2208.6" r="6.5"/><circle cx="1436.5" cy="2205.3" r="6.5"/><circle cx="1439.9" cy="2205.6" r="6.5"/><circle cx="1444.6" cy="2208.3" r="6.5"/><circle cx="1451.3" cy="2208.9" r="6.5"/><circle cx="1455.3" cy="2207.1" r="6.5"/><circle cx="1465.0" cy="2206.8" r="6.5"/><circle cx="1468.8" cy="2208.8" r="6.5"/><circle cx="1403.9" cy="2211.1" r="6.5"/><circle cx="1408.8" cy="2213.0" r="6.5"/><circle cx="1415.0" cy="2211.5" r="6.5"/><circle cx="1422.6" cy="2210.8" r="6.5"/><circle cx="1427.3" cy="2211.2" r="6.5"/><circle cx="1432.8" cy="2212.9" r="6.5"/><circle cx="1439.8" cy="2213.1" r="6.5"/><circle cx="1443.9" cy="2212.2" r="6.5"/><circle cx="1450.6" cy="2212.9" r="6.5"/><circle cx="1457.4" cy="2209.8" r="6.5"/><circle cx="1459.2" cy="2213.7" r="6.5"/><circle cx="1467.5" cy="2210.2" r="6.5"/><circle cx="1404.1" cy="2214.9" r="6.5"/><circle cx="1409.3" cy="2214.9" r="6.5"/><circle cx="1416.7" cy="2214.9" r="6.5"/><circle cx="1421.1" cy="2214.5" r="6.5"/><circle cx="1426.4" cy="2215.4" r="6.5"/><circle cx="1432.6" cy="2215.4" r="6.5"/><circle cx="1436.7" cy="2215.7" r="6.5"/><circle cx="1445.5" cy="2218.4" r="6.5"/><circle cx="1447.6" cy="2217.3" r="6.5"/><circle cx="1452.8" cy="2215.6" r="6.5"/><circle cx="1461.5" cy="2217.3" r="6.5"/><circle cx="1466.3" cy="2216.3" r="6.5"/><circle cx="1405.7" cy="2219.0" r="6.5"/><circle cx="1412.4" cy="2221.4" r="6.5"/><circle cx="1417.0" cy="2219.4" r="6.5"/><circle cx="1422.4" cy="2222.1" r="6.5"/><circle cx="1427.5" cy="2221.3" r="6.5"/><circle cx="1436.4" cy="2221.9" r="6.5"/><circle cx="1440.5" cy="2221.6" r="6.5"/><circle cx="1445.7" cy="2219.9" r="6.5"/><circle cx="1453.4" cy="2219.3" r="6.5"/><circle cx="1458.7" cy="2221.6" r="6.5"/><circle cx="1463.5" cy="2219.0" r="6.5"/><circle cx="1407.9" cy="2226.6" r="6.5"/><circle cx="1414.8" cy="2223.8" r="6.5"/><circle cx="1419.9" cy="2225.7" r="6.5"/><circle cx="1424.2" cy="2224.1" r="6.5"/><circle cx="1429.0" cy="2224.1" r="6.5"/><circle cx="1433.1" cy="2226.2" r="6.5"/><circle cx="1439.0" cy="2223.7" r="6.5"/><circle cx="1447.7" cy="2226.7" r="6.5"/><circle cx="1450.3" cy="2225.1" r="6.5"/><circle cx="1456.1" cy="2224.7" r="6.5"/><circle cx="1463.1" cy="2224.5" r="6.5"/><circle cx="1408.1" cy="2229.7" r="6.5"/><circle cx="1414.8" cy="2228.7" r="6.5"/><circle cx="1417.7" cy="2229.7" r="6.5"/><circle cx="1423.6" cy="2228.8" r="6.5"/><circle cx="1428.3" cy="2231.2" r="6.5"/><circle cx="1436.5" cy="2228.3" r="6.5"/><circle cx="1441.2" cy="2229.7" r="6.5"/><circle cx="1444.0" cy="2228.1" r="6.5"/><circle cx="1453.4" cy="2228.3" r="6.5"/><circle cx="1456.6" cy="2230.7" r="6.5"/><circle cx="1462.5" cy="2230.8" r="6.5"/><circle cx="1409.4" cy="2233.9" r="6.5"/><circle cx="1414.2" cy="2235.3" r="6.5"/><circle cx="1422.7" cy="2233.3" r="6.5"/><circle cx="1427.3" cy="2233.4" r="6.5"/><circle cx="1431.9" cy="2233.1" r="6.5"/><circle cx="1437.2" cy="2233.0" r="6.5"/><circle cx="1441.3" cy="2234.0" r="6.5"/><circle cx="1450.4" cy="2234.9" r="6.5"/><circle cx="1455.2" cy="2234.3" r="6.5"/><circle cx="1459.3" cy="2233.4" r="6.5"/><circle cx="1412.3" cy="2239.4" r="6.5"/><circle cx="1417.2" cy="2239.6" r="6.5"/><circle cx="1422.1" cy="2239.9" r="6.5"/><circle cx="1428.6" cy="2237.5" r="6.5"/><circle cx="1435.0" cy="2237.8" r="6.5"/><circle cx="1442.0" cy="2239.6" r="6.5"/><circle cx="1446.0" cy="2239.1" r="6.5"/><circle cx="1452.9" cy="2239.6" r="6.5"/><circle cx="1457.1" cy="2239.2" r="6.5"/><circle cx="1415.8" cy="2244.0" r="6.5"/><circle cx="1422.8" cy="2244.6" r="6.5"/><circle cx="1428.9" cy="2241.5" r="6.5"/><circle cx="1430.6" cy="2241.9" r="6.5"/><circle cx="1439.9" cy="2242.9" r="6.5"/><circle cx="1443.4" cy="2243.2" r="6.5"/><circle cx="1448.8" cy="2244.2" r="6.5"/><circle cx="1454.7" cy="2242.2" r="6.5"/><circle cx="1418.6" cy="2249.4" r="6.5"/><circle cx="1424.0" cy="2247.8" r="6.5"/><circle cx="1428.8" cy="2247.6" r="6.5"/><circle cx="1434.7" cy="2246.7" r="6.5"/><circle cx="1441.2" cy="2246.2" r="6.5"/><circle cx="1445.1" cy="2246.0" r="6.5"/><circle cx="1452.4" cy="2247.7" r="6.5"/><circle cx="1420.8" cy="2254.0" r="6.5"/><circle cx="1427.8" cy="2251.4" r="6.5"/><circle cx="1433.0" cy="2251.6" r="6.5"/><circle cx="1437.4" cy="2250.8" r="6.5"/><circle cx="1443.7" cy="2253.1" r="6.5"/><circle cx="1448.8" cy="2251.9" r="6.5"/><circle cx="1423.0" cy="2257.8" r="6.5"/><circle cx="1431.2" cy="2258.5" r="6.5"/><circle cx="1436.4" cy="2258.2" r="6.5"/><circle cx="1440.6" cy="2256.2" r="6.5"/><circle cx="1447.7" cy="2259.0" r="6.5"/>
</g>
<rect x="961.80" y="1629.80" width="94.60" height="6.60" fill="#000"/>
<rect x="1006.90" y="1560.40" width="4.40" height="145.50" fill="#000"/>
<rect x="985.80" y="1558.20" width="46.60" height="4.40" fill="#000"/>
<rect x="985.80" y="1703.70" width="46.60" height="4.40" fill="#000"/>
<rect x="1103.60" y="1667.50" width="94.60" height="6.60" fill="#9c1c20"/>
<rect x="1148.70" y="1608.80" width="4.40" height="124.40" fill="#9c1c20"/>
<rect x="1127.60" y="1606.60" width="46.60" height="4.40" fill="#9c1c20"/>
<rect x="1127.60" y="1731.00" width="46.60" height="4.40" fill="#9c1c20"/>
<rect x="1245.90" y="1629.80" width="94.60" height="6.60" fill="#000"/>
<rect x="1291.00" y="1561.90" width="4.40" height="142.70" fill="#000"/>
<rect x="1269.90" y="1559.70" width="46.60" height="4.40" fill="#000"/>
<rect x="1269.90" y="1702.40" width="46.60" height="4.40" fill="#000"/>
<rect x="1387.90" y="1642.70" width="94.60" height="6.60" fill="#9c1c20"/>
<rect x="1433.00" y="1573.70" width="4.40" height="145.10" fill="#9c1c20"/>
<rect x="1411.90" y="1571.50" width="46.60" height="4.40" fill="#9c1c20"/>
<rect x="1411.90" y="1716.60" width="46.60" height="4.40" fill="#9c1c20"/>
<path d="M1009.1 1339.4V1325.2H1150.7V1339.4" fill="none" stroke="#000" stroke-width="1.8"/>
<path d="M1292.5 1339.4V1325.2H1433.7V1339.4" fill="none" stroke="#000" stroke-width="1.8"/>
<text x="1080" y="1329" font-size="33" text-anchor="middle">***</text>
<text x="1363.1" y="1329" font-size="33" text-anchor="middle">**</text>
<line x1="1015.3" y1="1798.2" x2="1150.2" y2="1798.2" stroke="#000" stroke-width="1.4"/>
<line x1="1296" y1="1798.2" x2="1430.5" y2="1798.2" stroke="#000" stroke-width="1.4"/>
<text x="1080.8" y="1841" font-size="35.6" text-anchor="middle">shRNA.1</text>
<text x="1361.8" y="1841" font-size="35.6" text-anchor="middle">shRNA.2</text>
<circle cx="1543.2" cy="1318" r="14.3" fill="#4b4b4b"/>
<circle cx="1543.2" cy="1368.2" r="14.3" fill="#f05f65"/>
<text x="1566.3" y="1328.7" font-size="36" text-anchor="start">no DOX</text>
<text x="1566.3" y="1381.9" font-size="36" text-anchor="start">DOX</text>
<defs>
<filter id="nbg" x="-10%" y="-10%" width="120%" height="120%" color-interpolation-filters="sRGB"><feOffset in="SourceGraphic" dx="0" dy="0" result="s"/><feTurbulence type="fractalNoise" baseFrequency="0.83 0.77" numOctaves="3" seed="4" result="t"/><feColorMatrix in="t" type="matrix" values="2.0 0 0 0 -0.5  2.0 0 0 0 -0.5  2.0 0 0 0 -0.5  0 0 0 0 1" result="n"/><feComposite in="s" in2="n" operator="arithmetic" k1="0" k2="1" k3="0.075" k4="-0.0375" result="o"/></filter>
<filter id="nbgE" x="-10%" y="-10%" width="120%" height="120%" color-interpolation-filters="sRGB"><feOffset in="SourceGraphic" dx="0" dy="0" result="s"/><feTurbulence type="fractalNoise" baseFrequency="0.47 0.43" numOctaves="3" seed="8" result="t"/><feColorMatrix in="t" type="matrix" values="2.2 0 0 0 -0.6000000000000001  2.2 0 0 0 -0.6000000000000001  2.2 0 0 0 -0.6000000000000001  0 0 0 0 1" result="n"/><feComposite in="s" in2="n" operator="arithmetic" k1="0" k2="1" k3="0.11" k4="-0.055" result="o"/></filter>
<filter id="ncell" x="-10%" y="-10%" width="120%" height="120%" color-interpolation-filters="sRGB"><feGaussianBlur in="SourceGraphic" stdDeviation="0.7" result="s"/><feTurbulence type="fractalNoise" baseFrequency="0.43 0.39" numOctaves="3" seed="9" result="t"/><feColorMatrix in="t" type="matrix" values="2.4 0 0 0 -0.7  2.4 0 0 0 -0.7  2.4 0 0 0 -0.7  0 0 0 0 1" result="n"/><feComposite in="s" in2="n" operator="arithmetic" k1="0" k2="1" k3="0.26" k4="-0.13" result="o"/><feComposite in="o" in2="s" operator="in"/></filter>
<filter id="ncell2" x="-10%" y="-10%" width="120%" height="120%" color-interpolation-filters="sRGB"><feGaussianBlur in="SourceGraphic" stdDeviation="0.8" result="s"/><feTurbulence type="fractalNoise" baseFrequency="0.37 0.41" numOctaves="3" seed="21" result="t"/><feColorMatrix in="t" type="matrix" values="2.4 0 0 0 -0.7  2.4 0 0 0 -0.7  2.4 0 0 0 -0.7  0 0 0 0 1" result="n"/><feComposite in="s" in2="n" operator="arithmetic" k1="0" k2="1" k3="0.32" k4="-0.16" result="o"/><feComposite in="o" in2="s" operator="in"/></filter>
<filter id="nfine" x="-10%" y="-10%" width="120%" height="120%" color-interpolation-filters="sRGB"><feGaussianBlur in="SourceGraphic" stdDeviation="0.7" result="s"/><feTurbulence type="fractalNoise" baseFrequency="0.47 0.53" numOctaves="3" seed="15" result="t"/><feColorMatrix in="t" type="matrix" values="2.6 0 0 0 -0.8  2.6 0 0 0 -0.8  2.6 0 0 0 -0.8  0 0 0 0 1" result="n"/><feComposite in="s" in2="n" operator="arithmetic" k1="0" k2="1" k3="0.17" k4="-0.085" result="o"/><feComposite in="o" in2="s" operator="in"/></filter>
<filter id="ncoarse" x="-10%" y="-10%" width="120%" height="120%" color-interpolation-filters="sRGB"><feGaussianBlur in="SourceGraphic" stdDeviation="0.7" result="s"/><feTurbulence type="fractalNoise" baseFrequency="0.27 0.31" numOctaves="3" seed="33" result="t"/><feColorMatrix in="t" type="matrix" values="2.3 0 0 0 -0.6499999999999999  2.3 0 0 0 -0.6499999999999999  2.3 0 0 0 -0.6499999999999999  0 0 0 0 1" result="n"/><feComposite in="s" in2="n" operator="arithmetic" k1="0" k2="1" k3="0.62" k4="-0.31" result="o"/><feComposite in="o" in2="s" operator="in"/></filter>
<filter id="nsoft" x="-10%" y="-10%" width="120%" height="120%" color-interpolation-filters="sRGB"><feGaussianBlur in="SourceGraphic" stdDeviation="0.9" result="s"/><feTurbulence type="fractalNoise" baseFrequency="0.29 0.33" numOctaves="3" seed="5" result="t"/><feColorMatrix in="t" type="matrix" values="2.4 0 0 0 -0.7  2.4 0 0 0 -0.7  2.4 0 0 0 -0.7  0 0 0 0 1" result="n"/><feComposite in="s" in2="n" operator="arithmetic" k1="0" k2="1" k3="0.16" k4="-0.08" result="o"/><feComposite in="o" in2="s" operator="in"/></filter>
<filter id="b1" x="-20%" y="-20%" width="140%" height="140%"><feGaussianBlur stdDeviation="1"/></filter>
<filter id="b2" x="-20%" y="-20%" width="140%" height="140%"><feGaussianBlur stdDeviation="2"/></filter>
<filter id="b4" x="-30%" y="-30%" width="160%" height="160%"><feGaussianBlur stdDeviation="4"/></filter>
<filter id="b10" x="-50%" y="-50%" width="200%" height="200%"><feGaussianBlur stdDeviation="10"/></filter>
<filter id="b25" x="-80%" y="-80%" width="260%" height="260%"><feGaussianBlur stdDeviation="25"/></filter>
</defs>
<clipPath id="cpB1"><rect x="813.92" y="133.92" width="284.81" height="284.43"/></clipPath>
<g clip-path="url(#cpB1)">
<rect x="813.92" y="133.92" width="284.81" height="284.43" fill="#797979" filter="url(#nbg)"/>
<ellipse cx="862.0" cy="390.8" rx="94.9" ry="41.8" fill="#6a6a6a" opacity="0.5" filter="url(#b25)"/>
<ellipse cx="1042.3" cy="172.5" rx="94.9" ry="47.5" fill="#808080" opacity="0.3" filter="url(#b25)"/>
<ellipse cx="1074.6" cy="324.4" rx="17.1" ry="20.9" fill="#8e8e8e" opacity="0.35" filter="url(#b4)"/>
<path d="M880.9 187.7C881.6 184.5 890.1 181.0 894.2 180.1C898.4 179.1 901.5 180.4 905.6 182.0C909.7 183.5 914.8 189.9 918.9 189.6C923.0 189.2 926.5 181.3 930.3 180.1C934.1 178.8 937.6 181.3 941.7 182.0C945.8 182.6 952.2 181.6 955.0 183.9C957.8 186.1 959.1 191.1 958.8 195.3C958.5 199.4 954.2 204.1 953.1 208.5C952.0 213.0 951.4 219.5 952.2 221.8C952.9 224.2 956.1 226.3 957.8 222.8C959.6 219.3 959.6 205.9 962.6 200.9C965.6 196.0 971.8 194.9 975.9 193.4C980.0 191.8 984.7 190.2 987.3 191.5C989.8 192.7 991.1 196.2 991.1 200.9C991.1 205.7 988.2 214.2 987.3 219.9C986.3 225.6 987.3 232.0 985.4 235.1C983.5 238.3 980.6 239.6 975.9 238.9C971.1 238.3 963.2 233.2 956.9 231.3C950.6 229.4 943.6 228.8 937.9 227.5C932.2 226.3 927.2 222.8 922.7 223.7C918.3 224.7 914.0 232.9 911.3 233.2C908.6 233.5 908.5 229.4 906.6 225.6C904.7 221.8 902.6 214.9 899.9 210.4C897.2 206.0 893.6 202.8 890.4 199.1C887.3 195.3 880.3 190.8 880.9 187.7Z" fill="#b4b4b4" stroke="#b4b4b4" stroke-width="3.4" stroke-linejoin="round" opacity="0.9" filter="url(#b1)"/>
<path d="M996.8 248.4C1000.4 245.9 1008.5 244.0 1013.9 244.6C1019.2 245.3 1025.9 249.7 1029.0 252.2C1032.2 254.7 1033.8 257.3 1032.8 259.8C1031.9 262.3 1026.5 265.8 1023.4 267.4C1020.2 269.0 1016.1 266.8 1013.9 269.3C1011.6 271.8 1010.1 278.2 1010.1 282.6C1010.1 287.0 1011.6 291.8 1013.9 295.9C1016.1 300.0 1017.7 305.4 1023.4 307.3C1029.0 309.2 1043.3 306.0 1048.0 307.3C1052.8 308.5 1051.5 312.0 1051.8 314.9C1052.2 317.7 1053.1 322.5 1049.9 324.4C1046.8 326.3 1037.3 324.7 1032.8 326.3C1028.4 327.8 1026.5 333.2 1023.4 333.9C1020.2 334.5 1017.3 331.3 1013.9 330.1C1010.4 328.8 1004.4 332.0 1002.5 326.3C1000.6 320.6 1003.1 304.1 1002.5 295.9C1001.8 287.7 1000.4 282.9 998.7 276.9C996.9 270.9 992.3 264.6 992.0 259.8C991.7 255.1 993.1 250.9 996.8 248.4Z" fill="#b4b4b4" stroke="#b4b4b4" stroke-width="3.4" stroke-linejoin="round" opacity="0.9" filter="url(#b1)"/>
<path d="M886.6 339.6C884.0 340.0 878.4 341.1 875.3 345.3C872.1 349.4 868.3 359.8 867.7 364.2C867.0 368.7 868.3 371.2 871.5 371.8C874.6 372.5 882.8 369.9 886.6 368.0C890.4 366.1 891.4 361.4 894.2 360.4C897.1 359.5 901.8 358.9 903.7 362.3C905.6 365.8 904.1 377.5 905.6 381.3C907.2 385.1 911.0 386.7 913.2 385.1C915.4 383.5 917.3 375.6 918.9 371.8C920.5 368.0 919.6 364.2 922.7 362.3C925.9 360.4 932.2 361.1 937.9 360.4C943.6 359.8 952.8 356.6 956.9 358.5C961.0 360.4 960.7 368.4 962.6 371.8C964.5 375.3 966.1 377.2 968.3 379.4C970.5 381.6 974.0 386.4 975.9 385.1C977.8 383.9 977.8 374.4 979.7 371.8C981.6 369.3 984.7 369.6 987.3 369.9C989.8 370.3 992.0 372.2 994.9 373.7C997.7 375.3 1001.8 380.1 1004.4 379.4C1006.9 378.8 1008.5 373.1 1010.1 369.9C1011.6 366.8 1011.6 362.3 1013.9 360.4C1016.1 358.5 1022.4 360.8 1023.4 358.5C1024.3 356.3 1021.1 350.6 1019.6 347.2C1018.0 343.7 1018.0 338.9 1013.9 337.7C1009.7 336.4 999.6 339.2 994.9 339.6C990.1 339.9 989.2 338.3 985.4 339.6C981.6 340.8 977.5 344.9 972.1 347.2C966.7 349.4 959.4 351.3 953.1 352.8C946.8 354.4 940.4 356.3 934.1 356.6C927.8 357.0 920.8 355.7 915.1 354.7C909.4 353.8 903.9 353.0 899.9 350.9C896.0 348.9 893.6 344.3 891.4 342.4C889.2 340.5 889.3 339.1 886.6 339.6Z" fill="#b4b4b4" stroke="#b4b4b4" stroke-width="3.4" stroke-linejoin="round" opacity="0.9" filter="url(#b1)"/>
<path d="M886.6 286.4C885.2 283.2 881.3 285.8 877.2 286.4C873.0 287.0 867.7 290.8 862.0 290.2C856.3 289.6 848.0 284.2 843.0 282.6C837.9 281.0 833.5 279.7 831.6 280.7C829.7 281.6 829.7 285.8 831.6 288.3C833.5 290.8 842.0 294.0 843.0 295.9C843.9 297.8 837.3 297.8 837.3 299.7C837.3 301.6 839.5 306.0 843.0 307.3C846.5 308.5 855.0 306.0 858.2 307.3C861.3 308.5 861.6 312.0 862.0 314.9C862.3 317.7 860.7 321.5 860.1 324.4C859.4 327.2 856.9 330.4 858.2 332.0C859.4 333.5 863.9 334.2 867.7 333.9C871.5 333.5 877.6 331.6 880.9 330.1C884.3 328.5 886.8 328.5 887.6 324.4C888.4 320.3 885.9 311.7 885.7 305.4C885.5 299.0 888.1 289.6 886.6 286.4Z" fill="#b4b4b4" stroke="#b4b4b4" stroke-width="3.4" stroke-linejoin="round" opacity="0.9" filter="url(#b1)"/>
<path d="M879.1 257.9C880.0 256.0 884.0 254.1 886.6 254.1C889.3 254.1 894.7 254.9 895.2 257.9C895.7 260.9 891.9 270.9 889.5 272.2C887.1 273.4 882.7 267.9 880.9 265.5C879.2 263.1 878.1 259.8 879.1 257.9Z" fill="#b4b4b4" stroke="#b4b4b4" stroke-width="3.4" stroke-linejoin="round" opacity="0.9" filter="url(#b1)"/>
<path d="M880.9 187.7C881.6 184.5 890.1 181.0 894.2 180.1C898.4 179.1 901.5 180.4 905.6 182.0C909.7 183.5 914.8 189.9 918.9 189.6C923.0 189.2 926.5 181.3 930.3 180.1C934.1 178.8 937.6 181.3 941.7 182.0C945.8 182.6 952.2 181.6 955.0 183.9C957.8 186.1 959.1 191.1 958.8 195.3C958.5 199.4 954.2 204.1 953.1 208.5C952.0 213.0 951.4 219.5 952.2 221.8C952.9 224.2 956.1 226.3 957.8 222.8C959.6 219.3 959.6 205.9 962.6 200.9C965.6 196.0 971.8 194.9 975.9 193.4C980.0 191.8 984.7 190.2 987.3 191.5C989.8 192.7 991.1 196.2 991.1 200.9C991.1 205.7 988.2 214.2 987.3 219.9C986.3 225.6 987.3 232.0 985.4 235.1C983.5 238.3 980.6 239.6 975.9 238.9C971.1 238.3 963.2 233.2 956.9 231.3C950.6 229.4 943.6 228.8 937.9 227.5C932.2 226.3 927.2 222.8 922.7 223.7C918.3 224.7 914.0 232.9 911.3 233.2C908.6 233.5 908.5 229.4 906.6 225.6C904.7 221.8 902.6 214.9 899.9 210.4C897.2 206.0 893.6 202.8 890.4 199.1C887.3 195.3 880.3 190.8 880.9 187.7Z" fill="#5c5c5c" filter="url(#ncell2)"/>
<path d="M996.8 248.4C1000.4 245.9 1008.5 244.0 1013.9 244.6C1019.2 245.3 1025.9 249.7 1029.0 252.2C1032.2 254.7 1033.8 257.3 1032.8 259.8C1031.9 262.3 1026.5 265.8 1023.4 267.4C1020.2 269.0 1016.1 266.8 1013.9 269.3C1011.6 271.8 1010.1 278.2 1010.1 282.6C1010.1 287.0 1011.6 291.8 1013.9 295.9C1016.1 300.0 1017.7 305.4 1023.4 307.3C1029.0 309.2 1043.3 306.0 1048.0 307.3C1052.8 308.5 1051.5 312.0 1051.8 314.9C1052.2 317.7 1053.1 322.5 1049.9 324.4C1046.8 326.3 1037.3 324.7 1032.8 326.3C1028.4 327.8 1026.5 333.2 1023.4 333.9C1020.2 334.5 1017.3 331.3 1013.9 330.1C1010.4 328.8 1004.4 332.0 1002.5 326.3C1000.6 320.6 1003.1 304.1 1002.5 295.9C1001.8 287.7 1000.4 282.9 998.7 276.9C996.9 270.9 992.3 264.6 992.0 259.8C991.7 255.1 993.1 250.9 996.8 248.4Z" fill="#6c6c6c" filter="url(#ncell2)"/>
<path d="M886.6 339.6C884.0 340.0 878.4 341.1 875.3 345.3C872.1 349.4 868.3 359.8 867.7 364.2C867.0 368.7 868.3 371.2 871.5 371.8C874.6 372.5 882.8 369.9 886.6 368.0C890.4 366.1 891.4 361.4 894.2 360.4C897.1 359.5 901.8 358.9 903.7 362.3C905.6 365.8 904.1 377.5 905.6 381.3C907.2 385.1 911.0 386.7 913.2 385.1C915.4 383.5 917.3 375.6 918.9 371.8C920.5 368.0 919.6 364.2 922.7 362.3C925.9 360.4 932.2 361.1 937.9 360.4C943.6 359.8 952.8 356.6 956.9 358.5C961.0 360.4 960.7 368.4 962.6 371.8C964.5 375.3 966.1 377.2 968.3 379.4C970.5 381.6 974.0 386.4 975.9 385.1C977.8 383.9 977.8 374.4 979.7 371.8C981.6 369.3 984.7 369.6 987.3 369.9C989.8 370.3 992.0 372.2 994.9 373.7C997.7 375.3 1001.8 380.1 1004.4 379.4C1006.9 378.8 1008.5 373.1 1010.1 369.9C1011.6 366.8 1011.6 362.3 1013.9 360.4C1016.1 358.5 1022.4 360.8 1023.4 358.5C1024.3 356.3 1021.1 350.6 1019.6 347.2C1018.0 343.7 1018.0 338.9 1013.9 337.7C1009.7 336.4 999.6 339.2 994.9 339.6C990.1 339.9 989.2 338.3 985.4 339.6C981.6 340.8 977.5 344.9 972.1 347.2C966.7 349.4 959.4 351.3 953.1 352.8C946.8 354.4 940.4 356.3 934.1 356.6C927.8 357.0 920.8 355.7 915.1 354.7C909.4 353.8 903.9 353.0 899.9 350.9C896.0 348.9 893.6 344.3 891.4 342.4C889.2 340.5 889.3 339.1 886.6 339.6Z" fill="#6c6c6c" filter="url(#ncell2)"/>
<path d="M886.6 286.4C885.2 283.2 881.3 285.8 877.2 286.4C873.0 287.0 867.7 290.8 862.0 290.2C856.3 289.6 848.0 284.2 843.0 282.6C837.9 281.0 833.5 279.7 831.6 280.7C829.7 281.6 829.7 285.8 831.6 288.3C833.5 290.8 842.0 294.0 843.0 295.9C843.9 297.8 837.3 297.8 837.3 299.7C837.3 301.6 839.5 306.0 843.0 307.3C846.5 308.5 855.0 306.0 858.2 307.3C861.3 308.5 861.6 312.0 862.0 314.9C862.3 317.7 860.7 321.5 860.1 324.4C859.4 327.2 856.9 330.4 858.2 332.0C859.4 333.5 863.9 334.2 867.7 333.9C871.5 333.5 877.6 331.6 880.9 330.1C884.3 328.5 886.8 328.5 887.6 324.4C888.4 320.3 885.9 311.7 885.7 305.4C885.5 299.0 888.1 289.6 886.6 286.4Z" fill="#6c6c6c" filter="url(#ncell2)"/>
<path d="M879.1 257.9C880.0 256.0 884.0 254.1 886.6 254.1C889.3 254.1 894.7 254.9 895.2 257.9C895.7 260.9 891.9 270.9 889.5 272.2C887.1 273.4 882.7 267.9 880.9 265.5C879.2 263.1 878.1 259.8 879.1 257.9Z" fill="#6c6c6c" filter="url(#ncell2)"/>
<radialGradient id="gB1" gradientUnits="userSpaceOnUse" cx="945.5" cy="295.9" r="72.2"><stop offset="0" stop-color="#484848"/><stop offset="0.6" stop-color="#505050"/><stop offset="1" stop-color="#626262"/></radialGradient>
<path d="M908.5 234.2C911.0 232.1 917.8 226.4 922.7 224.7C927.6 222.9 932.5 223.4 937.9 223.7C943.3 224.1 949.0 225.3 955.0 226.6C961.0 227.8 968.9 228.6 974.0 231.3C979.0 234.0 982.2 238.3 985.4 242.7C988.5 247.2 990.4 252.2 993.0 257.9C995.5 263.6 998.7 270.6 1000.6 276.9C1002.5 283.2 1004.0 289.6 1004.4 295.9C1004.7 302.2 1003.7 309.2 1002.5 314.9C1001.2 320.6 999.6 325.6 996.8 330.1C993.9 334.5 989.5 338.3 985.4 341.5C981.3 344.6 977.5 346.8 972.1 349.0C966.7 351.3 959.4 353.2 953.1 354.7C946.8 356.3 940.4 358.2 934.1 358.5C927.8 358.9 920.8 357.6 915.1 356.6C909.4 355.7 904.1 355.1 899.9 352.8C895.8 350.6 892.7 348.1 890.4 343.4C888.2 338.6 887.6 330.7 886.6 324.4C885.7 318.0 885.1 311.7 884.7 305.4C884.4 299.0 884.1 292.1 884.7 286.4C885.4 280.7 887.0 275.9 888.5 271.2C890.1 266.5 892.0 262.0 894.2 257.9C896.5 253.8 899.6 250.0 901.8 246.5C904.1 243.0 906.4 239.1 907.5 237.0C908.6 235.0 905.9 236.2 908.5 234.2Z" fill="url(#gB1)" filter="url(#nfine)"/>
</g>
<rect x="815.02" y="135.02" width="282.61" height="282.23" fill="none" stroke="#1a1a1a" stroke-width="2.2"/>
<rect x="1041.01" y="398.99" width="43.10" height="3.61" fill="#fff"/>
<clipPath id="cpB2"><rect x="1110.44" y="133.92" width="284.43" height="284.43"/></clipPath>
<g clip-path="url(#cpB2)">
<rect x="1110.44" y="133.92" width="284.43" height="284.43" fill="#7f7f7f" filter="url(#nbg)"/>
<ellipse cx="1147.5" cy="381.3" rx="94.9" ry="57.0" fill="#727272" opacity="0.55" filter="url(#b25)"/>
<ellipse cx="1365.8" cy="381.3" rx="57.0" ry="47.5" fill="#787878" opacity="0.4" filter="url(#b25)"/>
<path d="M1202.5 335.8C1203.8 333.9 1210.4 331.6 1213.9 330.1C1217.4 328.5 1220.3 325.9 1223.4 326.3C1226.6 326.6 1229.4 330.1 1232.9 332.0C1236.4 333.9 1239.6 335.1 1244.3 337.7C1249.0 340.2 1256.3 344.8 1261.4 347.2C1266.5 349.5 1273.7 350.3 1274.7 351.9C1275.6 353.5 1270.9 354.9 1267.1 356.6C1263.3 358.4 1255.7 361.1 1251.9 362.3C1248.1 363.6 1246.2 365.8 1244.3 364.2C1242.4 362.7 1241.8 356.3 1240.5 352.8C1239.2 349.4 1238.6 344.6 1236.7 343.4C1234.8 342.1 1231.3 343.4 1229.1 345.3C1226.9 347.2 1225.3 353.5 1223.4 354.7C1221.5 356.0 1219.0 354.7 1217.7 352.8C1216.5 350.9 1217.7 345.3 1215.8 343.4C1213.9 341.5 1208.5 342.7 1206.3 341.5C1204.1 340.2 1201.3 337.7 1202.5 335.8Z" fill="#bcbcbc" stroke="#bcbcbc" stroke-width="3.4" stroke-linejoin="round" opacity="0.9" filter="url(#b1)"/>
<path d="M1327.8 326.3C1329.7 322.5 1333.9 313.9 1337.3 311.1C1340.8 308.2 1345.9 308.2 1348.7 309.2C1351.6 310.1 1354.1 313.9 1354.4 316.8C1354.7 319.6 1350.5 323.4 1350.6 326.3C1350.8 329.1 1355.1 330.4 1355.4 333.9C1355.7 337.3 1354.0 343.7 1352.5 347.2C1351.1 350.6 1349.0 354.1 1346.8 354.7C1344.6 355.4 1341.1 353.5 1339.2 350.9C1337.3 348.4 1337.7 342.4 1335.4 339.6C1333.2 336.7 1327.2 336.1 1325.9 333.9C1324.7 331.6 1325.9 330.1 1327.8 326.3Z" fill="#bcbcbc" stroke="#bcbcbc" stroke-width="3.4" stroke-linejoin="round" opacity="0.9" filter="url(#b1)"/>
<path d="M1215.8 189.6C1217.7 188.6 1222.9 190.3 1225.3 191.5C1227.7 192.6 1230.7 194.6 1230.1 196.2C1229.4 197.8 1223.8 199.5 1221.5 200.9C1219.2 202.4 1217.5 205.4 1216.2 204.7C1214.9 204.1 1214.0 199.7 1213.9 197.2C1213.9 194.6 1213.9 190.5 1215.8 189.6Z" fill="#bcbcbc" stroke="#bcbcbc" stroke-width="3.4" stroke-linejoin="round" opacity="0.9" filter="url(#b1)"/>
<path d="M1202.5 335.8C1203.8 333.9 1210.4 331.6 1213.9 330.1C1217.4 328.5 1220.3 325.9 1223.4 326.3C1226.6 326.6 1229.4 330.1 1232.9 332.0C1236.4 333.9 1239.6 335.1 1244.3 337.7C1249.0 340.2 1256.3 344.8 1261.4 347.2C1266.5 349.5 1273.7 350.3 1274.7 351.9C1275.6 353.5 1270.9 354.9 1267.1 356.6C1263.3 358.4 1255.7 361.1 1251.9 362.3C1248.1 363.6 1246.2 365.8 1244.3 364.2C1242.4 362.7 1241.8 356.3 1240.5 352.8C1239.2 349.4 1238.6 344.6 1236.7 343.4C1234.8 342.1 1231.3 343.4 1229.1 345.3C1226.9 347.2 1225.3 353.5 1223.4 354.7C1221.5 356.0 1219.0 354.7 1217.7 352.8C1216.5 350.9 1217.7 345.3 1215.8 343.4C1213.9 341.5 1208.5 342.7 1206.3 341.5C1204.1 340.2 1201.3 337.7 1202.5 335.8Z" fill="#5c5c5c" filter="url(#ncell2)"/>
<path d="M1327.8 326.3C1329.7 322.5 1333.9 313.9 1337.3 311.1C1340.8 308.2 1345.9 308.2 1348.7 309.2C1351.6 310.1 1354.1 313.9 1354.4 316.8C1354.7 319.6 1350.5 323.4 1350.6 326.3C1350.8 329.1 1355.1 330.4 1355.4 333.9C1355.7 337.3 1354.0 343.7 1352.5 347.2C1351.1 350.6 1349.0 354.1 1346.8 354.7C1344.6 355.4 1341.1 353.5 1339.2 350.9C1337.3 348.4 1337.7 342.4 1335.4 339.6C1333.2 336.7 1327.2 336.1 1325.9 333.9C1324.7 331.6 1325.9 330.1 1327.8 326.3Z" fill="#5c5c5c" filter="url(#ncell2)"/>
<path d="M1215.8 189.6C1217.7 188.6 1222.9 190.3 1225.3 191.5C1227.7 192.6 1230.7 194.6 1230.1 196.2C1229.4 197.8 1223.8 199.5 1221.5 200.9C1219.2 202.4 1217.5 205.4 1216.2 204.7C1214.9 204.1 1214.0 199.7 1213.9 197.2C1213.9 194.6 1213.9 190.5 1215.8 189.6Z" fill="#5c5c5c" filter="url(#ncell2)"/>
<path d="M1181.6 228.5C1182.9 229.0 1186.4 230.1 1189.2 231.3C1192.1 232.6 1197.2 235.3 1198.7 236.1" fill="none" stroke="#c4c4c4" stroke-width="1.5" stroke-linejoin="round"/>
<path d="M1194.9 214.2C1196.2 215.2 1200.6 219.6 1202.5 219.9C1204.4 220.3 1205.7 216.8 1206.3 216.1" fill="none" stroke="#9c9c9c" stroke-width="1.2" stroke-linejoin="round"/>
<path d="M1270.9 185.8C1277.8 185.9 1283.5 187.3 1289.9 189.6C1296.2 191.8 1302.5 194.6 1308.9 199.1C1315.2 203.5 1322.5 209.5 1327.8 216.1C1333.2 222.8 1338.0 231.3 1341.1 238.9C1344.3 246.5 1346.2 253.8 1346.8 261.7C1347.5 269.6 1346.5 278.5 1344.9 286.4C1343.4 294.3 1340.5 302.2 1337.3 309.2C1334.2 316.1 1330.7 322.8 1325.9 328.2C1321.2 333.5 1314.9 338.0 1308.9 341.5C1302.8 344.9 1295.6 347.2 1289.9 349.0C1284.2 350.9 1279.7 352.8 1274.7 352.8C1269.6 352.8 1265.5 351.3 1259.5 349.0C1253.5 346.8 1245.3 343.7 1238.6 339.6C1232.0 335.4 1225.2 330.4 1219.6 324.4C1214.1 318.4 1209.0 310.8 1205.4 303.5C1201.7 296.2 1199.5 288.3 1197.8 280.7C1196.0 273.1 1195.1 264.9 1194.9 257.9C1194.8 250.9 1195.3 245.3 1196.8 238.9C1198.4 232.6 1201.3 225.6 1204.4 219.9C1207.6 214.2 1211.7 208.9 1215.8 204.7C1219.9 200.6 1223.7 197.9 1229.1 195.3C1234.5 192.6 1241.1 190.2 1248.1 188.6C1255.1 187.0 1263.9 185.6 1270.9 185.8Z" fill="#b4b4b4" stroke="#b4b4b4" stroke-width="2.2" stroke-linejoin="round" opacity="0.6" filter="url(#b1)"/>
<radialGradient id="gB2" gradientUnits="userSpaceOnUse" cx="1269.9" cy="266.5" r="83.5"><stop offset="0" stop-color="#282828"/><stop offset="0.25" stop-color="#343434"/><stop offset="0.55" stop-color="#464646"/><stop offset="0.9" stop-color="#565656"/><stop offset="1" stop-color="#484848"/></radialGradient>
<path d="M1270.9 185.8C1277.8 185.9 1283.5 187.3 1289.9 189.6C1296.2 191.8 1302.5 194.6 1308.9 199.1C1315.2 203.5 1322.5 209.5 1327.8 216.1C1333.2 222.8 1338.0 231.3 1341.1 238.9C1344.3 246.5 1346.2 253.8 1346.8 261.7C1347.5 269.6 1346.5 278.5 1344.9 286.4C1343.4 294.3 1340.5 302.2 1337.3 309.2C1334.2 316.1 1330.7 322.8 1325.9 328.2C1321.2 333.5 1314.9 338.0 1308.9 341.5C1302.8 344.9 1295.6 347.2 1289.9 349.0C1284.2 350.9 1279.7 352.8 1274.7 352.8C1269.6 352.8 1265.5 351.3 1259.5 349.0C1253.5 346.8 1245.3 343.7 1238.6 339.6C1232.0 335.4 1225.2 330.4 1219.6 324.4C1214.1 318.4 1209.0 310.8 1205.4 303.5C1201.7 296.2 1199.5 288.3 1197.8 280.7C1196.0 273.1 1195.1 264.9 1194.9 257.9C1194.8 250.9 1195.3 245.3 1196.8 238.9C1198.4 232.6 1201.3 225.6 1204.4 219.9C1207.6 214.2 1211.7 208.9 1215.8 204.7C1219.9 200.6 1223.7 197.9 1229.1 195.3C1234.5 192.6 1241.1 190.2 1248.1 188.6C1255.1 187.0 1263.9 185.6 1270.9 185.8Z" fill="url(#gB2)" filter="url(#nfine)"/>
</g>
<rect x="1111.54" y="135.02" width="282.23" height="282.23" fill="none" stroke="#1a1a1a" stroke-width="2.2"/>
<rect x="1338.86" y="398.99" width="43.10" height="3.80" fill="#fff"/>
<clipPath id="cpB3"><rect x="1406.49" y="133.92" width="284.24" height="284.43"/></clipPath>
<g clip-path="url(#cpB3)">
<rect x="1406.49" y="133.92" width="284.24" height="284.43" fill="#787878" filter="url(#nbg)"/>
<ellipse cx="1425.5" cy="153.5" rx="75.9" ry="57.0" fill="#6c6c6c" opacity="0.5" filter="url(#b25)"/>
<ellipse cx="1662.8" cy="390.8" rx="85.4" ry="57.0" fill="#6a6a6a" opacity="0.5" filter="url(#b25)"/>
<ellipse cx="1529.9" cy="182.0" rx="113.9" ry="28.5" fill="#888888" opacity="0.4" filter="url(#b25)" transform="rotate(-25 1529.9 182.0)"/>
<path d="M1625.5 301.6C1625.6 307.8 1625.0 314.3 1623.5 320.4C1622.1 326.5 1619.8 332.5 1616.9 338.1C1614.0 343.7 1610.3 349.0 1606.2 353.8C1602.1 358.6 1597.4 363.0 1592.4 366.7C1587.4 370.5 1581.8 373.7 1576.2 376.3C1570.5 378.9 1564.5 380.8 1558.5 382.1C1552.4 383.5 1546.0 384.1 1539.8 384.1C1533.5 384.1 1527.1 383.5 1520.9 382.1C1514.7 380.8 1508.4 378.9 1502.6 376.3C1496.9 373.7 1491.2 370.5 1486.2 366.7C1481.3 363.0 1476.6 358.6 1472.7 353.8C1468.9 349.0 1465.6 343.7 1463.0 338.1C1460.4 332.5 1458.6 326.5 1457.4 320.4C1456.2 314.3 1455.7 307.8 1455.8 301.6C1455.9 295.3 1456.7 288.9 1458.0 282.8C1459.4 276.7 1461.4 270.6 1464.0 265.1C1466.6 259.5 1469.8 254.1 1473.5 249.4C1477.3 244.6 1481.7 240.2 1486.5 236.4C1491.4 232.7 1496.9 229.4 1502.5 226.9C1508.2 224.3 1514.5 222.3 1520.7 221.0C1526.9 219.7 1533.5 219.0 1539.8 219.0C1546.1 219.0 1552.6 219.7 1558.6 221.0C1564.7 222.3 1570.7 224.3 1576.3 226.9C1581.9 229.4 1587.2 232.7 1592.1 236.4C1596.9 240.2 1601.5 244.6 1605.5 249.4C1609.4 254.1 1613.0 259.5 1615.9 265.1C1618.8 270.6 1621.3 276.7 1622.8 282.8C1624.4 288.9 1625.4 295.3 1625.5 301.6Z" fill="#aaaaaa" stroke="#aaaaaa" stroke-width="2.2" stroke-linejoin="round" opacity="0.6" filter="url(#b1)"/>
<radialGradient id="gB3" gradientUnits="userSpaceOnUse" cx="1536.6" cy="305.4" r="86.4"><stop offset="0" stop-color="#303030"/><stop offset="0.25" stop-color="#3c3c3c"/><stop offset="0.5" stop-color="#565656"/><stop offset="0.72" stop-color="#6a6a6a"/><stop offset="0.94" stop-color="#747474"/><stop offset="1" stop-color="#4e4e4e"/></radialGradient>
<path d="M1625.5 301.6C1625.6 307.8 1625.0 314.3 1623.5 320.4C1622.1 326.5 1619.8 332.5 1616.9 338.1C1614.0 343.7 1610.3 349.0 1606.2 353.8C1602.1 358.6 1597.4 363.0 1592.4 366.7C1587.4 370.5 1581.8 373.7 1576.2 376.3C1570.5 378.9 1564.5 380.8 1558.5 382.1C1552.4 383.5 1546.0 384.1 1539.8 384.1C1533.5 384.1 1527.1 383.5 1520.9 382.1C1514.7 380.8 1508.4 378.9 1502.6 376.3C1496.9 373.7 1491.2 370.5 1486.2 366.7C1481.3 363.0 1476.6 358.6 1472.7 353.8C1468.9 349.0 1465.6 343.7 1463.0 338.1C1460.4 332.5 1458.6 326.5 1457.4 320.4C1456.2 314.3 1455.7 307.8 1455.8 301.6C1455.9 295.3 1456.7 288.9 1458.0 282.8C1459.4 276.7 1461.4 270.6 1464.0 265.1C1466.6 259.5 1469.8 254.1 1473.5 249.4C1477.3 244.6 1481.7 240.2 1486.5 236.4C1491.4 232.7 1496.9 229.4 1502.5 226.9C1508.2 224.3 1514.5 222.3 1520.7 221.0C1526.9 219.7 1533.5 219.0 1539.8 219.0C1546.1 219.0 1552.6 219.7 1558.6 221.0C1564.7 222.3 1570.7 224.3 1576.3 226.9C1581.9 229.4 1587.2 232.7 1592.1 236.4C1596.9 240.2 1601.5 244.6 1605.5 249.4C1609.4 254.1 1613.0 259.5 1615.9 265.1C1618.8 270.6 1621.3 276.7 1622.8 282.8C1624.4 288.9 1625.4 295.3 1625.5 301.6Z" fill="url(#gB3)" filter="url(#nfine)"/>
<ellipse cx="1560.3" cy="218.4" rx="4.2" ry="3.4" fill="#707070" opacity="0.9" filter="url(#b1)"/>
<ellipse cx="1550.8" cy="391.8" rx="2.3" ry="6.6" fill="#d0d0d0" opacity="0.9" filter="url(#b1)"/>
<ellipse cx="1611.6" cy="248.0" rx="1.9" ry="1.9" fill="#b0b0b0" opacity="0.9" filter="url(#b1)"/>
</g>
<rect x="1407.59" y="135.02" width="282.04" height="282.23" fill="none" stroke="#1a1a1a" stroke-width="2.2"/>
<rect x="1630.92" y="398.99" width="42.91" height="3.80" fill="#fff"/>
<clipPath id="cpE1"><rect x="86.08" y="1271.08" width="286.33" height="285.38"/></clipPath>
<g clip-path="url(#cpE1)">
<rect x="86.08" y="1271.08" width="286.33" height="285.38" fill="#868686" filter="url(#nbgE)"/>
<path d="M108.5 1336.8C108.7 1334.8 108.5 1329.9 114.2 1333.0C119.9 1336.0 133.3 1347.1 142.7 1355.2C152.0 1363.3 166.3 1376.2 170.2 1381.8C174.1 1387.3 171.4 1390.8 165.8 1388.4C160.3 1386.0 145.8 1374.8 137.0 1367.5C128.1 1360.3 117.4 1349.9 112.7 1344.7C107.9 1339.6 108.2 1338.7 108.5 1336.8Z" fill="#3c3c3c" stroke="#3c3c3c" stroke-width="3.2" stroke-linejoin="round" opacity="0.75" filter="url(#b1)"/>
<path d="M160.7 1352.3C162.4 1350.8 166.5 1350.7 168.3 1353.9C170.1 1357.0 169.7 1365.9 171.5 1371.3C173.3 1376.8 179.3 1383.3 179.1 1386.5C178.9 1389.7 173.9 1392.0 170.2 1390.7C166.5 1389.4 162.3 1382.4 156.9 1378.9C151.5 1375.4 140.9 1372.2 137.9 1369.8C135.0 1367.4 136.9 1365.1 139.2 1364.7C141.6 1364.2 149.0 1367.4 152.2 1367.2C155.3 1366.9 156.8 1365.8 158.2 1363.4C159.7 1360.9 159.0 1353.9 160.7 1352.3Z" fill="#3c3c3c" stroke="#3c3c3c" stroke-width="3.2" stroke-linejoin="round" opacity="0.75" filter="url(#b1)"/>
<path d="M268.9 1372.3C269.6 1367.8 275.7 1361.2 277.8 1356.1C280.0 1351.1 279.9 1346.2 282.0 1341.9C284.2 1337.6 288.1 1331.8 290.8 1330.5C293.4 1329.2 295.3 1334.6 298.0 1334.3C300.7 1334.0 304.7 1328.4 306.9 1328.6C309.1 1328.8 312.1 1332.3 311.3 1335.3C310.4 1338.2 304.9 1343.1 301.8 1346.3C298.7 1349.4 295.1 1350.1 292.7 1354.2C290.3 1358.4 288.9 1366.1 287.3 1371.3C285.8 1376.5 285.8 1383.6 283.5 1385.6C281.3 1387.5 276.5 1385.3 274.0 1383.1C271.6 1380.9 268.3 1376.8 268.9 1372.3Z" fill="#3c3c3c" stroke="#3c3c3c" stroke-width="3.2" stroke-linejoin="round" opacity="0.75" filter="url(#b1)"/>
<path d="M282.2 1405.1C282.8 1402.4 292.9 1401.8 298.4 1400.8C303.8 1399.7 311.6 1397.2 314.7 1398.7C317.8 1400.2 313.8 1407.4 317.0 1409.7C320.1 1411.9 332.5 1410.1 333.5 1412.2C334.4 1414.2 326.9 1418.4 322.7 1422.2C318.4 1426.0 313.4 1431.4 307.8 1435.1C302.3 1438.8 293.0 1444.9 289.2 1444.4C285.5 1443.9 284.5 1436.6 285.4 1432.1C286.4 1427.6 295.5 1421.8 294.9 1417.3C294.4 1412.8 281.6 1407.9 282.2 1405.1Z" fill="#3c3c3c" stroke="#3c3c3c" stroke-width="3.2" stroke-linejoin="round" opacity="0.75" filter="url(#b1)"/>
<path d="M269.9 1473.5C273.6 1471.0 278.1 1468.2 281.3 1466.6C284.4 1465.1 284.8 1464.7 288.9 1464.4C292.9 1464.0 302.8 1463.8 305.6 1464.7C308.4 1465.7 307.4 1468.8 305.6 1470.1C303.7 1471.3 295.5 1469.2 294.6 1472.3C293.6 1475.4 299.8 1485.6 299.9 1488.7C299.9 1491.8 297.1 1493.3 294.9 1490.9C292.8 1488.6 290.1 1474.9 287.0 1474.6C283.9 1474.3 277.8 1482.0 276.3 1489.0C274.8 1496.1 278.5 1512.1 277.8 1516.8C277.2 1521.5 274.0 1521.1 272.2 1517.2C270.3 1513.2 268.7 1498.8 266.5 1492.8C264.2 1486.9 258.3 1484.7 258.9 1481.5C259.4 1478.2 266.1 1475.9 269.9 1473.5Z" fill="#3c3c3c" stroke="#3c3c3c" stroke-width="3.2" stroke-linejoin="round" opacity="0.75" filter="url(#b1)"/>
<path d="M175.3 1447.7C178.4 1447.0 182.9 1451.5 185.9 1455.3C189.0 1459.0 195.4 1465.9 193.5 1470.1C191.7 1474.2 180.2 1475.4 174.9 1479.9C169.7 1484.4 165.4 1493.0 162.0 1497.0C158.7 1501.0 157.3 1503.6 154.8 1503.9C152.3 1504.1 148.2 1501.0 147.2 1498.5C146.2 1496.1 146.6 1493.2 148.7 1489.0C150.9 1484.9 157.0 1478.9 160.1 1473.9C163.3 1468.9 165.2 1463.4 167.7 1459.0C170.3 1454.7 172.3 1448.3 175.3 1447.7Z" fill="#3c3c3c" stroke="#3c3c3c" stroke-width="3.2" stroke-linejoin="round" opacity="0.75" filter="url(#b1)"/>
<path d="M108.5 1336.8C108.7 1334.8 108.5 1329.9 114.2 1333.0C119.9 1336.0 133.3 1347.1 142.7 1355.2C152.0 1363.3 166.3 1376.2 170.2 1381.8C174.1 1387.3 171.4 1390.8 165.8 1388.4C160.3 1386.0 145.8 1374.8 137.0 1367.5C128.1 1360.3 117.4 1349.9 112.7 1344.7C107.9 1339.6 108.2 1338.7 108.5 1336.8Z" fill="#9a9a9a" filter="url(#nsoft)"/>
<path d="M160.7 1352.3C162.4 1350.8 166.5 1350.7 168.3 1353.9C170.1 1357.0 169.7 1365.9 171.5 1371.3C173.3 1376.8 179.3 1383.3 179.1 1386.5C178.9 1389.7 173.9 1392.0 170.2 1390.7C166.5 1389.4 162.3 1382.4 156.9 1378.9C151.5 1375.4 140.9 1372.2 137.9 1369.8C135.0 1367.4 136.9 1365.1 139.2 1364.7C141.6 1364.2 149.0 1367.4 152.2 1367.2C155.3 1366.9 156.8 1365.8 158.2 1363.4C159.7 1360.9 159.0 1353.9 160.7 1352.3Z" fill="#b0b0b0" filter="url(#nsoft)"/>
<path d="M268.9 1372.3C269.6 1367.8 275.7 1361.2 277.8 1356.1C280.0 1351.1 279.9 1346.2 282.0 1341.9C284.2 1337.6 288.1 1331.8 290.8 1330.5C293.4 1329.2 295.3 1334.6 298.0 1334.3C300.7 1334.0 304.7 1328.4 306.9 1328.6C309.1 1328.8 312.1 1332.3 311.3 1335.3C310.4 1338.2 304.9 1343.1 301.8 1346.3C298.7 1349.4 295.1 1350.1 292.7 1354.2C290.3 1358.4 288.9 1366.1 287.3 1371.3C285.8 1376.5 285.8 1383.6 283.5 1385.6C281.3 1387.5 276.5 1385.3 274.0 1383.1C271.6 1380.9 268.3 1376.8 268.9 1372.3Z" fill="#b0b0b0" filter="url(#nsoft)"/>
<path d="M282.2 1405.1C282.8 1402.4 292.9 1401.8 298.4 1400.8C303.8 1399.7 311.6 1397.2 314.7 1398.7C317.8 1400.2 313.8 1407.4 317.0 1409.7C320.1 1411.9 332.5 1410.1 333.5 1412.2C334.4 1414.2 326.9 1418.4 322.7 1422.2C318.4 1426.0 313.4 1431.4 307.8 1435.1C302.3 1438.8 293.0 1444.9 289.2 1444.4C285.5 1443.9 284.5 1436.6 285.4 1432.1C286.4 1427.6 295.5 1421.8 294.9 1417.3C294.4 1412.8 281.6 1407.9 282.2 1405.1Z" fill="#b0b0b0" filter="url(#nsoft)"/>
<path d="M269.9 1473.5C273.6 1471.0 278.1 1468.2 281.3 1466.6C284.4 1465.1 284.8 1464.7 288.9 1464.4C292.9 1464.0 302.8 1463.8 305.6 1464.7C308.4 1465.7 307.4 1468.8 305.6 1470.1C303.7 1471.3 295.5 1469.2 294.6 1472.3C293.6 1475.4 299.8 1485.6 299.9 1488.7C299.9 1491.8 297.1 1493.3 294.9 1490.9C292.8 1488.6 290.1 1474.9 287.0 1474.6C283.9 1474.3 277.8 1482.0 276.3 1489.0C274.8 1496.1 278.5 1512.1 277.8 1516.8C277.2 1521.5 274.0 1521.1 272.2 1517.2C270.3 1513.2 268.7 1498.8 266.5 1492.8C264.2 1486.9 258.3 1484.7 258.9 1481.5C259.4 1478.2 266.1 1475.9 269.9 1473.5Z" fill="#b0b0b0" filter="url(#nsoft)"/>
<path d="M175.3 1447.7C178.4 1447.0 182.9 1451.5 185.9 1455.3C189.0 1459.0 195.4 1465.9 193.5 1470.1C191.7 1474.2 180.2 1475.4 174.9 1479.9C169.7 1484.4 165.4 1493.0 162.0 1497.0C158.7 1501.0 157.3 1503.6 154.8 1503.9C152.3 1504.1 148.2 1501.0 147.2 1498.5C146.2 1496.1 146.6 1493.2 148.7 1489.0C150.9 1484.9 157.0 1478.9 160.1 1473.9C163.3 1468.9 165.2 1463.4 167.7 1459.0C170.3 1454.7 172.3 1448.3 175.3 1447.7Z" fill="#b0b0b0" filter="url(#nsoft)"/>
<path d="M288.9 1386.5C291.4 1382.7 301.5 1379.6 307.8 1375.1C314.2 1370.7 320.5 1364.4 326.8 1359.9C333.2 1355.5 341.4 1350.1 345.8 1348.5C350.3 1347.0 353.4 1348.5 353.4 1350.8C353.4 1353.1 350.3 1358.1 345.8 1362.2C341.4 1366.3 331.6 1371.5 326.8 1375.5C322.1 1379.6 320.5 1383.4 317.3 1386.5C314.2 1389.7 312.0 1392.5 307.8 1394.5C303.7 1396.5 295.8 1399.6 292.7 1398.3C289.5 1397.0 286.3 1390.4 288.9 1386.5Z" fill="#8e8e8e" stroke="#5a5a5a" stroke-width="1.2" stroke-linejoin="round" filter="url(#nfine)"/>
<path d="M119.9 1377.0C122.4 1375.8 130.9 1376.9 137.0 1378.9C143.0 1381.0 150.3 1386.2 155.9 1389.4C161.6 1392.5 168.1 1392.1 171.1 1397.9C174.1 1403.8 175.3 1421.3 174.0 1424.5C172.7 1427.7 167.2 1420.7 163.5 1416.9C159.9 1413.1 156.6 1405.2 152.2 1401.7C147.7 1398.2 141.1 1397.3 137.0 1396.0C132.8 1394.7 130.0 1395.7 127.5 1394.1C124.9 1392.5 123.0 1389.4 121.8 1386.5C120.5 1383.7 117.3 1378.3 119.9 1377.0Z" fill="#363636" stroke="#aaaaaa" stroke-width="1.2" stroke-linejoin="round" filter="url(#nfine)"/>
<path d="M171.1 1394.1C174.0 1390.3 179.4 1388.7 186.3 1386.5C193.3 1384.3 203.7 1382.1 212.9 1380.8C222.1 1379.6 233.2 1380.2 241.4 1378.9C249.6 1377.7 255.9 1372.6 262.3 1373.2C268.6 1373.9 274.9 1378.6 279.4 1382.7C283.8 1386.8 287.6 1392.2 288.9 1397.9C290.1 1403.6 287.6 1410.6 287.0 1416.9C286.3 1423.2 286.0 1430.2 285.1 1435.9C284.1 1441.6 281.3 1446.0 281.3 1451.1C281.3 1456.1 287.0 1462.5 285.1 1466.3C283.2 1470.1 275.6 1472.9 269.9 1473.9C264.2 1474.8 256.6 1471.6 250.9 1472.0C245.2 1472.3 240.8 1475.8 235.7 1475.8C230.6 1475.8 225.9 1473.5 220.5 1472.0C215.1 1470.4 207.8 1469.1 203.4 1466.3C199.0 1463.4 197.4 1459.3 193.9 1454.9C190.4 1450.4 186.0 1444.7 182.5 1439.7C179.1 1434.6 175.3 1429.6 173.0 1424.5C170.8 1419.4 169.6 1414.4 169.2 1409.3C168.9 1404.2 168.3 1397.9 171.1 1394.1Z" fill="#2c2c2c" stroke="#2c2c2c" stroke-width="3" stroke-linejoin="round" opacity="0.9" filter="url(#b1)"/>
<radialGradient id="gE1" gradientUnits="userSpaceOnUse" cx="231.9" cy="1426.4" r="68.4"><stop offset="0" stop-color="#545454"/><stop offset="0.6" stop-color="#606060"/><stop offset="1" stop-color="#707070"/></radialGradient>
<path d="M171.1 1394.1C174.0 1390.3 179.4 1388.7 186.3 1386.5C193.3 1384.3 203.7 1382.1 212.9 1380.8C222.1 1379.6 233.2 1380.2 241.4 1378.9C249.6 1377.7 255.9 1372.6 262.3 1373.2C268.6 1373.9 274.9 1378.6 279.4 1382.7C283.8 1386.8 287.6 1392.2 288.9 1397.9C290.1 1403.6 287.6 1410.6 287.0 1416.9C286.3 1423.2 286.0 1430.2 285.1 1435.9C284.1 1441.6 281.3 1446.0 281.3 1451.1C281.3 1456.1 287.0 1462.5 285.1 1466.3C283.2 1470.1 275.6 1472.9 269.9 1473.9C264.2 1474.8 256.6 1471.6 250.9 1472.0C245.2 1472.3 240.8 1475.8 235.7 1475.8C230.6 1475.8 225.9 1473.5 220.5 1472.0C215.1 1470.4 207.8 1469.1 203.4 1466.3C199.0 1463.4 197.4 1459.3 193.9 1454.9C190.4 1450.4 186.0 1444.7 182.5 1439.7C179.1 1434.6 175.3 1429.6 173.0 1424.5C170.8 1419.4 169.6 1414.4 169.2 1409.3C168.9 1404.2 168.3 1397.9 171.1 1394.1Z" fill="url(#gE1)" filter="url(#ncoarse)"/>
<path d="M178.7 1388.4C182.5 1387.5 193.9 1384.3 201.5 1382.7C209.1 1381.1 216.7 1380.0 224.3 1378.9C231.9 1377.8 239.5 1377.8 247.1 1376.1C254.7 1374.3 266.1 1369.7 269.9 1368.5" fill="none" stroke="#262626" stroke-width="5" stroke-linejoin="round" opacity="0.85" filter="url(#b1)"/>
<path d="M193.9 1469.1C199.0 1466.5 210.4 1470.8 216.7 1471.6C223.0 1472.4 230.6 1471.9 231.9 1473.9C233.2 1475.8 227.5 1480.2 224.3 1483.4C221.1 1486.5 216.4 1489.7 212.9 1492.8C209.4 1496.0 206.6 1499.2 203.4 1502.3C200.3 1505.5 197.1 1510.3 193.9 1511.8C190.8 1513.4 186.3 1513.4 184.4 1511.8C182.5 1510.3 182.2 1506.5 182.5 1502.3C182.8 1498.2 184.4 1492.7 186.3 1487.2C188.2 1481.6 188.9 1471.7 193.9 1469.1Z" fill="#404040" stroke="#b0b0b0" stroke-width="1.2" stroke-linejoin="round" filter="url(#nfine)"/>
<ellipse cx="193.9" cy="1500.4" rx="5.7" ry="8.5" fill="#808080" opacity="0.8" filter="url(#b1)" transform="rotate(30 193.9 1500.4)"/>
<ellipse cx="165.4" cy="1409.3" rx="11.4" ry="20.9" fill="#262626" opacity="0.8" filter="url(#b2)" transform="rotate(-25 165.4 1409.3)"/>
<ellipse cx="212.9" cy="1416.9" rx="11.4" ry="9.5" fill="#8a8a8a" opacity="0.35" filter="url(#b2)"/>
<ellipse cx="186.3" cy="1416.9" rx="11.4" ry="22.8" fill="#4a4a4a" opacity="0.45" filter="url(#b4)" transform="rotate(-20 186.3 1416.9)"/>
<ellipse cx="287.0" cy="1405.5" rx="7.6" ry="4.7" fill="#e0e0e0" opacity="0.8" filter="url(#b2)"/>
</g>
<rect x="87.63" y="1272.63" width="283.23" height="282.28" fill="none" stroke="#1e1e1e" stroke-width="3.1"/>
<rect x="287.91" y="1531.20" width="71.58" height="3.42" fill="#fff"/>
<clipPath id="cpE2"><rect x="382.08" y="1271.08" width="286.33" height="285.38"/></clipPath>
<g clip-path="url(#cpE2)">
<rect x="382.08" y="1271.08" width="286.33" height="285.38" fill="#858585" filter="url(#nbgE)"/>
<path d="M457.6 1356.1C455.7 1352.8 458.9 1342.5 459.5 1337.2C460.2 1331.8 460.2 1326.4 461.4 1323.9C462.7 1321.3 465.2 1321.0 467.1 1322.0C469.0 1322.9 471.3 1326.4 472.8 1329.6C474.4 1332.7 475.4 1336.8 476.6 1340.9C477.9 1345.1 481.4 1351.6 480.4 1354.2C479.5 1356.9 474.7 1356.8 470.9 1357.1C467.1 1357.4 459.5 1359.5 457.6 1356.1Z" fill="#c0c0c0" stroke="#c0c0c0" stroke-width="2.4" stroke-linejoin="round" opacity="0.7" filter="url(#b1)"/>
<path d="M537.4 1359.9C536.8 1354.7 541.2 1347.3 543.1 1340.9C545.0 1334.6 546.9 1322.6 548.8 1322.0C550.7 1321.3 552.9 1334.0 554.5 1337.2C556.1 1340.3 556.4 1340.0 558.3 1340.9C560.2 1341.9 565.2 1341.3 565.9 1342.8C566.5 1344.4 563.3 1347.6 562.1 1350.4C560.8 1353.3 556.1 1357.1 558.3 1359.9C560.5 1362.8 572.8 1365.3 575.4 1367.5C577.9 1369.7 576.3 1372.6 573.5 1373.2C570.6 1373.9 562.7 1371.5 558.3 1371.3C553.8 1371.2 550.4 1374.2 546.9 1372.3C543.4 1370.4 538.0 1365.2 537.4 1359.9Z" fill="#c0c0c0" stroke="#c0c0c0" stroke-width="2.4" stroke-linejoin="round" opacity="0.7" filter="url(#b1)"/>
<path d="M438.7 1367.5C440.6 1365.9 449.7 1364.7 451.9 1365.6C454.2 1366.6 453.8 1371.6 451.9 1373.2C450.1 1374.8 442.8 1376.1 440.6 1375.1C438.3 1374.2 436.8 1369.1 438.7 1367.5Z" fill="#c0c0c0" stroke="#c0c0c0" stroke-width="2.4" stroke-linejoin="round" opacity="0.7" filter="url(#b1)"/>
<path d="M457.6 1356.1C455.7 1352.8 458.9 1342.5 459.5 1337.2C460.2 1331.8 460.2 1326.4 461.4 1323.9C462.7 1321.3 465.2 1321.0 467.1 1322.0C469.0 1322.9 471.3 1326.4 472.8 1329.6C474.4 1332.7 475.4 1336.8 476.6 1340.9C477.9 1345.1 481.4 1351.6 480.4 1354.2C479.5 1356.9 474.7 1356.8 470.9 1357.1C467.1 1357.4 459.5 1359.5 457.6 1356.1Z" fill="#7c7c7c" filter="url(#nfine)"/>
<path d="M537.4 1359.9C536.8 1354.7 541.2 1347.3 543.1 1340.9C545.0 1334.6 546.9 1322.6 548.8 1322.0C550.7 1321.3 552.9 1334.0 554.5 1337.2C556.1 1340.3 556.4 1340.0 558.3 1340.9C560.2 1341.9 565.2 1341.3 565.9 1342.8C566.5 1344.4 563.3 1347.6 562.1 1350.4C560.8 1353.3 556.1 1357.1 558.3 1359.9C560.5 1362.8 572.8 1365.3 575.4 1367.5C577.9 1369.7 576.3 1372.6 573.5 1373.2C570.6 1373.9 562.7 1371.5 558.3 1371.3C553.8 1371.2 550.4 1374.2 546.9 1372.3C543.4 1370.4 538.0 1365.2 537.4 1359.9Z" fill="#7c7c7c" filter="url(#nfine)"/>
<path d="M438.7 1367.5C440.6 1365.9 449.7 1364.7 451.9 1365.6C454.2 1366.6 453.8 1371.6 451.9 1373.2C450.1 1374.8 442.8 1376.1 440.6 1375.1C438.3 1374.2 436.8 1369.1 438.7 1367.5Z" fill="#7c7c7c" filter="url(#nfine)"/>
<path d="M569.7 1406.5C571.3 1403.1 579.2 1403.4 584.9 1403.2C590.6 1403.0 597.5 1404.5 603.8 1405.1C610.2 1405.8 619.9 1405.6 622.8 1407.0C625.7 1408.4 624.5 1412.1 621.3 1413.5C618.2 1414.9 609.9 1414.7 603.8 1415.4C597.8 1416.0 589.6 1415.9 584.9 1417.3C580.1 1418.6 577.9 1425.3 575.4 1423.5C572.8 1421.7 568.1 1409.8 569.7 1406.5Z" fill="#4a4a4a" stroke="#4a4a4a" stroke-width="2.6" stroke-linejoin="round" opacity="0.7" filter="url(#b1)"/>
<path d="M569.7 1406.5C571.3 1403.1 579.2 1403.4 584.9 1403.2C590.6 1403.0 597.5 1404.5 603.8 1405.1C610.2 1405.8 619.9 1405.6 622.8 1407.0C625.7 1408.4 624.5 1412.1 621.3 1413.5C618.2 1414.9 609.9 1414.7 603.8 1415.4C597.8 1416.0 589.6 1415.9 584.9 1417.3C580.1 1418.6 577.9 1425.3 575.4 1423.5C572.8 1421.7 568.1 1409.8 569.7 1406.5Z" fill="#c4c4c4" filter="url(#nfine)"/>
<path d="M457.6 1359.9C462.7 1358.0 473.8 1356.5 482.3 1356.1C490.9 1355.8 499.7 1357.1 508.9 1358.0C518.1 1359.0 530.1 1359.6 537.4 1361.8C544.7 1364.1 548.5 1366.9 552.6 1371.3C556.7 1375.8 559.2 1382.1 562.1 1388.4C564.9 1394.7 568.1 1403.0 569.7 1409.3C571.3 1415.6 572.5 1420.7 571.6 1426.4C570.6 1432.1 567.1 1437.8 564.0 1443.5C560.8 1449.2 557.0 1455.2 552.6 1460.6C548.2 1465.9 542.1 1471.6 537.4 1475.8C532.6 1479.9 528.8 1482.4 524.1 1485.3C519.4 1488.1 514.6 1491.3 508.9 1492.8C503.2 1494.4 496.3 1495.1 489.9 1494.7C483.6 1494.4 476.6 1493.2 470.9 1490.9C465.2 1488.7 460.2 1484.9 455.7 1481.5C451.3 1478.0 447.2 1474.5 444.4 1470.1C441.5 1465.6 439.0 1460.6 438.7 1454.9C438.3 1449.2 442.1 1442.2 442.5 1435.9C442.8 1429.6 440.9 1423.2 440.6 1416.9C440.2 1410.6 439.6 1404.2 440.6 1397.9C441.5 1391.6 444.4 1384.0 446.3 1378.9C448.2 1373.9 450.1 1370.7 451.9 1367.5C453.8 1364.4 452.6 1361.8 457.6 1359.9Z" fill="#1e1e1e" stroke="#1e1e1e" stroke-width="4.5" stroke-linejoin="round" opacity="0.9" filter="url(#b1)"/>
<radialGradient id="gE2" gradientUnits="userSpaceOnUse" cx="505.1" cy="1428.3" r="75.9"><stop offset="0" stop-color="#5e5e5e"/><stop offset="0.6" stop-color="#6e6e6e"/><stop offset="1" stop-color="#8c8c8c"/></radialGradient>
<path d="M457.6 1359.9C462.7 1358.0 473.8 1356.5 482.3 1356.1C490.9 1355.8 499.7 1357.1 508.9 1358.0C518.1 1359.0 530.1 1359.6 537.4 1361.8C544.7 1364.1 548.5 1366.9 552.6 1371.3C556.7 1375.8 559.2 1382.1 562.1 1388.4C564.9 1394.7 568.1 1403.0 569.7 1409.3C571.3 1415.6 572.5 1420.7 571.6 1426.4C570.6 1432.1 567.1 1437.8 564.0 1443.5C560.8 1449.2 557.0 1455.2 552.6 1460.6C548.2 1465.9 542.1 1471.6 537.4 1475.8C532.6 1479.9 528.8 1482.4 524.1 1485.3C519.4 1488.1 514.6 1491.3 508.9 1492.8C503.2 1494.4 496.3 1495.1 489.9 1494.7C483.6 1494.4 476.6 1493.2 470.9 1490.9C465.2 1488.7 460.2 1484.9 455.7 1481.5C451.3 1478.0 447.2 1474.5 444.4 1470.1C441.5 1465.6 439.0 1460.6 438.7 1454.9C438.3 1449.2 442.1 1442.2 442.5 1435.9C442.8 1429.6 440.9 1423.2 440.6 1416.9C440.2 1410.6 439.6 1404.2 440.6 1397.9C441.5 1391.6 444.4 1384.0 446.3 1378.9C448.2 1373.9 450.1 1370.7 451.9 1367.5C453.8 1364.4 452.6 1361.8 457.6 1359.9Z" fill="url(#gE2)" filter="url(#ncoarse)"/>
<ellipse cx="474.7" cy="1359.0" rx="15.2" ry="3.4" fill="#1a1a1a" opacity="0.9" filter="url(#b1)" transform="rotate(-8 474.7 1359.0)"/>
<ellipse cx="558.3" cy="1416.9" rx="5.7" ry="22.8" fill="#c0c0c0" opacity="0.6" filter="url(#b1)" transform="rotate(-15 558.3 1416.9)"/>
<ellipse cx="491.8" cy="1505.2" rx="5.7" ry="5.3" fill="#b0b0b0" opacity="0.6" filter="url(#b1)"/>
<ellipse cx="516.5" cy="1502.3" rx="9.5" ry="7.6" fill="#a0a0a0" opacity="0.4" filter="url(#b1)"/>
<ellipse cx="583.3" cy="1441.2" rx="1.5" ry="1.5" fill="#333" opacity="0.9"/>
</g>
<rect x="383.63" y="1272.63" width="283.23" height="282.28" fill="none" stroke="#1e1e1e" stroke-width="3.1"/>
<rect x="581.06" y="1531.96" width="69.68" height="3.80" fill="#fff"/>
<clipPath id="cpE3"><rect x="86.08" y="1564.65" width="286.33" height="285.76"/></clipPath>
<g clip-path="url(#cpE3)">
<rect x="86.08" y="1564.65" width="286.33" height="285.76" fill="#7b7b7b" filter="url(#nbgE)"/>
<path d="M188.6 1586.5C189.5 1584.6 192.2 1583.5 193.9 1583.6C195.6 1583.8 198.6 1584.2 200.0 1587.4C201.4 1590.7 201.8 1598.5 203.0 1605.5C204.3 1612.4 206.5 1626.8 208.4 1633.9C210.2 1641.1 212.6 1647.2 215.2 1652.9C217.8 1658.6 223.1 1668.4 225.8 1671.9C228.6 1675.4 231.1 1676.5 233.4 1676.1C235.8 1675.7 238.8 1670.7 241.4 1669.1C244.0 1667.5 248.1 1665.1 250.9 1665.3C253.7 1665.5 258.9 1668.3 260.0 1670.4C261.1 1672.5 259.5 1677.0 258.1 1679.5C256.7 1682.0 252.5 1684.3 250.5 1687.1C248.5 1690.0 245.4 1695.1 244.8 1698.5C244.2 1701.9 245.6 1705.9 246.3 1709.9C247.1 1713.9 248.6 1720.5 249.7 1725.1C250.9 1729.6 252.2 1735.2 253.9 1740.3C255.7 1745.4 259.2 1753.6 261.5 1759.3C263.8 1765.0 268.2 1774.6 269.1 1778.3C270.0 1781.9 268.8 1783.1 267.6 1783.6C266.3 1784.0 263.2 1783.3 260.8 1781.3C258.4 1779.3 254.4 1774.2 251.6 1770.3C248.9 1766.3 245.0 1759.6 242.2 1755.1C239.3 1750.5 235.5 1744.2 232.7 1739.9C229.8 1735.6 226.1 1729.2 223.2 1726.6C220.3 1724.0 216.5 1723.9 213.3 1722.4C210.1 1720.9 205.0 1718.7 201.9 1716.7C198.8 1714.8 196.4 1710.9 192.4 1709.5C188.4 1708.1 179.8 1707.9 174.9 1707.2C170.0 1706.6 162.9 1706.1 159.7 1705.3C156.6 1704.5 154.3 1703.4 153.7 1701.9C153.0 1700.4 153.8 1696.7 155.6 1695.5C157.3 1694.2 162.0 1694.4 165.4 1693.6C168.9 1692.7 175.0 1690.9 178.7 1689.8C182.4 1688.6 188.1 1688.3 190.1 1686.0C192.2 1683.6 192.6 1678.6 192.4 1674.2C192.2 1669.8 190.2 1662.2 188.8 1656.7C187.4 1651.3 184.8 1643.2 183.1 1637.7C181.4 1632.3 178.5 1624.9 177.4 1620.7C176.3 1616.4 175.0 1611.8 175.5 1609.6C176.0 1607.5 179.1 1606.5 180.6 1606.2C182.2 1606.0 184.9 1609.7 185.9 1608.1C187.0 1606.6 187.3 1599.2 187.7 1596.0C188.1 1592.7 187.7 1588.3 188.6 1586.5Z" fill="#a8a8a8" stroke="#a8a8a8" stroke-width="3" stroke-linejoin="round" opacity="0.7" filter="url(#b1)"/>
<path d="M247.1 1708.0C248.8 1705.4 257.7 1708.0 262.3 1708.0C266.8 1708.0 275.5 1706.9 277.5 1708.0C279.5 1709.1 277.3 1713.3 275.6 1715.6C273.9 1717.9 269.8 1721.8 266.1 1723.2C262.4 1724.6 253.7 1727.4 250.9 1725.1C248.0 1722.8 245.4 1710.6 247.1 1708.0Z" fill="#a8a8a8" stroke="#a8a8a8" stroke-width="3" stroke-linejoin="round" opacity="0.7" filter="url(#b1)"/>
<path d="M186.3 1725.1C188.9 1722.2 194.9 1723.2 197.7 1723.2C200.6 1723.2 205.3 1723.7 205.3 1725.1C205.3 1726.5 200.0 1729.8 197.7 1732.7C195.4 1735.5 192.4 1741.2 190.1 1744.1C187.8 1746.9 184.0 1752.0 182.5 1751.7C181.1 1751.4 180.1 1746.2 180.6 1742.2C181.2 1738.2 183.8 1727.9 186.3 1725.1Z" fill="#a8a8a8" stroke="#a8a8a8" stroke-width="3" stroke-linejoin="round" opacity="0.7" filter="url(#b1)"/>
<path d="M247.1 1708.0C248.8 1705.4 257.7 1708.0 262.3 1708.0C266.8 1708.0 275.5 1706.9 277.5 1708.0C279.5 1709.1 277.3 1713.3 275.6 1715.6C273.9 1717.9 269.8 1721.8 266.1 1723.2C262.4 1724.6 253.7 1727.4 250.9 1725.1C248.0 1722.8 245.4 1710.6 247.1 1708.0Z" fill="#505050" filter="url(#nfine)"/>
<path d="M186.3 1725.1C188.9 1722.2 194.9 1723.2 197.7 1723.2C200.6 1723.2 205.3 1723.7 205.3 1725.1C205.3 1726.5 200.0 1729.8 197.7 1732.7C195.4 1735.5 192.4 1741.2 190.1 1744.1C187.8 1746.9 184.0 1752.0 182.5 1751.7C181.1 1751.4 180.1 1746.2 180.6 1742.2C181.2 1738.2 183.8 1727.9 186.3 1725.1Z" fill="#585858" filter="url(#nfine)"/>
<path d="M188.6 1586.5C189.5 1584.6 192.2 1583.5 193.9 1583.6C195.6 1583.8 198.6 1584.2 200.0 1587.4C201.4 1590.7 201.8 1598.5 203.0 1605.5C204.3 1612.4 206.5 1626.8 208.4 1633.9C210.2 1641.1 212.6 1647.2 215.2 1652.9C217.8 1658.6 223.1 1668.4 225.8 1671.9C228.6 1675.4 231.1 1676.5 233.4 1676.1C235.8 1675.7 238.8 1670.7 241.4 1669.1C244.0 1667.5 248.1 1665.1 250.9 1665.3C253.7 1665.5 258.9 1668.3 260.0 1670.4C261.1 1672.5 259.5 1677.0 258.1 1679.5C256.7 1682.0 252.5 1684.3 250.5 1687.1C248.5 1690.0 245.4 1695.1 244.8 1698.5C244.2 1701.9 245.6 1705.9 246.3 1709.9C247.1 1713.9 248.6 1720.5 249.7 1725.1C250.9 1729.6 252.2 1735.2 253.9 1740.3C255.7 1745.4 259.2 1753.6 261.5 1759.3C263.8 1765.0 268.2 1774.6 269.1 1778.3C270.0 1781.9 268.8 1783.1 267.6 1783.6C266.3 1784.0 263.2 1783.3 260.8 1781.3C258.4 1779.3 254.4 1774.2 251.6 1770.3C248.9 1766.3 245.0 1759.6 242.2 1755.1C239.3 1750.5 235.5 1744.2 232.7 1739.9C229.8 1735.6 226.1 1729.2 223.2 1726.6C220.3 1724.0 216.5 1723.9 213.3 1722.4C210.1 1720.9 205.0 1718.7 201.9 1716.7C198.8 1714.8 196.4 1710.9 192.4 1709.5C188.4 1708.1 179.8 1707.9 174.9 1707.2C170.0 1706.6 162.9 1706.1 159.7 1705.3C156.6 1704.5 154.3 1703.4 153.7 1701.9C153.0 1700.4 153.8 1696.7 155.6 1695.5C157.3 1694.2 162.0 1694.4 165.4 1693.6C168.9 1692.7 175.0 1690.9 178.7 1689.8C182.4 1688.6 188.1 1688.3 190.1 1686.0C192.2 1683.6 192.6 1678.6 192.4 1674.2C192.2 1669.8 190.2 1662.2 188.8 1656.7C187.4 1651.3 184.8 1643.2 183.1 1637.7C181.4 1632.3 178.5 1624.9 177.4 1620.7C176.3 1616.4 175.0 1611.8 175.5 1609.6C176.0 1607.5 179.1 1606.5 180.6 1606.2C182.2 1606.0 184.9 1609.7 185.9 1608.1C187.0 1606.6 187.3 1599.2 187.7 1596.0C188.1 1592.7 187.7 1588.3 188.6 1586.5Z" fill="#2a2a2a" stroke="#2a2a2a" stroke-width="1.3" stroke-linejoin="round" opacity="0.85"/>
<path d="M188.6 1586.5C189.5 1584.6 192.2 1583.5 193.9 1583.6C195.6 1583.8 198.6 1584.2 200.0 1587.4C201.4 1590.7 201.8 1598.5 203.0 1605.5C204.3 1612.4 206.5 1626.8 208.4 1633.9C210.2 1641.1 212.6 1647.2 215.2 1652.9C217.8 1658.6 223.1 1668.4 225.8 1671.9C228.6 1675.4 231.1 1676.5 233.4 1676.1C235.8 1675.7 238.8 1670.7 241.4 1669.1C244.0 1667.5 248.1 1665.1 250.9 1665.3C253.7 1665.5 258.9 1668.3 260.0 1670.4C261.1 1672.5 259.5 1677.0 258.1 1679.5C256.7 1682.0 252.5 1684.3 250.5 1687.1C248.5 1690.0 245.4 1695.1 244.8 1698.5C244.2 1701.9 245.6 1705.9 246.3 1709.9C247.1 1713.9 248.6 1720.5 249.7 1725.1C250.9 1729.6 252.2 1735.2 253.9 1740.3C255.7 1745.4 259.2 1753.6 261.5 1759.3C263.8 1765.0 268.2 1774.6 269.1 1778.3C270.0 1781.9 268.8 1783.1 267.6 1783.6C266.3 1784.0 263.2 1783.3 260.8 1781.3C258.4 1779.3 254.4 1774.2 251.6 1770.3C248.9 1766.3 245.0 1759.6 242.2 1755.1C239.3 1750.5 235.5 1744.2 232.7 1739.9C229.8 1735.6 226.1 1729.2 223.2 1726.6C220.3 1724.0 216.5 1723.9 213.3 1722.4C210.1 1720.9 205.0 1718.7 201.9 1716.7C198.8 1714.8 196.4 1710.9 192.4 1709.5C188.4 1708.1 179.8 1707.9 174.9 1707.2C170.0 1706.6 162.9 1706.1 159.7 1705.3C156.6 1704.5 154.3 1703.4 153.7 1701.9C153.0 1700.4 153.8 1696.7 155.6 1695.5C157.3 1694.2 162.0 1694.4 165.4 1693.6C168.9 1692.7 175.0 1690.9 178.7 1689.8C182.4 1688.6 188.1 1688.3 190.1 1686.0C192.2 1683.6 192.6 1678.6 192.4 1674.2C192.2 1669.8 190.2 1662.2 188.8 1656.7C187.4 1651.3 184.8 1643.2 183.1 1637.7C181.4 1632.3 178.5 1624.9 177.4 1620.7C176.3 1616.4 175.0 1611.8 175.5 1609.6C176.0 1607.5 179.1 1606.5 180.6 1606.2C182.2 1606.0 184.9 1609.7 185.9 1608.1C187.0 1606.6 187.3 1599.2 187.7 1596.0C188.1 1592.7 187.7 1588.3 188.6 1586.5Z" fill="#5c5c5c" filter="url(#nfine)"/>
<ellipse cx="222.4" cy="1690.9" rx="7.6" ry="11.4" fill="#a8a8a8" opacity="0.7" filter="url(#b1)"/>
<ellipse cx="186.3" cy="1715.6" rx="5.3" ry="4.7" fill="#c0c0c0" opacity="0.8" filter="url(#b1)"/>
<ellipse cx="256.6" cy="1670.0" rx="4.7" ry="5.7" fill="#2c2c2c" opacity="0.7" filter="url(#b1)"/>
</g>
<rect x="87.63" y="1566.20" width="283.23" height="282.66" fill="none" stroke="#1e1e1e" stroke-width="3.1"/>
<rect x="281.83" y="1822.30" width="70.06" height="3.42" fill="#fff"/>
<clipPath id="cpE4"><rect x="382.08" y="1564.65" width="286.33" height="285.76"/></clipPath>
<g clip-path="url(#cpE4)">
<rect x="382.08" y="1564.65" width="286.33" height="285.76" fill="#818181" filter="url(#nbgE)"/>
<ellipse cx="470.9" cy="1624.5" rx="113.9" ry="47.5" fill="#8e8e8e" opacity="0.5" filter="url(#b25)" transform="rotate(-30 470.9 1624.5)"/>
<ellipse cx="527.9" cy="1833.3" rx="151.9" ry="38.0" fill="#767676" opacity="0.5" filter="url(#b25)"/>
<path d="M552.6 1624.5C554.3 1624.7 557.7 1627.0 558.3 1630.2C558.8 1633.3 557.5 1641.4 556.4 1645.3C555.2 1649.3 552.1 1652.7 550.7 1656.7C549.3 1660.7 547.2 1667.4 546.9 1671.9C546.6 1676.5 547.9 1682.6 548.8 1687.1C549.6 1691.7 550.0 1699.7 552.6 1702.3C555.1 1704.9 561.6 1703.8 565.9 1704.2C570.1 1704.6 578.2 1704.3 581.1 1705.2C583.9 1706.0 585.1 1708.6 584.9 1709.9C584.6 1711.2 582.0 1713.1 579.2 1713.7C576.3 1714.3 569.6 1713.4 565.9 1713.7C562.2 1714.0 556.5 1713.9 554.5 1715.6C552.5 1717.3 552.3 1722.0 552.6 1725.1C552.9 1728.2 554.4 1733.3 556.4 1736.5C558.4 1739.6 563.9 1743.7 565.9 1746.0C567.9 1748.3 570.0 1750.2 569.7 1751.7C569.4 1753.1 566.0 1756.0 564.0 1755.5C562.0 1754.9 558.9 1749.6 556.4 1747.9C553.8 1746.2 549.4 1744.1 546.9 1744.1C544.3 1744.1 540.1 1745.0 539.3 1747.9C538.4 1750.7 540.0 1758.8 541.2 1763.1C542.3 1767.3 546.3 1772.4 546.9 1776.4C547.5 1780.3 546.1 1787.4 545.0 1789.6C543.8 1791.9 540.7 1792.7 539.3 1791.5C537.9 1790.4 536.6 1785.8 535.5 1782.0C534.4 1778.3 533.1 1770.8 531.7 1766.9C530.3 1762.9 528.8 1757.7 526.0 1755.5C523.2 1753.2 516.4 1752.2 512.7 1751.7C509.0 1751.1 504.7 1751.1 501.3 1751.7C497.9 1752.2 492.8 1754.0 489.9 1755.5C487.1 1756.9 485.2 1759.5 482.3 1761.2C479.5 1762.9 474.4 1764.3 470.9 1766.9C467.5 1769.4 461.5 1777.1 459.5 1778.3C457.6 1779.4 456.8 1776.4 457.6 1774.5C458.5 1772.5 462.7 1767.8 465.2 1765.0C467.8 1762.1 471.9 1758.3 474.7 1755.5C477.6 1752.6 482.2 1748.5 484.2 1746.0C486.2 1743.4 488.3 1740.9 488.0 1738.4C487.7 1735.8 485.5 1731.4 482.3 1728.9C479.2 1726.3 471.4 1722.7 467.1 1721.3C462.9 1719.9 455.6 1720.5 453.8 1719.4C452.1 1718.3 453.2 1714.3 455.7 1713.7C458.3 1713.1 465.8 1714.7 470.9 1715.6C476.1 1716.4 485.7 1720.2 489.9 1719.4C494.2 1718.5 496.6 1712.7 499.4 1709.9C502.3 1707.0 505.8 1703.5 508.9 1700.4C512.0 1697.3 517.2 1693.3 520.3 1689.0C523.4 1684.7 527.5 1677.3 529.8 1671.9C532.1 1666.5 533.8 1658.1 535.5 1652.9C537.2 1647.8 539.5 1641.4 541.2 1637.7C542.9 1634.0 545.2 1630.2 546.9 1628.3C548.6 1626.3 550.9 1624.2 552.6 1624.5Z" fill="#acacac" stroke="#acacac" stroke-width="3" stroke-linejoin="round" opacity="0.7" filter="url(#b1)"/>
<path d="M552.6 1624.5C554.3 1624.7 557.7 1627.0 558.3 1630.2C558.8 1633.3 557.5 1641.4 556.4 1645.3C555.2 1649.3 552.1 1652.7 550.7 1656.7C549.3 1660.7 547.2 1667.4 546.9 1671.9C546.6 1676.5 547.9 1682.6 548.8 1687.1C549.6 1691.7 550.0 1699.7 552.6 1702.3C555.1 1704.9 561.6 1703.8 565.9 1704.2C570.1 1704.6 578.2 1704.3 581.1 1705.2C583.9 1706.0 585.1 1708.6 584.9 1709.9C584.6 1711.2 582.0 1713.1 579.2 1713.7C576.3 1714.3 569.6 1713.4 565.9 1713.7C562.2 1714.0 556.5 1713.9 554.5 1715.6C552.5 1717.3 552.3 1722.0 552.6 1725.1C552.9 1728.2 554.4 1733.3 556.4 1736.5C558.4 1739.6 563.9 1743.7 565.9 1746.0C567.9 1748.3 570.0 1750.2 569.7 1751.7C569.4 1753.1 566.0 1756.0 564.0 1755.5C562.0 1754.9 558.9 1749.6 556.4 1747.9C553.8 1746.2 549.4 1744.1 546.9 1744.1C544.3 1744.1 540.1 1745.0 539.3 1747.9C538.4 1750.7 540.0 1758.8 541.2 1763.1C542.3 1767.3 546.3 1772.4 546.9 1776.4C547.5 1780.3 546.1 1787.4 545.0 1789.6C543.8 1791.9 540.7 1792.7 539.3 1791.5C537.9 1790.4 536.6 1785.8 535.5 1782.0C534.4 1778.3 533.1 1770.8 531.7 1766.9C530.3 1762.9 528.8 1757.7 526.0 1755.5C523.2 1753.2 516.4 1752.2 512.7 1751.7C509.0 1751.1 504.7 1751.1 501.3 1751.7C497.9 1752.2 492.8 1754.0 489.9 1755.5C487.1 1756.9 485.2 1759.5 482.3 1761.2C479.5 1762.9 474.4 1764.3 470.9 1766.9C467.5 1769.4 461.5 1777.1 459.5 1778.3C457.6 1779.4 456.8 1776.4 457.6 1774.5C458.5 1772.5 462.7 1767.8 465.2 1765.0C467.8 1762.1 471.9 1758.3 474.7 1755.5C477.6 1752.6 482.2 1748.5 484.2 1746.0C486.2 1743.4 488.3 1740.9 488.0 1738.4C487.7 1735.8 485.5 1731.4 482.3 1728.9C479.2 1726.3 471.4 1722.7 467.1 1721.3C462.9 1719.9 455.6 1720.5 453.8 1719.4C452.1 1718.3 453.2 1714.3 455.7 1713.7C458.3 1713.1 465.8 1714.7 470.9 1715.6C476.1 1716.4 485.7 1720.2 489.9 1719.4C494.2 1718.5 496.6 1712.7 499.4 1709.9C502.3 1707.0 505.8 1703.5 508.9 1700.4C512.0 1697.3 517.2 1693.3 520.3 1689.0C523.4 1684.7 527.5 1677.3 529.8 1671.9C532.1 1666.5 533.8 1658.1 535.5 1652.9C537.2 1647.8 539.5 1641.4 541.2 1637.7C542.9 1634.0 545.2 1630.2 546.9 1628.3C548.6 1626.3 550.9 1624.2 552.6 1624.5Z" fill="#303030" stroke="#303030" stroke-width="1.2" stroke-linejoin="round" opacity="0.8"/>
<path d="M552.6 1624.5C554.3 1624.7 557.7 1627.0 558.3 1630.2C558.8 1633.3 557.5 1641.4 556.4 1645.3C555.2 1649.3 552.1 1652.7 550.7 1656.7C549.3 1660.7 547.2 1667.4 546.9 1671.9C546.6 1676.5 547.9 1682.6 548.8 1687.1C549.6 1691.7 550.0 1699.7 552.6 1702.3C555.1 1704.9 561.6 1703.8 565.9 1704.2C570.1 1704.6 578.2 1704.3 581.1 1705.2C583.9 1706.0 585.1 1708.6 584.9 1709.9C584.6 1711.2 582.0 1713.1 579.2 1713.7C576.3 1714.3 569.6 1713.4 565.9 1713.7C562.2 1714.0 556.5 1713.9 554.5 1715.6C552.5 1717.3 552.3 1722.0 552.6 1725.1C552.9 1728.2 554.4 1733.3 556.4 1736.5C558.4 1739.6 563.9 1743.7 565.9 1746.0C567.9 1748.3 570.0 1750.2 569.7 1751.7C569.4 1753.1 566.0 1756.0 564.0 1755.5C562.0 1754.9 558.9 1749.6 556.4 1747.9C553.8 1746.2 549.4 1744.1 546.9 1744.1C544.3 1744.1 540.1 1745.0 539.3 1747.9C538.4 1750.7 540.0 1758.8 541.2 1763.1C542.3 1767.3 546.3 1772.4 546.9 1776.4C547.5 1780.3 546.1 1787.4 545.0 1789.6C543.8 1791.9 540.7 1792.7 539.3 1791.5C537.9 1790.4 536.6 1785.8 535.5 1782.0C534.4 1778.3 533.1 1770.8 531.7 1766.9C530.3 1762.9 528.8 1757.7 526.0 1755.5C523.2 1753.2 516.4 1752.2 512.7 1751.7C509.0 1751.1 504.7 1751.1 501.3 1751.7C497.9 1752.2 492.8 1754.0 489.9 1755.5C487.1 1756.9 485.2 1759.5 482.3 1761.2C479.5 1762.9 474.4 1764.3 470.9 1766.9C467.5 1769.4 461.5 1777.1 459.5 1778.3C457.6 1779.4 456.8 1776.4 457.6 1774.5C458.5 1772.5 462.7 1767.8 465.2 1765.0C467.8 1762.1 471.9 1758.3 474.7 1755.5C477.6 1752.6 482.2 1748.5 484.2 1746.0C486.2 1743.4 488.3 1740.9 488.0 1738.4C487.7 1735.8 485.5 1731.4 482.3 1728.9C479.2 1726.3 471.4 1722.7 467.1 1721.3C462.9 1719.9 455.6 1720.5 453.8 1719.4C452.1 1718.3 453.2 1714.3 455.7 1713.7C458.3 1713.1 465.8 1714.7 470.9 1715.6C476.1 1716.4 485.7 1720.2 489.9 1719.4C494.2 1718.5 496.6 1712.7 499.4 1709.9C502.3 1707.0 505.8 1703.5 508.9 1700.4C512.0 1697.3 517.2 1693.3 520.3 1689.0C523.4 1684.7 527.5 1677.3 529.8 1671.9C532.1 1666.5 533.8 1658.1 535.5 1652.9C537.2 1647.8 539.5 1641.4 541.2 1637.7C542.9 1634.0 545.2 1630.2 546.9 1628.3C548.6 1626.3 550.9 1624.2 552.6 1624.5Z" fill="#6c6c6c" filter="url(#nfine)"/>
<ellipse cx="485.2" cy="1711.8" rx="13.3" ry="5.7" fill="#3a3a3a" opacity="0.8" filter="url(#b1)" transform="rotate(20 485.2 1711.8)"/>
<ellipse cx="563.0" cy="1749.8" rx="4.2" ry="5.3" fill="#e0e0e0" opacity="0.9" filter="url(#b1)"/>
<ellipse cx="558.3" cy="1691.9" rx="7.6" ry="2.7" fill="#d0d0d0" opacity="0.8" filter="url(#b1)" transform="rotate(-20 558.3 1691.9)"/>
<ellipse cx="482.3" cy="1751.7" rx="7.6" ry="11.4" fill="#4a4a4a" opacity="0.6" filter="url(#b1)" transform="rotate(40 482.3 1751.7)"/>
<ellipse cx="543.1" cy="1783.9" rx="4.2" ry="6.6" fill="#3c3c3c" opacity="0.7" filter="url(#b1)"/>
<ellipse cx="552.6" cy="1826.1" rx="1.7" ry="2.1" fill="#4a4a4a" opacity="0.9"/>
<ellipse cx="459.2" cy="1826.1" rx="1.5" ry="1.7" fill="#5a5a5a" opacity="0.9"/>
</g>
<rect x="383.63" y="1566.20" width="283.23" height="282.66" fill="none" stroke="#1e1e1e" stroke-width="3.1"/>
<rect x="581.06" y="1822.30" width="69.68" height="3.42" fill="#fff"/>
<text x="1251" y="66" font-size="37" text-anchor="middle" letter-spacing="0.9">βAPN (µM)</text>
<line x1="955.9" y1="77.8" x2="1548.4" y2="77.8" stroke="#000" stroke-width="1.4"/>
<text x="956" y="128.8" font-size="37" text-anchor="middle">0</text>
<text x="1253" y="128.8" font-size="37" text-anchor="middle">10</text>
<text x="1548" y="128.8" font-size="37" text-anchor="middle">100</text>
<text x="225.6" y="1256.9" font-size="35.9" text-anchor="middle">no DOX</text>
<text x="523.8" y="1259.8" font-size="34.8" text-anchor="middle">DOX</text>
<text x="74.2" y="1409.5" font-size="35.2" text-anchor="middle" transform="rotate(-90 74.2 1409.5)">shRNA.1</text>
<text x="74.2" y="1692.9" font-size="35.2" text-anchor="middle" transform="rotate(-90 74.2 1692.9)">shRNA.2</text>
</svg>
</body>
</html>
